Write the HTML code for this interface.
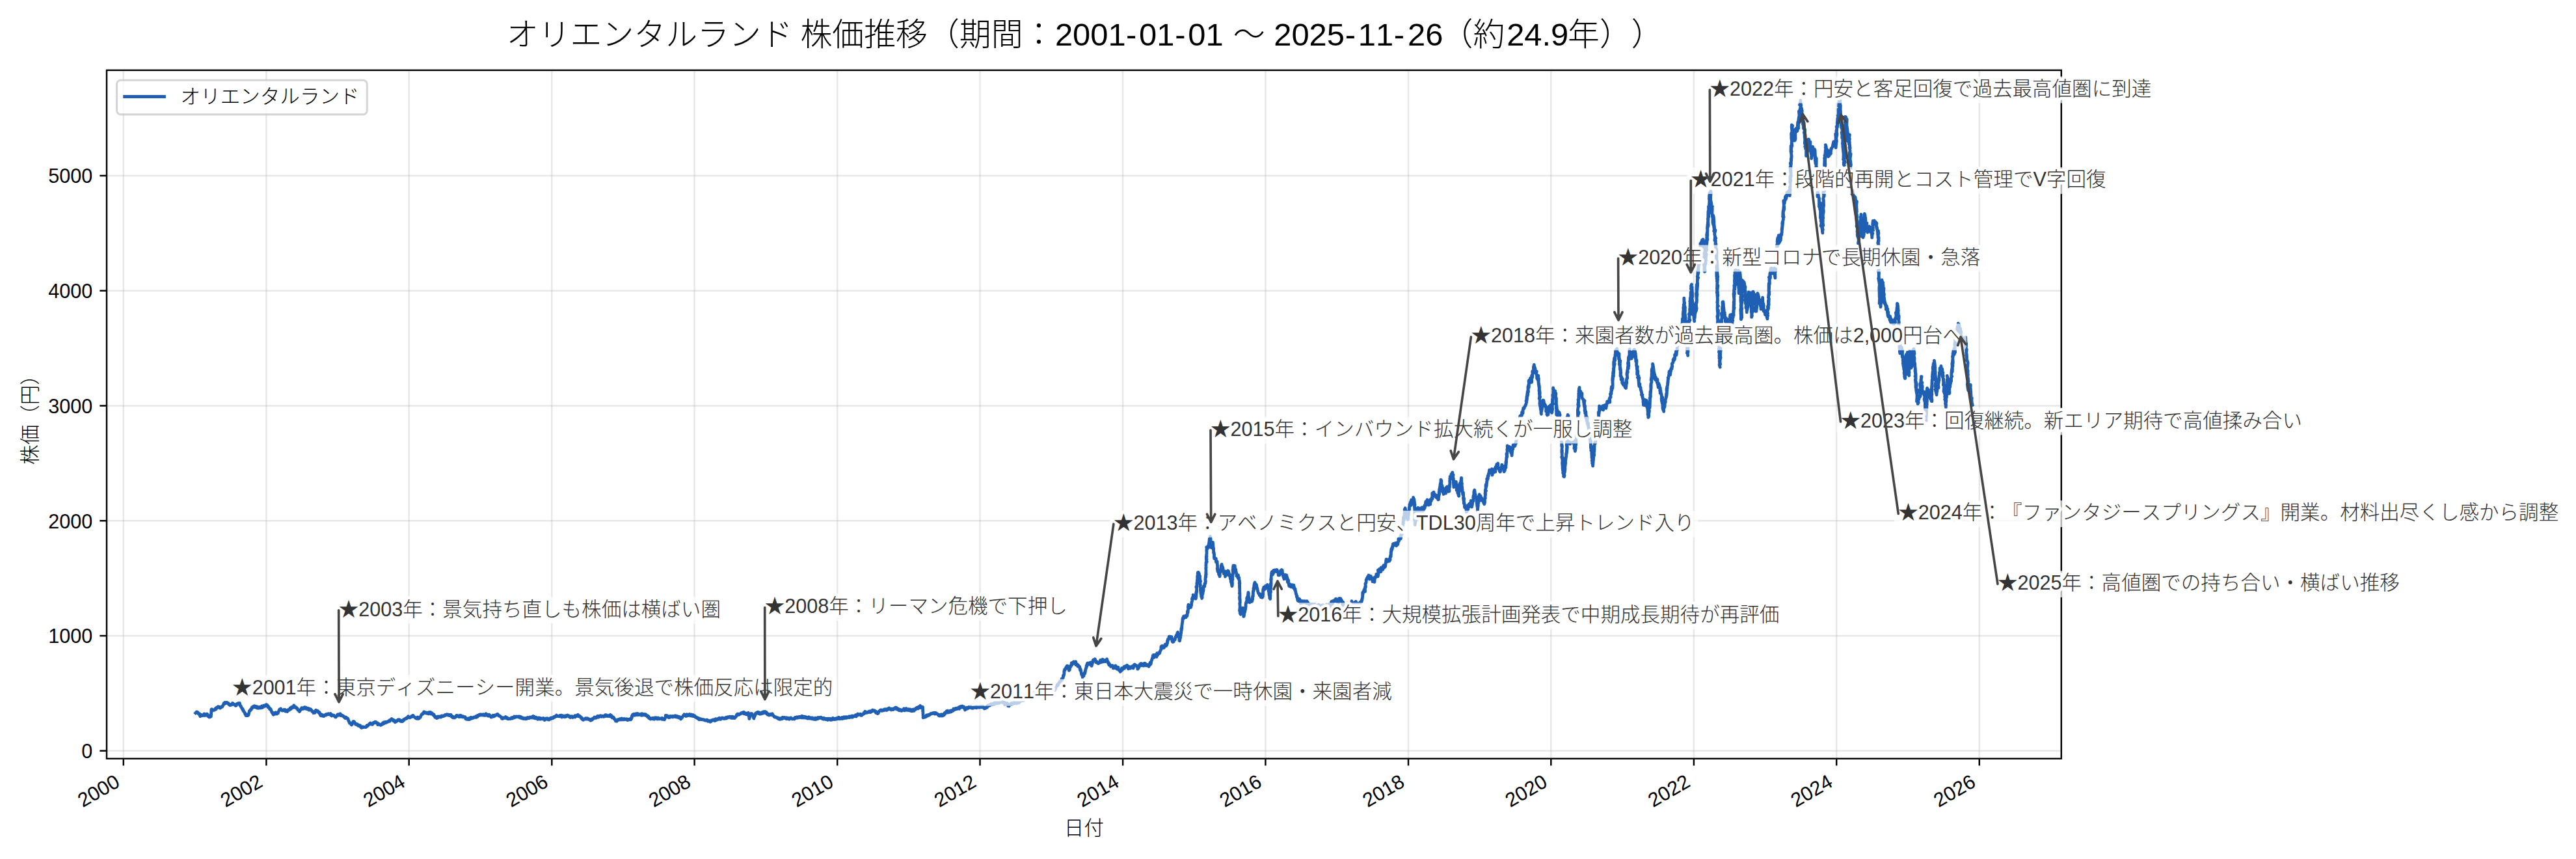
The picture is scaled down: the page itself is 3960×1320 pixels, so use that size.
<!DOCTYPE html>
<html><head><meta charset="utf-8"><title>オリエンタルランド 株価推移</title>
<style>html,body{margin:0;padding:0;background:#fff;}svg{display:block;}text{font-family:"Liberation Sans", "Noto Sans CJK JP", sans-serif;text-spacing-trim:space-all;font-kerning:none;}text{font-weight:300;}</style></head><body>
<svg width="3960" height="1320" viewBox="0 0 3960 1320">
<rect x="0" y="0" width="3960" height="1320" fill="#ffffff"/>
<defs><clipPath id="axclip"><rect x="164.0" y="107.9" width="3004.80" height="1057.90"/></clipPath></defs>
<g stroke="#b0b0b0" stroke-opacity="0.3" stroke-width="2.44" fill="none" clip-path="url(#axclip)"><path d="M189.80 107.9V1165.8"/><path d="M409.40 107.9V1165.8"/><path d="M628.70 107.9V1165.8"/><path d="M848.30 107.9V1165.8"/><path d="M1067.60 107.9V1165.8"/><path d="M1287.20 107.9V1165.8"/><path d="M1506.50 107.9V1165.8"/><path d="M1726.10 107.9V1165.8"/><path d="M1945.40 107.9V1165.8"/><path d="M2165.00 107.9V1165.8"/><path d="M2384.30 107.9V1165.8"/><path d="M2603.90 107.9V1165.8"/><path d="M2823.20 107.9V1165.8"/><path d="M3042.80 107.9V1165.8"/><path d="M164.0 1153.80H3168.8"/><path d="M164.0 977.05H3168.8"/><path d="M164.0 800.30H3168.8"/><path d="M164.0 623.55H3168.8"/><path d="M164.0 446.80H3168.8"/><path d="M164.0 270.05H3168.8"/></g>
<path d="M189.80 1165.8v10.69M409.40 1165.8v10.69M628.70 1165.8v10.69M848.30 1165.8v10.69M1067.60 1165.8v10.69M1287.20 1165.8v10.69M1506.50 1165.8v10.69M1726.10 1165.8v10.69M1945.40 1165.8v10.69M2165.00 1165.8v10.69M2384.30 1165.8v10.69M2603.90 1165.8v10.69M2823.20 1165.8v10.69M3042.80 1165.8v10.69M164.0 1153.80h-10.69M164.0 977.05h-10.69M164.0 800.30h-10.69M164.0 623.55h-10.69M164.0 446.80h-10.69M164.0 270.05h-10.69" stroke="#000" stroke-width="2.44" fill="none"/>
<polyline points="300.6,1095.7 301.0,1095.2 301.4,1095.2 302.0,1094.2 302.3,1093.8 302.8,1093.8 303.3,1094.8 303.7,1094.3 304.1,1094.6 304.6,1096.0 305.0,1096.9 305.5,1096.2 305.9,1097.0 306.4,1097.5 307.1,1097.1 307.3,1099.7 307.7,1100.7 308.1,1100.3 308.6,1100.0 309.1,1100.0 309.7,1098.5 309.9,1098.6 310.6,1099.6 310.8,1099.1 311.4,1099.5 311.8,1099.5 312.2,1099.3 313.0,1099.3 313.3,1098.8 313.7,1096.9 314.2,1098.9 314.7,1099.6 315.2,1098.4 315.6,1097.5 316.1,1097.7 316.5,1097.5 317.0,1099.0 317.3,1097.5 317.9,1097.1 318.6,1097.1 318.8,1098.7 319.5,1100.3 320.0,1099.7 320.5,1099.4 320.9,1101.7 321.5,1102.0 321.6,1101.3 322.2,1101.9 322.6,1101.9 323.1,1101.7 323.5,1100.5 323.9,1101.3 324.4,1101.1 324.4,1099.5 324.4,1097.7 324.6,1098.1 324.7,1095.2 324.6,1095.7 325.0,1093.8 324.8,1093.2 324.9,1090.9 324.9,1090.1 325.3,1089.8 326.0,1090.3 326.2,1090.2 326.9,1091.3 327.4,1091.0 327.8,1090.9 328.1,1091.4 328.8,1090.8 329.0,1090.7 329.6,1091.2 330.0,1091.0 330.6,1089.7 331.0,1088.8 331.4,1089.2 332.1,1088.1 332.4,1089.7 332.7,1087.7 333.4,1086.9 333.7,1087.0 334.3,1086.6 334.7,1086.7 335.4,1085.8 335.5,1086.4 336.1,1087.2 336.5,1086.8 337.1,1086.9 337.7,1086.4 337.8,1087.3 338.5,1088.2 338.9,1087.7 339.3,1087.4 339.9,1087.2 340.2,1086.9 340.8,1086.2 341.2,1086.0 341.8,1086.1 342.0,1084.9 342.6,1083.9 343.0,1083.8 343.6,1083.0 344.1,1080.6 344.5,1081.1 344.7,1080.8 345.3,1081.5 345.6,1079.5 346.2,1079.7 346.5,1080.6 347.0,1079.4 347.5,1080.5 348.0,1080.2 348.2,1079.4 349.1,1079.3 349.4,1080.2 349.8,1080.4 350.3,1080.6 351.0,1080.5 351.4,1082.2 351.7,1082.1 352.2,1082.4 352.9,1083.3 353.2,1082.5 353.7,1083.8 354.1,1083.3 354.5,1083.5 355.1,1082.8 355.5,1082.7 356.2,1081.9 356.2,1083.2 356.6,1081.8 357.0,1081.6 357.5,1080.2 358.2,1081.3 358.4,1081.1 359.1,1081.9 359.2,1082.0 359.9,1082.8 360.6,1082.9 360.8,1083.3 361.0,1083.1 361.6,1084.0 362.0,1082.6 362.3,1084.5 363.0,1083.1 363.3,1084.1 364.0,1081.7 364.2,1081.5 364.8,1082.0 365.4,1080.8 365.7,1080.8 366.4,1081.5 366.6,1081.8 367.1,1080.0 367.5,1081.5 368.1,1079.9 368.6,1081.3 369.1,1084.3 369.5,1084.5 370.2,1084.9 370.6,1086.4 371.2,1086.9 371.5,1087.7 372.0,1088.5 372.3,1089.4 372.8,1089.8 373.2,1089.4 373.6,1091.5 374.3,1092.8 374.7,1092.6 375.0,1093.6 375.6,1094.5 375.8,1094.7 376.2,1095.0 376.6,1096.8 377.2,1098.1 377.6,1096.9 378.0,1099.7 378.5,1099.4 378.9,1099.7 379.5,1098.3 379.6,1099.0 380.3,1099.0 380.7,1098.4 381.2,1099.5 381.4,1098.2 382.0,1098.8 382.4,1097.6 382.5,1096.2 382.9,1095.3 383.2,1093.6 383.4,1092.3 384.1,1091.9 384.4,1091.4 384.9,1091.8 385.3,1090.0 385.9,1089.6 386.4,1090.3 386.7,1088.9 387.3,1087.7 387.5,1086.6 388.0,1087.8 388.5,1087.2 388.9,1086.9 389.4,1087.0 389.9,1085.1 390.2,1086.1 390.8,1085.8 391.3,1084.8 391.8,1085.5 392.3,1086.6 392.5,1085.2 393.1,1086.1 393.7,1087.4 394.1,1087.3 394.5,1085.9 394.9,1085.7 395.5,1088.1 396.0,1087.7 396.4,1087.5 397.0,1088.1 397.3,1087.0 397.9,1088.2 398.1,1086.6 398.7,1087.3 399.3,1086.6 399.5,1086.9 399.9,1088.1 400.4,1086.6 400.9,1087.7 401.4,1086.3 401.8,1086.0 402.4,1085.1 402.8,1087.7 403.1,1085.2 403.7,1085.2 403.9,1085.4 404.6,1086.7 405.3,1084.1 405.6,1084.8 406.1,1085.2 406.5,1084.8 407.0,1085.2 407.4,1083.7 407.8,1084.2 408.3,1085.0 408.7,1084.8 409.1,1083.9 409.5,1082.7 410.4,1084.1 410.6,1083.3 411.1,1084.0 411.6,1084.2 412.2,1086.7 412.5,1085.5 412.9,1086.6 413.3,1086.5 413.8,1087.9 414.3,1089.4 414.9,1088.5 415.4,1089.4 415.8,1090.1 416.2,1089.6 416.5,1091.7 417.2,1092.1 417.4,1093.8 417.9,1093.8 418.3,1095.4 419.0,1095.9 419.5,1096.6 419.8,1097.6 420.2,1098.2 420.7,1096.4 421.2,1096.3 421.7,1095.4 422.2,1095.5 422.6,1097.3 423.1,1096.9 423.3,1095.4 423.9,1094.7 424.3,1095.0 424.9,1095.7 425.2,1095.3 425.7,1097.1 426.1,1095.9 426.5,1095.9 427.0,1095.8 427.4,1095.9 427.8,1094.3 428.3,1093.5 428.8,1092.2 429.3,1091.0 429.7,1090.1 430.3,1089.9 430.8,1089.9 431.0,1089.8 431.6,1089.1 432.1,1090.3 432.4,1090.5 433.0,1091.6 433.5,1091.7 433.9,1092.0 434.4,1091.2 434.7,1091.6 435.2,1091.2 435.8,1091.6 436.2,1091.0 436.5,1090.6 437.1,1091.7 437.5,1092.1 438.1,1090.6 438.4,1092.2 438.8,1093.0 439.3,1091.4 439.7,1091.7 440.1,1091.8 440.3,1091.9 440.9,1092.9 441.4,1092.4 441.8,1093.4 442.3,1090.9 442.5,1090.8 443.1,1090.4 443.6,1091.1 444.1,1090.9 444.4,1091.3 444.9,1090.1 445.4,1090.4 445.9,1088.2 446.3,1088.2 446.8,1088.7 447.2,1089.6 447.6,1086.8 448.0,1087.4 448.6,1087.3 448.8,1087.2 449.3,1088.0 449.7,1086.0 450.2,1085.7 450.7,1085.7 451.3,1087.1 451.7,1084.0 452.0,1086.0 452.7,1085.2 453.1,1086.4 453.7,1085.9 454.0,1087.0 454.5,1087.6 454.8,1086.7 455.4,1087.2 455.5,1087.8 456.1,1087.6 456.9,1089.4 457.2,1088.9 457.7,1090.9 458.2,1091.4 458.8,1091.3 459.2,1091.1 459.4,1092.4 460.0,1092.4 460.4,1093.5 461.0,1092.2 461.4,1090.9 461.7,1091.7 462.1,1090.7 462.5,1089.8 463.3,1089.6 463.7,1087.7 464.1,1088.7 464.7,1088.9 465.2,1089.0 465.7,1089.4 466.1,1087.9 466.4,1088.7 466.8,1087.4 467.4,1087.0 467.8,1087.0 468.2,1087.2 468.5,1086.7 469.3,1089.1 469.5,1088.3 470.1,1087.1 470.4,1087.1 470.7,1088.4 471.4,1088.3 471.5,1089.2 472.1,1089.7 472.6,1088.9 473.2,1088.3 473.6,1089.3 474.0,1089.5 474.4,1088.6 474.9,1091.1 475.4,1089.8 475.6,1089.5 476.3,1089.4 476.8,1091.1 477.1,1089.6 477.9,1090.2 478.1,1090.2 478.7,1091.2 479.3,1091.9 479.7,1092.5 479.9,1093.4 480.5,1093.1 480.9,1093.7 481.7,1094.1 481.8,1095.6 482.4,1093.7 482.8,1095.4 483.3,1094.7 483.7,1095.4 484.2,1095.2 484.4,1094.4 485.2,1091.8 485.6,1091.3 485.9,1091.5 486.4,1092.9 486.8,1091.8 487.3,1092.1 487.8,1092.2 488.2,1093.1 488.5,1093.3 488.7,1092.6 489.4,1094.7 489.9,1094.2 490.3,1094.2 491.0,1094.6 491.2,1096.5 491.7,1097.4 492.5,1096.5 492.6,1099.4 493.0,1099.7 493.5,1098.8 493.8,1098.9 494.3,1098.1 494.8,1099.9 495.3,1100.1 495.8,1098.6 496.1,1100.4 496.5,1099.3 497.0,1099.4 497.4,1099.2 497.9,1100.6 498.5,1100.0 498.9,1099.6 499.5,1099.0 499.9,1098.9 500.5,1097.9 501.0,1098.3 501.3,1099.0 501.5,1097.7 502.2,1098.0 502.7,1098.2 503.1,1097.1 503.6,1097.7 504.1,1097.1 504.6,1096.7 504.9,1096.7 505.5,1097.9 505.9,1097.4 506.4,1097.3 506.8,1097.8 507.3,1097.3 507.8,1097.6 508.2,1096.6 508.5,1099.0 509.1,1098.2 509.5,1098.3 509.7,1100.0 510.2,1098.3 510.8,1098.6 511.3,1098.8 511.7,1099.2 512.3,1099.3 512.6,1099.2 513.2,1099.1 513.4,1100.0 514.0,1100.5 514.5,1100.7 515.1,1101.5 515.5,1101.9 515.9,1101.1 516.4,1101.9 517.0,1100.6 517.2,1100.3 517.8,1100.1 518.4,1098.6 518.7,1098.9 519.2,1097.8 519.7,1098.9 520.1,1099.2 520.6,1098.2 521.1,1097.7 521.7,1098.4 521.9,1098.6 522.2,1098.2 523.1,1096.8 523.5,1099.7 523.8,1099.0 524.4,1098.6 524.9,1099.6 525.2,1098.8 525.5,1098.8 526.1,1099.2 526.7,1100.3 527.1,1100.2 527.5,1100.0 528.1,1100.8 528.5,1100.9 529.1,1102.3 529.3,1102.0 529.9,1102.3 530.5,1102.5 530.8,1103.7 531.3,1101.9 531.9,1102.3 532.2,1103.0 532.5,1102.7 533.2,1103.1 533.7,1103.6 534.0,1104.5 534.6,1104.1 535.1,1104.8 535.5,1106.3 535.8,1107.7 536.3,1107.8 536.6,1109.7 537.1,1109.4 537.4,1111.3 538.0,1111.0 538.4,1111.6 539.1,1111.5 539.4,1112.4 539.9,1113.5 540.4,1113.9 540.7,1113.1 541.3,1113.0 541.7,1110.8 542.1,1111.0 542.4,1111.1 542.9,1108.7 543.5,1108.8 543.9,1108.7 544.4,1110.3 544.6,1109.0 545.3,1111.4 545.8,1110.9 546.2,1112.2 546.7,1113.4 547.1,1113.4 547.6,1112.5 547.9,1113.1 548.4,1112.6 548.8,1112.7 549.3,1113.3 549.7,1113.0 550.3,1115.2 550.6,1114.6 551.0,1114.3 551.6,1114.6 552.0,1114.5 552.2,1114.8 552.9,1116.0 553.3,1115.9 553.7,1114.8 554.3,1116.3 554.5,1116.5 555.0,1117.8 555.5,1117.4 556.0,1118.4 556.5,1117.3 556.6,1117.2 557.3,1117.1 557.7,1116.7 558.2,1117.4 558.6,1117.3 559.1,1117.6 559.5,1117.1 560.1,1117.4 560.5,1117.4 561.0,1117.2 561.3,1117.4 561.8,1117.5 562.3,1116.9 562.7,1117.4 563.2,1116.4 563.7,1115.2 564.1,1114.8 564.8,1115.8 565.0,1114.4 565.5,1114.3 566.0,1114.5 566.4,1114.4 566.9,1113.4 567.3,1112.9 567.7,1112.5 568.1,1112.1 568.7,1112.5 569.0,1111.7 569.5,1111.0 570.0,1112.5 570.2,1111.5 570.7,1111.9 571.2,1113.0 571.5,1112.2 572.0,1113.0 572.6,1113.3 573.0,1112.8 573.4,1112.2 574.0,1111.5 574.1,1110.5 574.7,1111.1 575.1,1110.6 575.5,1110.5 576.0,1109.9 576.5,1109.3 576.9,1109.6 577.3,1110.6 577.9,1109.4 578.4,1110.6 578.9,1111.1 579.4,1111.6 579.7,1110.8 580.4,1110.8 580.6,1113.5 581.1,1112.2 581.6,1112.3 582.2,1113.3 582.5,1112.7 582.9,1113.5 583.3,1112.7 583.8,1113.9 584.1,1113.9 584.6,1113.9 585.2,1114.5 585.7,1114.2 586.2,1114.2 586.5,1113.0 587.2,1112.8 587.4,1113.1 588.1,1112.9 588.3,1111.0 588.7,1111.4 589.3,1111.0 589.9,1110.0 590.1,1112.1 590.7,1110.5 591.2,1110.8 591.5,1110.8 592.0,1109.4 592.4,1109.3 592.9,1109.3 593.2,1110.8 593.7,1110.2 594.2,1109.7 594.7,1109.4 595.1,1109.3 595.4,1109.6 596.1,1109.0 596.3,1108.7 596.7,1108.6 597.0,1108.8 597.7,1107.6 598.2,1107.6 598.4,1107.2 599.1,1106.6 599.3,1108.3 600.0,1106.0 600.5,1105.7 600.7,1105.9 601.3,1105.7 601.5,1105.6 602.1,1104.6 602.5,1105.6 603.0,1105.5 603.4,1105.9 604.0,1106.3 604.5,1107.6 604.9,1106.1 605.4,1107.4 605.9,1107.5 606.0,1108.5 606.5,1107.3 607.1,1109.1 607.4,1109.8 607.9,1109.3 608.5,1108.8 608.9,1108.7 609.3,1108.8 609.8,1108.3 610.3,1107.1 610.8,1107.8 611.2,1107.3 611.8,1106.1 612.2,1106.8 612.6,1106.4 613.1,1105.9 613.5,1106.8 614.2,1106.0 614.3,1106.5 615.0,1107.0 615.4,1108.0 615.7,1107.4 616.2,1107.2 616.6,1108.7 617.1,1108.3 617.4,1108.0 618.1,1107.8 618.4,1108.7 618.8,1108.7 619.3,1106.6 619.9,1107.4 620.2,1106.5 620.6,1105.6 621.0,1106.8 621.7,1105.7 621.9,1105.3 622.5,1104.6 622.9,1104.2 623.4,1104.7 623.8,1104.4 624.3,1103.5 624.8,1103.1 625.1,1104.3 625.9,1103.0 626.1,1102.9 626.6,1102.6 627.3,1102.5 627.5,1100.7 628.0,1102.0 628.5,1102.5 628.9,1102.3 629.2,1102.2 629.7,1102.4 630.1,1102.8 630.8,1102.5 631.2,1102.0 631.7,1101.9 632.1,1101.3 632.3,1100.8 632.8,1101.5 633.2,1100.2 633.9,1100.1 634.3,1099.5 634.7,1100.0 635.2,1099.5 635.6,1100.3 636.2,1101.5 636.5,1101.4 637.0,1101.7 637.3,1102.1 637.9,1102.6 638.4,1103.0 638.9,1103.2 639.2,1103.8 639.6,1103.2 640.1,1103.6 640.6,1103.5 640.9,1104.2 641.5,1102.9 642.0,1102.1 642.6,1104.4 643.0,1104.1 643.4,1104.4 643.9,1102.7 644.3,1104.0 644.7,1103.5 645.2,1102.9 645.6,1102.4 646.1,1102.4 646.7,1100.6 647.0,1100.3 647.5,1098.9 647.9,1098.5 648.3,1098.3 648.7,1097.1 649.2,1097.6 649.6,1097.3 650.0,1096.1 650.5,1096.8 650.8,1095.5 651.3,1095.0 651.8,1093.7 652.2,1094.7 652.8,1095.2 653.1,1095.4 653.6,1095.1 654.3,1095.0 654.5,1095.7 655.0,1094.9 655.6,1095.8 655.8,1096.2 656.3,1096.3 656.9,1095.9 657.2,1095.3 657.9,1095.8 658.2,1095.2 658.8,1094.7 659.0,1097.0 659.5,1094.5 660.0,1094.5 660.4,1094.7 660.8,1096.4 661.2,1095.5 661.8,1094.4 662.1,1096.8 662.6,1097.1 663.0,1097.0 663.6,1095.5 664.1,1095.8 664.8,1097.3 665.0,1097.6 665.4,1098.0 665.8,1098.2 666.4,1099.2 666.9,1097.7 667.4,1099.7 667.7,1099.7 668.1,1100.3 668.7,1102.2 669.0,1101.3 669.5,1101.1 669.9,1101.8 670.4,1102.4 670.8,1102.9 671.2,1103.6 671.8,1101.6 672.1,1102.4 672.7,1103.2 673.2,1101.0 673.7,1102.8 673.9,1102.2 674.6,1101.8 675.0,1101.5 675.3,1100.9 675.8,1101.8 676.0,1101.7 676.7,1101.1 677.2,1101.9 677.5,1101.7 678.0,1101.9 678.5,1100.2 678.9,1100.0 679.4,1101.2 680.1,1100.1 680.3,1100.4 680.8,1100.4 681.3,1100.6 681.8,1100.4 682.2,1100.3 682.8,1099.4 683.1,1099.5 683.6,1099.8 684.1,1098.6 684.6,1099.4 685.2,1098.6 685.5,1098.4 686.0,1098.2 686.4,1098.4 686.9,1097.7 687.3,1098.7 687.6,1098.4 687.9,1098.9 688.6,1099.0 689.0,1098.0 689.7,1098.8 689.9,1099.4 690.4,1098.8 690.8,1099.1 691.5,1098.5 691.8,1098.8 692.2,1098.5 692.5,1100.0 693.1,1098.3 693.6,1099.5 694.0,1101.0 694.6,1101.6 694.8,1100.8 695.2,1101.7 695.9,1100.8 696.2,1102.8 696.8,1102.8 697.4,1102.0 697.6,1102.9 698.1,1102.0 698.4,1102.4 699.1,1102.9 699.4,1102.5 700.2,1101.2 700.5,1101.9 701.0,1101.1 701.5,1099.4 701.9,1101.0 702.3,1100.0 702.8,1099.9 703.0,1100.6 703.7,1099.6 704.1,1099.9 704.5,1100.1 705.1,1101.3 705.3,1100.4 705.9,1101.8 706.3,1100.9 706.6,1100.9 707.3,1099.3 707.6,1101.3 708.1,1100.6 708.5,1100.8 709.0,1099.6 709.4,1101.2 709.9,1100.4 710.3,1100.7 710.9,1101.8 711.5,1101.4 711.8,1100.7 712.3,1101.9 712.8,1101.1 713.3,1101.7 713.9,1101.8 714.1,1102.2 714.5,1102.3 715.1,1101.8 715.5,1103.0 715.8,1104.5 716.2,1104.3 716.7,1105.2 717.2,1104.4 717.5,1104.3 718.1,1104.2 718.6,1105.4 719.1,1105.6 719.4,1104.1 719.9,1104.5 720.4,1105.6 721.0,1105.6 721.5,1103.4 721.7,1105.5 722.0,1103.8 722.6,1104.8 723.1,1103.4 723.6,1104.6 724.2,1102.3 724.4,1103.5 725.0,1103.4 725.3,1103.1 725.8,1103.4 726.1,1103.8 726.7,1103.4 727.1,1102.8 727.6,1103.2 727.9,1102.8 728.4,1102.7 728.8,1101.9 729.3,1102.2 729.8,1101.9 730.2,1102.3 730.7,1101.8 731.1,1102.2 731.6,1100.7 732.1,1102.5 732.3,1102.0 732.8,1101.7 732.9,1101.2 733.7,1099.8 734.1,1101.4 734.6,1099.4 734.8,1099.5 735.5,1098.9 735.9,1099.3 736.2,1099.8 736.7,1098.3 737.2,1098.8 737.6,1099.1 738.1,1098.3 738.5,1097.9 739.0,1098.4 739.5,1098.8 740.0,1098.0 740.5,1098.2 740.9,1098.2 741.4,1099.1 741.8,1098.9 742.2,1097.9 742.6,1098.3 743.0,1098.8 743.4,1097.8 744.0,1098.9 744.3,1099.2 744.8,1098.1 745.3,1098.2 745.9,1099.4 745.9,1098.1 746.6,1097.4 747.1,1096.7 747.6,1099.1 747.9,1098.9 748.3,1097.5 748.9,1098.8 749.3,1099.0 749.8,1100.0 750.2,1099.7 750.6,1098.6 751.1,1098.2 751.5,1100.3 752.0,1098.2 752.5,1099.3 752.9,1099.0 753.5,1100.3 753.8,1100.1 754.0,1100.0 754.7,1100.6 755.0,1102.2 755.7,1102.2 756.0,1101.6 756.6,1101.4 757.2,1100.7 757.5,1100.2 757.9,1099.2 758.4,1099.4 758.9,1101.0 759.3,1100.0 759.8,1100.7 760.3,1100.3 760.7,1099.0 761.1,1099.3 761.6,1099.6 762.0,1098.6 762.6,1098.6 763.0,1098.4 763.6,1097.7 764.0,1098.2 764.5,1098.3 764.9,1097.2 765.3,1099.1 765.8,1098.3 766.2,1099.2 766.8,1100.0 767.2,1100.0 767.7,1099.9 768.1,1099.8 768.7,1100.6 769.1,1101.1 769.7,1101.5 769.9,1101.9 770.4,1101.7 770.7,1101.9 771.3,1103.6 771.6,1104.3 772.2,1104.1 772.7,1104.4 773.1,1103.6 773.6,1103.1 773.8,1102.9 774.7,1103.3 774.9,1102.9 775.4,1102.8 775.6,1102.9 776.2,1103.4 776.7,1102.8 777.2,1101.5 777.6,1102.8 778.0,1102.9 778.5,1102.5 779.0,1102.5 779.5,1104.3 779.7,1102.8 780.3,1103.4 780.6,1103.9 781.1,1104.9 781.8,1104.7 782.1,1104.4 782.6,1104.6 783.2,1104.4 783.5,1104.4 784.2,1104.1 784.5,1104.7 784.8,1104.0 785.4,1103.9 785.8,1103.7 786.2,1102.9 786.9,1104.1 787.3,1103.5 787.9,1102.6 788.3,1103.7 788.7,1103.2 789.1,1103.0 789.6,1101.9 790.0,1102.2 790.6,1100.9 791.2,1102.8 791.5,1102.2 791.9,1101.7 792.5,1101.8 793.0,1101.3 793.3,1102.1 793.7,1101.9 794.1,1101.0 794.6,1101.3 795.0,1101.4 795.4,1101.1 795.9,1101.5 796.5,1101.2 796.8,1102.1 797.4,1101.0 797.8,1101.1 798.1,1101.9 798.7,1102.1 799.2,1101.0 799.6,1103.1 799.9,1102.4 800.2,1102.0 800.6,1102.7 801.3,1101.9 801.6,1102.5 802.2,1103.9 802.6,1102.9 802.8,1103.6 803.4,1103.3 803.9,1103.1 804.5,1104.0 804.8,1104.6 805.1,1104.0 805.7,1104.3 806.0,1103.6 806.5,1103.7 807.2,1104.7 807.3,1103.8 808.1,1104.5 808.6,1104.0 808.9,1103.5 809.4,1103.8 809.8,1104.6 810.1,1103.1 810.8,1103.6 811.3,1102.6 811.5,1103.1 812.3,1103.5 812.6,1103.5 813.2,1103.8 813.6,1103.1 814.1,1102.9 814.6,1102.0 814.8,1101.9 815.5,1102.5 815.8,1102.7 816.3,1102.1 816.7,1102.4 817.1,1102.6 817.6,1103.0 818.0,1102.1 818.4,1101.5 819.1,1101.2 819.4,1100.5 819.9,1101.7 820.4,1103.2 820.8,1101.8 821.1,1101.0 821.8,1102.5 822.3,1102.7 822.7,1102.3 823.0,1104.0 823.5,1103.7 824.1,1102.3 824.6,1103.5 825.1,1102.8 825.5,1104.3 825.9,1103.2 826.4,1104.0 826.6,1105.4 827.2,1103.6 827.9,1103.1 828.3,1103.7 828.5,1103.8 829.0,1104.4 829.5,1105.0 829.9,1103.1 830.4,1104.1 830.7,1105.1 831.3,1104.7 831.7,1104.9 832.1,1104.0 832.6,1103.9 833.2,1104.5 833.7,1104.3 833.9,1104.5 834.3,1104.8 834.7,1105.0 835.3,1103.4 835.7,1104.7 836.2,1104.6 836.6,1105.2 837.2,1106.6 837.6,1105.7 838.0,1104.9 838.3,1105.0 838.7,1105.7 839.2,1104.0 839.9,1104.4 840.2,1104.5 840.6,1104.2 841.3,1103.7 841.6,1105.1 842.1,1105.6 842.5,1104.4 843.1,1105.6 843.5,1104.9 844.0,1106.0 844.4,1105.2 844.9,1105.0 845.2,1105.3 845.7,1104.8 846.1,1103.5 846.5,1104.1 847.2,1104.5 847.4,1104.4 848.0,1103.0 848.5,1103.0 848.9,1103.1 849.3,1103.0 849.8,1103.7 850.2,1102.9 850.8,1102.0 851.1,1103.0 851.5,1101.5 851.9,1101.3 852.5,1102.2 853.0,1101.2 853.3,1101.3 853.9,1101.4 854.3,1100.3 854.8,1100.6 855.4,1099.1 855.8,1100.5 856.2,1100.0 856.4,1100.5 857.2,1100.3 857.5,1100.4 858.0,1100.7 858.2,1100.4 858.9,1100.6 859.1,1100.6 859.6,1100.2 860.0,1100.3 860.5,1100.9 860.8,1099.4 861.4,1099.6 861.8,1100.0 862.2,1099.3 862.7,1100.6 863.3,1099.3 863.6,1102.0 864.0,1099.6 864.4,1101.0 864.9,1100.8 865.4,1101.3 865.8,1100.1 866.3,1100.8 866.5,1099.9 867.1,1100.7 867.6,1100.6 868.1,1101.8 868.5,1101.7 869.0,1100.9 869.5,1100.5 869.9,1099.9 870.2,1101.4 870.8,1100.0 871.3,1100.5 871.8,1100.1 872.1,1100.0 872.5,1098.9 873.2,1100.1 873.5,1100.0 874.2,1100.1 874.4,1099.8 874.8,1101.4 875.4,1100.6 875.8,1101.1 876.3,1101.6 876.7,1102.6 877.0,1102.3 877.6,1100.7 878.1,1101.3 878.6,1101.3 879.0,1101.0 879.4,1100.7 880.0,1102.1 880.2,1102.5 880.7,1101.1 881.1,1101.6 881.6,1101.7 882.0,1101.9 882.7,1101.8 883.1,1101.4 883.3,1100.9 884.0,1099.7 884.1,1102.2 884.7,1100.0 885.2,1099.8 885.7,1100.8 886.0,1100.7 886.8,1099.7 886.8,1099.3 887.5,1099.6 887.9,1099.4 888.4,1098.2 888.8,1100.6 889.3,1100.1 889.7,1100.2 890.3,1100.1 890.8,1101.1 891.2,1100.2 891.8,1101.6 892.1,1101.1 892.6,1102.1 893.1,1102.1 893.2,1103.3 893.9,1102.6 894.2,1104.3 894.6,1103.3 895.2,1105.5 895.6,1105.2 896.3,1104.9 896.6,1106.3 896.9,1105.1 897.3,1105.4 897.8,1105.4 898.3,1105.2 898.9,1104.9 899.2,1105.0 899.6,1104.2 900.2,1103.7 900.4,1104.3 900.9,1105.0 901.4,1104.1 901.9,1105.1 902.3,1104.8 902.7,1103.8 903.1,1104.4 903.5,1105.1 904.0,1104.2 904.5,1104.3 904.9,1105.6 905.4,1105.2 906.0,1105.9 906.3,1105.3 906.6,1105.6 907.2,1105.8 907.5,1105.7 908.0,1107.2 908.4,1106.4 908.9,1106.3 909.4,1106.5 909.7,1105.1 910.2,1106.0 910.8,1105.8 911.1,1104.0 911.5,1103.9 912.0,1104.0 912.3,1104.2 912.9,1103.6 913.4,1102.8 913.8,1102.1 914.3,1102.9 914.9,1102.7 915.1,1102.6 915.5,1103.2 916.2,1102.3 916.5,1103.2 916.7,1102.9 917.2,1102.8 917.7,1102.2 918.1,1102.1 918.4,1100.5 919.1,1100.4 919.3,1101.0 919.9,1102.3 920.2,1100.7 920.8,1101.7 921.2,1101.1 921.7,1100.2 922.3,1099.9 922.6,1100.9 922.9,1100.4 923.4,1100.9 924.0,1099.8 924.2,1100.8 924.8,1101.3 925.1,1100.7 925.5,1101.0 926.3,1100.2 926.4,1101.2 927.1,1101.1 927.5,1100.2 927.9,1101.3 928.5,1100.6 928.7,1101.3 929.4,1100.0 929.6,1100.6 930.3,1098.6 930.6,1099.8 931.2,1099.5 931.7,1100.4 931.9,1098.6 932.4,1099.9 932.9,1099.4 933.5,1099.3 933.6,1099.4 934.3,1100.7 934.7,1099.6 935.1,1100.0 935.5,1100.1 936.2,1100.1 936.2,1099.5 937.0,1100.8 937.4,1099.3 937.9,1098.8 938.3,1098.4 938.7,1100.0 939.1,1101.1 939.7,1100.8 940.1,1099.6 940.6,1102.2 941.0,1102.9 941.5,1101.4 941.7,1101.5 942.6,1102.2 942.8,1102.0 943.4,1102.9 943.9,1103.0 944.2,1104.8 944.8,1105.1 945.1,1105.2 945.5,1106.3 946.1,1106.5 946.5,1108.1 946.9,1107.5 947.2,1107.7 947.7,1107.7 948.2,1108.3 948.5,1107.0 949.1,1106.7 949.4,1105.9 949.8,1105.7 950.3,1106.7 950.8,1105.9 951.2,1105.5 951.6,1105.8 952.2,1105.2 952.6,1105.9 952.9,1104.6 953.5,1105.8 953.8,1105.2 954.3,1104.6 954.8,1106.1 955.1,1105.1 955.6,1104.0 956.0,1105.2 956.5,1105.0 956.8,1105.9 957.3,1105.2 957.7,1105.2 958.3,1105.5 958.6,1104.8 959.0,1105.9 959.5,1105.6 960.0,1104.6 960.4,1105.0 960.8,1105.2 961.2,1105.5 961.7,1105.3 962.0,1105.6 962.7,1105.0 963.2,1105.1 963.4,1104.8 963.8,1105.1 964.3,1106.6 964.6,1105.2 965.2,1105.3 965.7,1105.7 966.1,1106.1 966.6,1105.3 967.0,1105.3 967.6,1105.0 967.8,1105.7 968.4,1105.3 968.9,1104.4 969.3,1104.6 969.6,1105.8 970.2,1105.2 970.6,1104.4 971.0,1102.4 971.4,1102.8 971.4,1100.0 972.0,1099.1 972.5,1098.2 972.9,1099.0 973.3,1099.2 973.9,1097.6 974.5,1097.2 974.9,1097.3 975.5,1098.1 975.7,1099.3 976.3,1098.0 976.8,1097.6 977.1,1097.6 977.5,1096.6 978.0,1096.6 978.5,1098.6 978.9,1097.5 979.3,1098.7 979.8,1097.2 980.2,1096.4 980.6,1097.7 981.3,1097.2 981.6,1098.6 981.8,1098.5 982.4,1097.7 982.9,1097.7 983.4,1097.8 983.7,1097.8 984.1,1097.9 984.6,1098.6 985.1,1097.1 985.6,1097.4 985.8,1099.3 986.3,1098.6 986.8,1096.6 987.4,1098.8 987.5,1098.3 988.1,1098.9 988.6,1098.2 989.0,1097.6 989.2,1098.1 989.6,1098.6 990.3,1097.7 990.8,1097.6 991.1,1098.2 991.6,1097.5 992.0,1099.2 992.5,1098.3 992.9,1098.1 993.3,1098.8 994.0,1099.7 994.4,1099.4 994.8,1100.6 995.2,1101.4 995.8,1100.0 996.3,1100.5 996.6,1100.4 997.1,1101.5 997.4,1103.5 997.9,1102.3 998.3,1102.8 998.9,1103.3 999.3,1104.6 999.8,1104.5 1000.0,1105.0 1000.7,1104.6 1001.1,1104.0 1001.4,1104.2 1002.0,1103.9 1002.5,1104.3 1002.8,1103.4 1003.2,1104.7 1003.7,1103.9 1004.4,1104.0 1004.6,1104.8 1004.9,1103.8 1005.5,1104.0 1005.9,1105.2 1006.4,1102.9 1006.8,1104.1 1007.4,1103.5 1007.8,1104.1 1008.2,1104.0 1008.8,1102.8 1009.2,1103.5 1009.9,1103.8 1010.2,1105.0 1010.5,1104.4 1010.9,1104.8 1011.6,1102.9 1012.0,1104.0 1012.5,1104.1 1012.8,1104.8 1013.3,1103.8 1013.6,1104.9 1014.2,1104.2 1014.6,1104.1 1015.2,1104.3 1015.6,1104.1 1016.2,1103.7 1016.5,1104.7 1017.0,1105.0 1017.4,1103.8 1017.7,1105.4 1018.2,1103.5 1018.6,1103.8 1019.0,1104.5 1019.6,1104.9 1019.9,1104.2 1020.2,1105.6 1021.1,1105.6 1021.4,1105.8 1021.9,1104.6 1022.3,1103.7 1023.0,1102.1 1023.2,1099.3 1023.7,1099.4 1024.2,1099.4 1024.7,1099.9 1024.8,1100.5 1025.4,1099.7 1025.8,1099.9 1026.2,1101.8 1026.8,1100.7 1027.2,1101.7 1027.7,1101.3 1028.2,1102.8 1028.6,1101.2 1029.0,1101.7 1029.5,1100.7 1029.8,1102.5 1030.4,1100.7 1030.8,1101.8 1031.3,1100.5 1031.5,1100.6 1032.2,1100.8 1032.7,1101.5 1033.0,1101.1 1033.7,1101.6 1033.8,1100.3 1034.4,1101.9 1034.8,1100.9 1035.3,1100.9 1035.6,1100.6 1036.1,1101.0 1036.6,1100.5 1037.4,1101.4 1037.5,1100.1 1038.0,1099.7 1038.5,1101.5 1038.9,1101.1 1039.2,1101.1 1039.8,1101.9 1040.2,1100.2 1040.6,1101.4 1041.3,1101.2 1041.6,1102.3 1042.1,1101.7 1042.4,1102.1 1043.0,1101.1 1043.2,1101.7 1043.7,1103.1 1044.3,1102.7 1044.7,1102.9 1045.1,1101.8 1045.8,1103.4 1046.2,1103.9 1046.6,1104.9 1047.0,1104.6 1047.4,1104.2 1047.9,1103.1 1048.4,1102.3 1048.8,1102.6 1049.2,1101.5 1049.5,1100.9 1050.1,1100.1 1050.5,1099.4 1050.8,1098.9 1051.6,1098.6 1051.8,1097.7 1052.4,1098.8 1052.7,1099.5 1053.0,1099.2 1053.5,1098.5 1054.0,1099.3 1054.5,1100.4 1055.0,1098.9 1055.4,1100.4 1055.7,1097.6 1056.3,1098.8 1056.8,1099.1 1057.2,1098.5 1057.8,1099.4 1058.1,1098.1 1058.6,1097.9 1058.8,1098.6 1059.4,1099.3 1059.9,1098.7 1060.1,1097.3 1060.7,1098.6 1061.3,1099.9 1061.6,1099.5 1062.0,1098.3 1062.2,1098.2 1062.8,1097.9 1063.3,1098.8 1063.8,1100.3 1064.2,1098.8 1064.9,1098.6 1065.4,1099.6 1065.5,1098.6 1066.0,1100.7 1066.6,1099.5 1066.9,1099.4 1067.6,1099.7 1068.0,1100.0 1068.4,1100.6 1069.0,1102.1 1069.4,1101.7 1069.9,1102.4 1070.2,1101.8 1070.9,1103.0 1071.4,1103.0 1071.7,1102.8 1072.1,1103.9 1072.6,1104.1 1073.1,1104.0 1073.5,1104.6 1073.7,1103.3 1074.5,1104.7 1074.9,1105.9 1075.1,1104.2 1075.7,1105.4 1076.1,1104.5 1076.4,1105.1 1077.2,1105.5 1077.4,1104.9 1078.0,1104.8 1078.2,1105.0 1078.7,1105.5 1079.2,1105.7 1079.6,1105.8 1079.9,1105.5 1080.4,1105.7 1081.1,1105.7 1081.4,1105.8 1081.8,1106.4 1082.5,1106.1 1082.7,1106.6 1083.1,1106.6 1083.6,1106.9 1084.1,1107.2 1084.7,1106.7 1085.0,1106.7 1085.4,1107.0 1086.1,1106.6 1086.3,1106.4 1086.8,1106.9 1087.2,1106.4 1087.7,1107.8 1088.1,1108.2 1088.7,1107.5 1089.0,1107.5 1089.4,1108.3 1089.9,1107.3 1090.3,1108.2 1090.9,1107.7 1091.3,1108.1 1091.7,1109.3 1092.2,1109.2 1092.6,1107.4 1093.2,1107.1 1093.4,1108.5 1094.0,1106.9 1094.3,1107.3 1094.8,1106.8 1095.3,1107.1 1095.9,1106.9 1096.2,1105.9 1096.6,1106.1 1097.1,1106.4 1097.7,1106.7 1098.0,1106.6 1098.4,1105.7 1099.0,1107.7 1099.2,1106.1 1099.7,1105.7 1100.4,1104.6 1100.7,1104.6 1101.1,1106.6 1101.8,1106.1 1101.9,1105.4 1102.5,1105.9 1102.9,1105.2 1103.4,1104.7 1103.9,1104.5 1104.5,1105.3 1104.5,1103.8 1105.1,1104.5 1105.6,1105.2 1106.0,1103.3 1106.3,1105.1 1106.8,1104.5 1107.4,1104.1 1107.8,1105.4 1108.2,1103.7 1108.7,1104.1 1109.2,1104.1 1109.6,1103.5 1110.0,1104.1 1110.5,1103.1 1110.9,1103.6 1111.4,1103.4 1111.9,1103.4 1112.2,1104.1 1112.8,1104.4 1113.2,1103.8 1113.5,1104.1 1113.9,1103.5 1114.6,1103.5 1115.0,1104.1 1115.3,1103.9 1115.7,1103.3 1116.4,1102.2 1116.9,1104.0 1117.1,1103.4 1117.5,1102.1 1118.1,1103.3 1118.4,1103.0 1119.0,1101.8 1119.3,1102.6 1119.8,1102.2 1120.3,1101.9 1120.8,1101.7 1121.1,1101.4 1121.5,1102.3 1122.1,1102.5 1122.5,1101.5 1123.0,1101.3 1123.4,1102.1 1123.9,1102.2 1124.1,1103.2 1125.0,1102.9 1125.1,1103.3 1125.6,1101.2 1125.9,1102.2 1126.6,1103.5 1126.9,1103.1 1127.4,1103.3 1128.0,1101.7 1128.4,1102.4 1128.8,1102.6 1129.3,1103.6 1129.7,1102.9 1130.1,1102.0 1130.6,1101.6 1130.8,1102.0 1131.5,1101.1 1132.0,1100.0 1132.3,1098.5 1132.6,1099.4 1133.2,1098.2 1133.6,1097.1 1134.3,1098.1 1134.5,1098.8 1135.0,1098.3 1135.6,1097.3 1136.0,1098.3 1136.5,1098.2 1136.9,1097.4 1137.4,1097.1 1137.8,1097.1 1138.4,1096.5 1138.8,1097.0 1139.2,1095.8 1139.6,1095.9 1140.0,1095.7 1140.6,1095.8 1141.1,1095.1 1141.7,1094.8 1141.8,1095.7 1142.5,1094.7 1142.9,1095.0 1143.5,1094.3 1143.7,1096.9 1144.4,1095.4 1144.7,1096.2 1145.2,1096.9 1145.9,1097.2 1146.2,1096.0 1146.9,1096.0 1147.2,1097.6 1147.7,1097.9 1148.1,1097.3 1148.3,1098.0 1148.9,1097.7 1149.4,1096.7 1150.1,1096.4 1150.4,1095.3 1150.7,1095.9 1150.8,1097.0 1150.8,1098.6 1151.1,1098.9 1151.3,1100.8 1151.6,1101.8 1151.8,1104.1 1151.8,1104.6 1152.2,1103.0 1152.6,1102.3 1153.0,1100.5 1153.3,1099.6 1153.8,1099.5 1154.2,1097.1 1154.7,1096.5 1154.9,1097.2 1155.7,1097.0 1156.0,1096.7 1156.5,1098.2 1157.0,1099.3 1157.2,1099.6 1158.0,1101.4 1158.3,1102.6 1158.8,1104.1 1159.1,1102.0 1159.6,1101.7 1160.1,1100.2 1160.3,1099.0 1160.8,1099.6 1161.1,1097.1 1161.6,1096.1 1162.0,1096.7 1162.3,1095.8 1163.1,1095.5 1163.4,1096.3 1163.8,1095.1 1164.4,1094.4 1164.8,1094.2 1165.5,1095.0 1165.8,1094.7 1166.3,1094.5 1166.8,1096.0 1167.0,1096.9 1167.3,1096.4 1168.0,1097.1 1168.4,1096.4 1168.9,1097.1 1169.3,1097.1 1169.6,1095.6 1170.2,1095.1 1170.8,1096.9 1171.0,1096.1 1171.7,1095.7 1171.9,1094.9 1172.4,1094.4 1172.7,1094.8 1173.1,1096.1 1173.4,1093.9 1174.0,1094.1 1174.5,1093.6 1175.1,1094.2 1175.2,1093.8 1175.7,1095.2 1176.3,1094.2 1176.6,1093.6 1177.2,1095.4 1177.8,1095.2 1178.2,1094.4 1178.5,1097.0 1179.1,1097.3 1179.4,1096.5 1180.2,1098.3 1180.3,1098.2 1181.0,1098.2 1181.1,1096.9 1181.7,1098.2 1182.3,1099.1 1182.7,1099.1 1183.0,1098.4 1183.7,1098.6 1184.1,1098.4 1184.6,1097.4 1184.9,1098.5 1185.6,1097.5 1186.0,1097.2 1186.5,1098.9 1186.8,1098.2 1187.3,1096.8 1187.8,1098.3 1188.2,1099.1 1188.6,1099.3 1189.2,1099.6 1189.5,1100.6 1190.2,1101.5 1190.4,1100.9 1191.0,1101.9 1191.4,1101.7 1191.9,1102.0 1192.4,1101.8 1192.5,1102.1 1193.3,1102.5 1193.8,1102.8 1194.0,1102.7 1194.7,1103.4 1195.1,1102.7 1195.3,1103.5 1195.9,1104.0 1196.1,1103.8 1196.8,1104.8 1197.3,1104.5 1197.8,1103.7 1198.3,1103.8 1198.7,1105.4 1199.2,1104.0 1199.6,1105.2 1200.0,1104.2 1200.5,1104.8 1201.1,1103.4 1201.4,1103.7 1202.0,1104.8 1202.4,1103.5 1202.9,1104.4 1203.3,1102.3 1203.8,1103.0 1204.3,1102.9 1204.6,1102.8 1205.0,1102.8 1205.5,1103.3 1206.0,1102.5 1206.5,1102.7 1206.9,1103.7 1207.3,1103.0 1207.7,1102.9 1208.1,1103.3 1208.6,1102.8 1209.0,1104.7 1209.4,1104.4 1209.9,1103.7 1210.4,1103.2 1210.8,1104.6 1211.2,1104.1 1211.7,1103.3 1212.1,1104.4 1212.6,1103.6 1213.1,1103.8 1213.4,1105.3 1214.0,1104.5 1214.3,1103.5 1214.8,1103.9 1215.2,1104.0 1215.8,1102.9 1216.4,1104.2 1216.5,1104.1 1217.2,1104.1 1217.5,1104.2 1218.1,1104.9 1218.5,1104.5 1218.9,1104.3 1219.4,1104.6 1219.8,1104.3 1220.2,1103.9 1220.7,1104.3 1221.1,1105.1 1221.6,1104.2 1222.1,1102.4 1222.5,1103.6 1222.9,1103.7 1223.6,1103.5 1223.7,1102.1 1224.3,1103.2 1224.6,1102.1 1225.1,1101.8 1225.5,1102.4 1225.9,1103.2 1226.6,1102.4 1226.8,1103.0 1227.3,1102.4 1227.9,1102.1 1228.2,1101.5 1228.7,1101.7 1229.2,1102.7 1229.6,1101.4 1230.1,1102.0 1230.3,1101.3 1230.9,1101.8 1231.6,1102.0 1232.1,1102.8 1232.3,1101.3 1232.9,1100.3 1233.3,1102.9 1233.8,1102.4 1234.3,1102.1 1234.5,1101.8 1235.0,1100.9 1235.5,1102.9 1236.1,1101.5 1236.3,1103.1 1236.9,1102.3 1237.4,1101.3 1237.6,1102.4 1238.2,1102.7 1238.8,1101.9 1238.9,1101.7 1239.4,1103.3 1240.0,1102.1 1240.4,1103.2 1240.9,1102.8 1241.4,1104.0 1241.8,1102.7 1242.2,1103.4 1242.6,1103.5 1242.9,1104.0 1243.5,1101.7 1244.0,1103.0 1244.2,1103.4 1244.8,1104.0 1245.3,1103.5 1245.7,1103.9 1246.2,1103.5 1246.4,1102.9 1247.0,1104.2 1247.4,1103.8 1247.9,1103.6 1248.6,1104.7 1248.8,1102.8 1249.3,1104.5 1249.6,1104.1 1250.3,1104.9 1250.6,1103.9 1251.2,1104.5 1251.5,1105.2 1252.0,1104.6 1252.6,1104.7 1252.7,1104.0 1253.4,1103.2 1253.9,1103.9 1254.1,1105.6 1254.6,1103.5 1255.0,1103.8 1255.4,1103.7 1255.9,1103.8 1256.3,1104.2 1256.9,1103.1 1257.2,1104.7 1257.7,1102.5 1258.2,1103.8 1258.6,1103.1 1259.0,1102.9 1259.4,1102.7 1260.0,1102.5 1260.3,1103.4 1260.7,1103.0 1261.3,1103.1 1261.7,1103.2 1262.1,1102.2 1262.7,1102.9 1263.0,1103.0 1263.5,1104.0 1264.2,1103.6 1264.4,1104.9 1264.9,1104.2 1265.4,1104.8 1265.8,1105.1 1266.1,1104.4 1266.8,1103.4 1267.1,1104.6 1267.6,1104.2 1268.2,1105.2 1268.6,1104.9 1268.8,1104.8 1269.4,1104.6 1269.8,1105.6 1270.1,1104.3 1270.7,1105.6 1271.3,1105.9 1271.6,1104.5 1271.9,1105.2 1272.5,1106.4 1272.9,1106.2 1273.3,1104.1 1273.7,1106.0 1274.3,1105.2 1274.9,1105.3 1275.2,1104.8 1275.6,1105.3 1276.0,1104.3 1276.5,1105.8 1276.8,1106.4 1277.7,1106.3 1277.8,1105.1 1278.3,1105.4 1278.7,1106.1 1279.2,1104.3 1279.4,1105.1 1279.9,1105.6 1280.3,1103.4 1280.8,1105.5 1281.3,1105.2 1281.7,1104.0 1282.1,1105.5 1282.5,1105.2 1283.1,1105.5 1283.4,1104.6 1283.8,1105.1 1284.4,1104.2 1284.7,1105.0 1285.1,1105.3 1285.7,1104.5 1286.0,1103.7 1286.5,1103.9 1287.0,1103.4 1287.4,1104.1 1287.8,1104.0 1288.2,1104.7 1288.7,1103.1 1289.1,1103.8 1289.5,1102.3 1290.0,1103.8 1290.4,1104.1 1290.8,1104.7 1291.5,1103.2 1291.9,1104.1 1292.3,1103.6 1292.8,1103.9 1293.1,1103.7 1293.5,1104.3 1294.1,1102.6 1294.5,1102.4 1294.9,1104.6 1295.4,1104.5 1296.0,1103.7 1296.3,1103.6 1296.8,1102.9 1297.1,1102.6 1297.5,1101.8 1298.2,1103.7 1298.6,1102.9 1299.1,1103.2 1299.6,1101.8 1299.8,1102.5 1300.3,1102.7 1300.9,1102.1 1301.2,1103.3 1301.8,1101.7 1302.2,1101.8 1302.7,1102.1 1303.1,1102.6 1303.8,1102.0 1304.1,1102.6 1304.5,1101.9 1305.0,1101.9 1305.5,1100.7 1305.8,1102.6 1306.4,1101.4 1306.7,1101.5 1307.3,1101.4 1307.6,1101.6 1308.0,1101.4 1308.6,1102.0 1309.1,1100.2 1309.5,1101.2 1310.1,1101.6 1310.4,1102.3 1310.8,1100.0 1311.4,1100.1 1311.6,1100.5 1311.9,1101.4 1312.6,1100.7 1313.1,1100.8 1313.5,1100.3 1313.8,1099.9 1314.4,1100.4 1314.9,1100.6 1315.3,1098.6 1315.7,1099.6 1316.3,1101.0 1316.7,1099.0 1317.0,1099.9 1317.8,1099.3 1318.1,1098.6 1318.6,1097.0 1319.2,1098.0 1319.5,1097.9 1319.8,1097.4 1320.3,1098.4 1320.8,1098.0 1321.6,1098.1 1321.7,1097.5 1322.3,1097.5 1322.7,1097.9 1323.1,1097.4 1323.6,1099.4 1324.1,1098.3 1324.4,1099.5 1325.1,1098.4 1325.4,1098.2 1325.7,1098.2 1326.2,1097.7 1326.6,1097.6 1327.4,1097.1 1327.6,1095.9 1328.1,1095.3 1328.2,1096.9 1328.9,1095.9 1329.2,1094.5 1329.8,1093.2 1330.2,1095.3 1330.6,1094.4 1331.3,1095.4 1331.4,1094.9 1331.9,1094.6 1332.4,1094.5 1332.9,1094.3 1333.4,1095.0 1333.8,1094.4 1334.2,1094.6 1334.7,1094.7 1335.2,1094.7 1335.6,1094.4 1336.1,1093.0 1336.3,1092.8 1337.1,1092.8 1337.5,1093.7 1338.0,1094.6 1338.2,1092.9 1338.8,1093.7 1339.3,1092.4 1339.8,1093.7 1340.4,1092.7 1340.8,1091.5 1341.0,1092.3 1341.7,1091.1 1342.1,1092.3 1342.7,1092.4 1343.2,1092.6 1343.5,1092.1 1344.0,1091.8 1344.5,1093.0 1345.1,1093.0 1345.4,1093.8 1345.8,1092.5 1346.5,1095.4 1346.9,1094.7 1347.2,1093.9 1347.7,1095.7 1348.1,1095.2 1348.7,1095.9 1349.2,1096.6 1349.6,1095.4 1350.4,1095.6 1350.5,1093.3 1350.8,1093.4 1351.4,1093.6 1352.1,1092.4 1352.5,1092.1 1352.9,1091.6 1353.3,1091.2 1353.8,1090.9 1354.1,1091.3 1354.6,1091.3 1355.2,1091.0 1355.6,1091.5 1355.8,1092.3 1356.4,1092.1 1357.0,1091.1 1357.5,1090.9 1358.0,1091.8 1358.5,1091.0 1358.9,1091.7 1359.6,1090.7 1359.7,1089.9 1360.1,1090.7 1360.8,1089.7 1361.2,1090.9 1361.7,1091.2 1362.2,1090.7 1362.6,1090.1 1363.3,1091.4 1363.6,1089.7 1363.9,1090.1 1364.6,1089.3 1364.9,1089.9 1365.5,1090.1 1365.7,1088.9 1366.4,1089.8 1366.8,1087.9 1367.3,1088.9 1367.6,1088.7 1368.1,1089.1 1368.7,1089.5 1369.2,1090.1 1369.5,1089.9 1370.0,1090.9 1370.4,1089.2 1370.9,1089.3 1371.5,1089.7 1371.7,1090.1 1372.2,1089.6 1372.8,1090.5 1373.1,1090.1 1373.5,1090.2 1373.9,1088.6 1374.5,1089.1 1375.2,1089.2 1375.3,1089.0 1375.8,1088.8 1376.4,1087.2 1376.9,1089.3 1377.3,1087.3 1377.8,1088.9 1378.3,1087.5 1378.7,1088.4 1378.8,1089.2 1379.5,1088.7 1379.9,1090.4 1380.3,1089.1 1380.8,1089.7 1381.1,1089.4 1381.6,1091.4 1382.0,1089.8 1382.5,1090.5 1383.0,1091.8 1383.5,1090.2 1383.9,1091.2 1384.3,1090.4 1384.8,1091.2 1385.2,1092.1 1385.7,1090.9 1386.1,1092.4 1386.5,1092.2 1387.0,1091.3 1387.5,1090.8 1387.9,1091.3 1388.3,1090.9 1388.7,1091.1 1389.2,1091.5 1389.5,1089.0 1390.0,1091.4 1390.7,1091.7 1390.9,1090.5 1391.2,1091.6 1391.7,1090.1 1392.2,1090.2 1392.6,1090.4 1393.0,1088.6 1393.6,1090.9 1393.9,1089.7 1394.3,1091.3 1394.9,1090.1 1395.3,1090.5 1395.7,1090.6 1396.4,1089.9 1396.6,1091.7 1396.9,1090.9 1397.4,1090.3 1397.9,1091.9 1398.5,1091.9 1398.7,1091.8 1398.9,1089.9 1399.7,1091.3 1400.3,1092.5 1400.3,1091.3 1401.1,1092.2 1401.3,1091.8 1402.0,1092.6 1402.2,1090.3 1402.6,1092.7 1403.2,1091.7 1403.4,1091.1 1403.8,1092.2 1404.6,1091.0 1404.7,1089.9 1405.3,1092.2 1405.7,1091.2 1406.2,1089.8 1406.6,1089.7 1407.2,1090.4 1407.6,1089.1 1408.0,1088.2 1408.6,1089.4 1408.9,1088.9 1409.6,1087.4 1409.9,1088.8 1410.4,1087.7 1411.1,1088.6 1411.2,1089.0 1411.7,1086.3 1412.1,1086.2 1412.4,1087.5 1413.0,1086.7 1413.4,1086.6 1413.9,1085.4 1414.3,1087.6 1414.6,1084.5 1415.3,1087.5 1415.8,1087.0 1416.2,1086.0 1416.8,1086.1 1417.0,1086.6 1417.5,1087.3 1418.0,1087.4 1418.5,1086.6 1418.5,1087.0 1418.6,1089.0 1418.7,1090.5 1418.5,1092.8 1418.8,1092.7 1418.8,1093.0 1418.9,1094.8 1418.8,1096.0 1418.8,1095.9 1419.1,1098.4 1419.0,1099.7 1419.1,1099.7 1419.3,1102.2 1419.1,1102.9 1419.4,1100.6 1420.0,1101.7 1420.3,1102.1 1420.9,1101.5 1421.5,1102.2 1421.7,1102.1 1422.4,1101.6 1422.8,1101.8 1423.2,1101.7 1423.6,1100.0 1424.0,1099.2 1424.6,1100.5 1425.0,1100.2 1425.8,1098.7 1425.9,1100.1 1426.5,1099.4 1427.0,1099.2 1427.3,1099.0 1427.8,1098.2 1428.1,1099.2 1428.7,1098.5 1429.0,1097.8 1429.8,1098.2 1430.1,1097.1 1430.6,1096.6 1431.0,1096.5 1431.4,1096.8 1431.8,1096.3 1432.5,1096.1 1432.7,1096.1 1433.2,1096.5 1433.7,1095.9 1434.3,1096.0 1434.6,1095.5 1435.0,1096.0 1435.4,1096.4 1435.8,1095.9 1436.3,1095.3 1436.7,1096.3 1437.4,1097.2 1437.6,1096.1 1438.2,1095.2 1438.8,1096.5 1438.9,1095.9 1439.5,1095.9 1440.1,1096.5 1440.4,1096.5 1440.8,1097.0 1441.4,1098.0 1441.8,1098.2 1442.3,1097.8 1442.8,1098.1 1443.2,1099.7 1443.6,1099.2 1444.2,1099.4 1444.6,1100.1 1445.1,1098.5 1445.4,1099.9 1446.0,1098.7 1446.4,1098.2 1446.9,1097.7 1447.3,1099.8 1447.8,1099.6 1448.0,1100.1 1448.8,1098.4 1449.1,1098.9 1449.5,1099.8 1450.0,1098.8 1450.4,1097.2 1450.8,1098.0 1451.4,1098.7 1452.0,1097.3 1452.2,1095.5 1452.9,1096.7 1453.2,1096.2 1453.7,1094.8 1454.1,1095.6 1454.6,1094.7 1454.7,1093.2 1455.0,1092.9 1455.6,1092.6 1456.1,1093.8 1456.5,1092.2 1456.8,1093.6 1457.2,1095.1 1457.7,1093.2 1458.2,1093.4 1458.7,1093.8 1459.0,1093.2 1459.4,1094.3 1459.9,1093.6 1460.2,1092.5 1460.7,1094.3 1461.2,1093.6 1461.6,1093.7 1462.3,1091.7 1462.7,1093.7 1462.9,1092.1 1463.5,1091.7 1463.7,1092.4 1464.3,1091.8 1464.8,1091.0 1465.3,1092.0 1465.9,1089.1 1466.3,1090.2 1466.7,1090.9 1467.0,1089.9 1467.5,1089.7 1468.0,1090.4 1468.3,1089.5 1469.0,1089.8 1469.1,1088.4 1469.7,1088.4 1470.2,1088.6 1470.6,1088.8 1471.1,1089.5 1471.6,1089.1 1471.8,1088.4 1472.3,1087.9 1472.8,1088.4 1473.3,1087.9 1473.7,1087.3 1474.2,1086.9 1474.6,1089.3 1474.9,1086.5 1475.5,1088.0 1475.9,1086.3 1476.5,1087.4 1476.9,1085.5 1477.2,1087.3 1478.0,1086.1 1478.2,1086.1 1478.7,1086.4 1479.1,1085.0 1479.7,1085.7 1480.1,1085.5 1480.4,1086.1 1480.8,1085.7 1481.3,1087.2 1481.9,1088.1 1482.4,1086.6 1482.7,1087.8 1483.0,1089.4 1483.5,1091.0 1484.1,1089.1 1484.6,1089.4 1484.9,1089.7 1485.2,1089.6 1486.0,1089.2 1486.5,1087.3 1486.8,1088.5 1487.2,1087.5 1487.5,1089.0 1488.0,1087.1 1488.8,1087.2 1489.1,1087.3 1489.6,1086.2 1489.9,1086.6 1490.2,1087.6 1490.7,1087.4 1491.4,1086.2 1491.5,1086.7 1492.3,1085.9 1492.4,1085.5 1493.2,1087.8 1493.3,1087.2 1493.8,1087.2 1494.3,1087.5 1494.6,1088.4 1495.3,1088.2 1495.7,1087.9 1496.2,1088.0 1496.6,1087.3 1497.0,1086.8 1497.4,1087.3 1498.1,1086.8 1498.4,1087.2 1498.8,1087.0 1499.0,1087.0 1499.9,1087.3 1500.0,1087.5 1500.7,1085.7 1501.1,1086.8 1501.3,1087.9 1502.0,1086.9 1502.2,1086.1 1502.7,1086.9 1503.1,1086.8 1503.6,1086.8 1503.9,1086.5 1504.5,1086.6 1504.8,1086.2 1505.4,1087.2 1505.8,1086.1 1506.3,1086.5 1506.3,1086.4 1507.1,1085.8 1507.7,1086.9 1508.0,1086.5 1508.3,1085.6 1508.8,1086.3 1509.2,1086.9 1509.5,1086.9 1510.4,1085.7 1510.6,1086.2 1511.1,1085.5 1511.4,1086.8 1512.1,1087.7 1512.5,1087.3 1512.8,1087.0 1513.1,1089.0 1513.7,1088.8 1514.1,1088.5 1514.8,1088.3 1514.9,1087.4 1515.4,1087.1 1515.8,1088.0 1516.4,1086.1 1516.6,1087.0 1517.0,1086.7 1517.5,1087.0 1518.2,1084.2 1518.6,1085.0 1519.0,1085.4 1519.5,1084.1 1519.9,1083.8 1520.3,1083.6 1520.6,1083.2 1521.2,1084.3 1521.5,1083.3 1521.8,1082.7 1522.8,1083.3 1523.0,1082.8 1523.3,1082.5 1523.9,1081.5 1524.3,1082.3 1524.5,1082.4 1525.2,1082.2 1525.7,1082.2 1525.8,1082.6 1526.3,1081.8 1526.9,1081.5 1527.4,1080.9 1527.8,1082.3 1528.2,1081.0 1528.8,1079.8 1528.9,1080.2 1529.6,1081.9 1529.9,1080.0 1530.2,1079.5 1531.1,1080.8 1531.1,1077.6 1531.8,1079.9 1532.1,1079.3 1532.6,1079.9 1532.8,1081.1 1533.4,1080.2 1533.8,1079.2 1534.2,1078.2 1534.7,1078.0 1535.2,1079.0 1535.3,1078.3 1535.9,1080.6 1536.8,1078.5 1537.0,1078.6 1537.5,1078.1 1537.8,1078.5 1538.3,1077.5 1538.7,1076.9 1539.4,1079.4 1539.7,1077.9 1540.1,1079.0 1540.6,1077.7 1541.3,1079.3 1541.7,1079.2 1542.0,1078.0 1542.4,1078.9 1542.9,1079.3 1543.6,1081.0 1543.8,1079.5 1544.4,1082.4 1544.7,1079.4 1545.1,1080.8 1545.8,1080.0 1545.9,1080.6 1546.5,1081.4 1547.0,1081.3 1547.6,1081.5 1547.8,1081.5 1548.4,1080.5 1548.6,1083.1 1549.2,1082.3 1549.7,1084.7 1550.2,1084.4 1550.6,1083.8 1551.0,1085.1 1551.4,1083.1 1552.2,1082.4 1552.5,1083.3 1552.8,1082.4 1553.3,1081.9 1553.9,1082.3 1554.3,1080.8 1554.8,1082.1 1555.3,1082.5 1555.7,1080.9 1556.1,1081.4 1556.5,1080.6 1556.8,1081.4 1557.3,1080.7 1557.8,1081.5 1558.2,1080.1 1558.6,1081.3 1559.0,1078.6 1559.6,1080.8 1560.2,1079.9 1560.6,1079.8 1561.1,1080.7 1561.5,1078.2 1561.8,1079.2 1562.2,1079.8 1562.6,1080.5 1563.1,1081.0 1563.4,1079.5 1564.0,1078.9 1564.5,1077.3 1564.7,1078.4 1565.5,1078.6 1565.7,1076.7 1566.2,1080.2 1566.7,1080.0 1566.9,1076.8 1567.4,1076.7 1567.8,1078.6 1568.4,1077.9 1568.8,1076.9 1569.4,1076.0 1569.8,1076.1 1570.1,1077.2 1570.7,1075.6 1571.1,1076.3 1571.8,1075.9 1572.0,1076.0 1572.5,1075.2 1573.0,1076.5 1573.4,1074.5 1573.8,1075.1 1574.4,1072.8 1575.0,1072.5 1575.4,1073.0 1575.7,1073.2 1576.2,1070.7 1576.7,1069.4 1577.0,1069.9 1577.5,1071.7 1578.1,1069.9 1578.3,1069.2 1579.1,1068.5 1579.7,1069.2 1579.7,1069.6 1580.0,1067.7 1580.9,1068.4 1581.1,1069.5 1581.7,1069.1 1582.2,1069.1 1582.6,1069.6 1583.0,1068.1 1583.4,1068.1 1583.8,1067.8 1584.5,1066.3 1584.7,1067.7 1585.2,1069.0 1585.4,1065.9 1585.9,1066.3 1586.4,1065.7 1586.9,1066.2 1587.4,1066.4 1588.1,1066.3 1588.3,1066.6 1588.9,1066.3 1589.2,1064.2 1590.0,1067.0 1590.2,1065.4 1590.7,1064.7 1591.3,1063.9 1591.6,1066.1 1592.1,1065.2 1592.5,1064.3 1593.0,1063.7 1593.4,1064.6 1593.8,1064.6 1594.5,1063.9 1594.8,1064.7 1595.2,1064.7 1595.6,1064.0 1596.0,1064.4 1596.6,1065.3 1596.9,1063.7 1597.6,1065.3 1597.7,1063.4 1598.4,1064.6 1598.7,1063.6 1599.1,1062.2 1599.7,1062.8 1600.1,1063.3 1600.5,1063.3 1600.8,1065.2 1601.4,1063.5 1601.7,1065.1 1602.5,1063.5 1602.6,1063.4 1603.0,1063.0 1603.6,1063.7 1603.9,1065.1 1604.4,1063.3 1604.7,1064.1 1605.2,1063.5 1605.9,1064.1 1606.5,1063.0 1607.0,1063.0 1607.2,1064.4 1607.5,1063.7 1608.0,1063.6 1608.6,1063.1 1609.0,1062.7 1609.4,1063.8 1609.8,1064.0 1610.6,1063.8 1610.7,1063.2 1611.2,1062.7 1611.6,1062.7 1612.1,1063.0 1612.7,1065.0 1613.0,1063.5 1613.7,1064.5 1614.1,1062.8 1614.4,1062.2 1614.9,1063.0 1615.4,1063.8 1615.7,1064.7 1616.0,1062.9 1616.8,1063.1 1617.0,1061.9 1617.3,1060.3 1617.7,1063.1 1618.2,1060.7 1618.7,1061.9 1619.1,1061.5 1619.7,1061.7 1620.0,1061.7 1620.5,1060.6 1621.0,1060.1 1621.1,1061.0 1621.9,1058.4 1622.5,1058.8 1622.9,1055.3 1623.5,1054.7 1623.9,1054.8 1624.2,1053.7 1624.7,1053.6 1625.5,1052.4 1625.5,1054.1 1625.9,1051.6 1626.6,1051.0 1626.9,1052.2 1627.8,1050.0 1627.9,1049.1 1628.5,1048.6 1628.6,1048.5 1629.3,1047.7 1629.7,1046.6 1630.1,1047.6 1630.8,1047.6 1630.9,1048.1 1631.4,1046.4 1632.0,1044.1 1632.3,1043.0 1632.8,1044.8 1633.0,1042.7 1633.7,1042.0 1634.3,1041.7 1634.5,1037.9 1635.2,1038.4 1635.2,1038.4 1635.7,1036.0 1635.9,1035.0 1635.8,1031.2 1636.0,1032.9 1636.0,1032.1 1636.3,1030.3 1636.7,1028.4 1637.1,1029.9 1637.8,1028.1 1638.3,1026.5 1638.7,1025.6 1639.4,1025.6 1639.7,1024.1 1640.3,1023.2 1640.8,1025.1 1641.0,1023.3 1641.3,1023.4 1642.3,1027.6 1641.9,1027.5 1642.5,1026.5 1643.0,1028.9 1643.3,1030.3 1643.8,1029.5 1644.3,1029.4 1644.4,1024.8 1644.7,1026.7 1645.2,1024.0 1645.6,1023.3 1646.3,1024.1 1646.5,1022.6 1646.9,1022.1 1647.3,1018.7 1647.8,1021.8 1648.2,1020.3 1648.6,1019.9 1649.6,1018.0 1649.9,1018.3 1650.3,1016.9 1650.7,1017.9 1651.3,1016.9 1651.9,1018.1 1652.3,1019.9 1652.7,1018.8 1653.1,1017.7 1653.8,1016.8 1653.9,1021.8 1654.5,1019.5 1655.0,1020.4 1655.3,1020.5 1655.9,1020.6 1656.3,1021.3 1656.7,1023.8 1657.3,1021.9 1657.9,1023.1 1658.0,1022.9 1658.6,1024.8 1659.3,1024.0 1659.6,1024.5 1660.1,1027.5 1660.1,1028.4 1660.4,1029.6 1661.0,1028.0 1661.1,1028.2 1662.0,1032.3 1661.9,1032.5 1662.3,1034.4 1662.5,1035.6 1662.7,1036.7 1663.4,1037.6 1663.7,1038.4 1664.2,1038.8 1664.3,1040.8 1664.7,1038.7 1665.2,1037.8 1665.6,1038.0 1666.1,1038.6 1666.2,1036.6 1666.9,1034.3 1667.1,1034.6 1667.8,1034.9 1667.8,1032.2 1668.4,1032.3 1668.4,1030.4 1668.8,1029.5 1668.9,1029.1 1669.4,1026.6 1669.8,1026.5 1669.9,1026.2 1670.2,1022.9 1670.5,1022.0 1670.9,1023.8 1671.1,1022.0 1671.3,1019.8 1671.8,1019.1 1672.0,1021.1 1672.7,1019.6 1673.2,1019.9 1673.8,1019.5 1674.1,1019.0 1674.5,1021.0 1675.1,1019.3 1675.5,1018.4 1675.9,1018.1 1676.3,1017.9 1677.0,1019.6 1677.3,1020.9 1677.9,1023.3 1678.3,1023.3 1678.2,1021.6 1678.9,1020.8 1679.1,1020.0 1679.6,1018.4 1679.7,1016.6 1679.9,1015.8 1680.2,1015.2 1680.6,1014.0 1681.1,1014.8 1681.2,1014.2 1681.9,1014.3 1682.4,1014.0 1682.9,1012.8 1683.4,1013.0 1683.7,1014.0 1684.2,1016.3 1684.7,1017.8 1685.2,1017.5 1685.8,1016.4 1686.3,1017.9 1686.6,1017.1 1687.0,1018.7 1687.4,1018.3 1688.0,1017.9 1688.4,1019.6 1688.7,1018.6 1689.1,1019.2 1689.6,1018.8 1690.1,1017.7 1690.9,1018.1 1691.1,1018.2 1691.6,1014.4 1691.8,1014.9 1692.5,1016.5 1692.8,1014.2 1693.4,1015.1 1693.6,1017.5 1694.0,1015.9 1695.0,1014.8 1695.2,1013.2 1695.9,1014.6 1696.5,1014.9 1696.7,1016.9 1697.0,1015.0 1697.5,1015.0 1698.0,1014.6 1698.5,1014.5 1699.2,1014.6 1699.4,1016.7 1700.0,1015.4 1700.3,1015.8 1700.9,1013.8 1701.2,1015.5 1701.7,1012.8 1702.4,1015.4 1702.7,1016.3 1703.2,1016.9 1703.5,1018.9 1704.0,1020.0 1704.4,1018.6 1705.0,1022.2 1705.6,1021.0 1705.5,1020.2 1706.2,1022.7 1706.8,1022.3 1706.9,1022.3 1707.5,1024.2 1707.9,1023.6 1708.7,1023.0 1708.8,1022.7 1709.4,1024.0 1709.9,1023.1 1710.3,1022.8 1710.8,1023.7 1711.3,1024.3 1711.4,1026.9 1712.0,1024.5 1712.4,1025.4 1713.0,1024.5 1713.2,1026.2 1713.8,1025.8 1714.3,1026.5 1714.8,1026.7 1714.9,1022.9 1715.7,1024.1 1715.8,1026.0 1716.4,1024.7 1716.9,1026.9 1717.5,1028.3 1717.8,1026.8 1718.5,1028.3 1719.0,1025.4 1719.1,1027.6 1719.7,1028.8 1720.3,1030.1 1720.1,1028.9 1720.9,1029.9 1721.5,1029.2 1722.1,1032.3 1722.5,1031.4 1723.0,1031.5 1723.3,1031.1 1723.7,1029.4 1724.4,1029.7 1724.5,1026.7 1725.1,1027.8 1725.6,1029.2 1726.0,1027.4 1726.5,1027.9 1726.9,1027.1 1727.1,1026.7 1727.9,1024.7 1728.2,1025.9 1728.6,1027.1 1729.0,1024.0 1729.4,1025.7 1729.9,1025.2 1730.7,1024.9 1730.5,1023.7 1731.2,1024.5 1731.8,1023.3 1732.0,1024.2 1732.6,1022.2 1733.3,1024.5 1733.6,1023.3 1734.1,1024.1 1734.5,1027.8 1735.0,1025.1 1735.2,1024.0 1736.0,1025.9 1736.2,1024.8 1736.6,1025.3 1737.4,1027.1 1737.6,1025.6 1738.1,1024.9 1738.4,1025.0 1739.0,1024.6 1739.2,1024.3 1739.9,1024.5 1740.2,1024.1 1740.5,1026.1 1741.3,1024.6 1741.7,1024.2 1742.2,1026.8 1742.8,1023.1 1742.8,1022.3 1743.5,1023.3 1743.5,1021.5 1744.1,1021.2 1744.4,1021.9 1744.8,1021.3 1745.2,1021.6 1745.8,1022.5 1746.2,1023.3 1746.5,1022.7 1747.0,1022.7 1747.4,1023.6 1748.1,1024.8 1748.6,1024.7 1748.9,1028.1 1749.3,1027.9 1749.8,1026.3 1750.3,1026.5 1750.5,1023.1 1751.0,1025.0 1751.5,1024.1 1751.8,1022.0 1752.4,1020.7 1752.8,1020.4 1753.1,1021.7 1753.8,1019.6 1754.3,1022.2 1754.5,1022.4 1755.0,1021.0 1755.7,1020.1 1756.1,1021.1 1756.7,1022.8 1757.2,1021.4 1757.5,1022.7 1758.2,1023.1 1758.6,1021.7 1758.6,1019.6 1759.1,1020.5 1759.8,1019.2 1760.4,1020.4 1760.9,1022.5 1761.3,1020.0 1761.4,1022.0 1761.9,1022.5 1762.2,1022.7 1763.0,1021.7 1763.3,1022.7 1763.6,1022.4 1764.0,1021.6 1764.6,1021.8 1765.0,1021.9 1765.9,1023.5 1766.0,1024.3 1766.4,1020.6 1766.8,1021.5 1767.5,1022.1 1767.9,1020.4 1768.1,1018.2 1768.6,1018.5 1769.2,1020.4 1769.8,1016.4 1770.1,1015.3 1770.3,1014.5 1770.9,1014.0 1771.1,1011.9 1771.6,1011.5 1771.9,1010.0 1772.4,1007.1 1772.6,1007.0 1773.3,1007.2 1773.3,1006.3 1774.0,1010.4 1774.7,1006.7 1774.8,1009.5 1775.0,1007.8 1775.9,1006.6 1776.4,1006.1 1776.8,1007.5 1777.3,1008.1 1777.6,1008.2 1778.0,1009.4 1778.7,1003.7 1779.1,1007.2 1779.5,1006.9 1779.9,1005.5 1780.1,1005.2 1780.8,1005.2 1781.3,1003.4 1782.0,1003.0 1782.3,1004.0 1782.7,1003.7 1783.0,1001.1 1783.3,1001.0 1783.6,1000.4 1784.3,999.4 1784.6,998.4 1784.7,997.4 1784.8,996.4 1785.0,993.5 1785.4,993.6 1785.7,993.1 1786.3,992.6 1786.5,992.5 1787.5,993.1 1787.6,995.9 1787.7,993.2 1788.1,994.4 1788.9,994.7 1789.4,995.2 1789.7,994.2 1790.2,991.9 1790.8,991.6 1791.2,990.1 1792.0,990.4 1792.1,990.3 1792.5,992.7 1792.9,992.2 1793.6,991.2 1793.7,989.4 1794.1,987.4 1794.1,989.9 1794.7,987.6 1794.5,986.1 1794.7,984.3 1795.0,985.6 1795.6,982.0 1795.8,982.8 1796.9,981.9 1797.1,978.4 1797.4,979.1 1798.1,979.3 1798.1,978.0 1798.8,978.2 1799.3,979.7 1799.7,979.5 1800.2,981.4 1800.6,980.8 1801.0,978.5 1801.5,980.9 1802.1,986.0 1802.5,984.5 1802.9,986.6 1803.1,986.2 1804.1,986.2 1804.2,985.3 1804.4,984.2 1804.9,984.2 1805.1,982.8 1806.3,983.0 1806.4,981.9 1807.0,978.9 1807.6,979.1 1808.0,978.8 1808.1,976.5 1808.6,977.6 1808.9,976.7 1809.3,975.7 1809.9,972.6 1810.6,971.5 1810.6,973.7 1811.2,974.8 1811.7,974.9 1812.2,977.3 1812.3,979.5 1812.7,979.0 1812.7,982.2 1812.9,982.7 1812.9,984.6 1813.4,984.8 1813.5,984.8 1814.0,981.6 1814.2,980.7 1813.9,980.6 1814.6,979.8 1814.3,979.7 1814.5,975.7 1815.1,976.8 1815.2,973.7 1815.4,974.1 1815.7,972.6 1815.7,970.3 1815.9,965.7 1816.3,968.6 1816.2,966.3 1816.4,966.6 1816.7,965.9 1816.8,961.9 1816.9,962.9 1816.9,960.8 1817.2,958.9 1817.2,959.6 1817.4,957.5 1817.1,959.9 1817.8,955.1 1818.0,954.5 1817.9,953.4 1818.0,951.2 1818.0,950.5 1818.5,950.6 1819.1,948.2 1819.6,948.5 1819.7,946.9 1820.3,950.0 1820.5,948.7 1820.7,949.1 1821.5,948.2 1821.7,947.4 1822.4,946.2 1823.1,948.6 1823.7,947.0 1823.8,947.0 1824.4,945.1 1824.9,946.4 1825.3,943.5 1825.5,939.2 1826.2,941.2 1826.2,939.7 1826.2,938.9 1826.7,935.2 1826.7,936.2 1826.4,932.7 1826.7,930.9 1826.6,934.6 1826.9,929.2 1826.8,930.0 1827.5,931.5 1827.6,930.3 1827.7,931.1 1828.5,930.9 1829.3,931.2 1829.1,932.3 1830.1,933.5 1830.5,933.4 1831.0,932.0 1830.7,931.1 1831.0,929.4 1831.6,930.0 1831.8,927.3 1831.7,925.8 1832.1,925.3 1832.8,922.9 1832.5,919.8 1833.0,919.2 1833.1,921.6 1833.3,917.8 1833.3,920.0 1833.7,920.0 1834.4,916.0 1834.1,914.2 1834.5,914.7 1835.1,916.0 1835.4,915.6 1836.1,916.1 1836.5,918.2 1837.3,919.7 1837.3,919.1 1838.3,920.0 1838.3,919.5 1838.6,917.6 1838.3,917.7 1838.2,916.5 1838.8,916.5 1839.1,912.1 1838.9,910.5 1838.6,912.9 1838.6,911.4 1839.4,909.0 1839.1,909.1 1839.6,910.2 1839.6,903.5 1838.8,901.9 1839.5,900.8 1839.8,901.5 1839.9,900.6 1840.0,900.6 1839.8,896.2 1840.0,895.9 1840.0,898.1 1840.1,895.8 1840.6,890.7 1840.4,892.1 1840.6,891.3 1840.9,891.5 1840.8,891.1 1840.7,885.2 1841.1,884.6 1841.2,887.3 1841.2,885.2 1841.3,882.8 1841.1,881.7 1841.4,879.6 1842.3,879.4 1842.5,882.6 1842.7,880.8 1843.3,880.9 1844.0,885.6 1844.4,884.8 1844.6,885.9 1844.4,887.6 1844.6,890.1 1844.3,887.6 1844.8,891.1 1845.5,893.5 1845.1,892.6 1844.7,893.5 1844.6,894.9 1845.0,895.6 1844.8,898.0 1845.4,898.8 1845.4,899.2 1844.9,901.4 1845.9,905.8 1845.5,906.6 1845.4,907.1 1845.5,904.9 1845.9,905.0 1845.6,909.0 1845.9,911.8 1846.1,912.3 1846.2,912.6 1846.5,914.7 1846.9,916.9 1846.7,917.0 1847.6,913.2 1847.5,917.0 1847.7,919.5 1848.2,918.2 1847.9,917.4 1848.2,914.3 1848.0,913.2 1848.9,910.0 1849.0,912.7 1849.1,910.8 1849.3,908.0 1849.6,909.4 1850.1,906.1 1849.8,906.8 1850.3,900.8 1850.0,903.1 1850.5,902.1 1850.9,901.1 1850.9,900.6 1851.4,901.5 1851.8,901.1 1851.9,898.7 1852.0,896.8 1853.0,896.4 1853.1,894.6 1853.4,893.6 1853.0,893.4 1853.1,891.9 1853.0,891.9 1853.2,892.0 1852.9,890.8 1853.2,887.1 1853.5,883.6 1853.9,886.7 1853.6,882.8 1853.7,881.8 1854.2,882.9 1853.7,879.2 1854.0,880.0 1854.0,879.7 1853.9,874.7 1854.0,876.7 1853.7,872.5 1854.0,872.5 1854.2,871.8 1854.0,870.5 1853.8,868.4 1854.0,868.7 1854.0,865.4 1854.1,863.8 1855.3,863.0 1854.3,865.3 1854.7,860.2 1854.3,859.3 1855.0,859.0 1854.4,858.6 1854.3,855.2 1855.0,854.7 1854.9,855.8 1854.7,853.8 1854.7,852.5 1854.7,853.4 1854.6,852.5 1855.0,851.3 1855.0,846.2 1854.8,845.7 1855.3,842.6 1854.7,841.1 1855.1,841.9 1855.2,842.9 1856.0,843.5 1856.7,839.5 1856.7,839.4 1857.2,841.1 1858.1,841.2 1858.2,839.8 1858.3,839.7 1858.2,835.7 1859.2,834.1 1858.7,833.3 1859.3,835.0 1859.4,827.6 1859.3,828.5 1859.0,831.2 1860.0,829.2 1859.7,828.0 1860.2,826.6 1860.3,825.2 1860.4,824.1 1861.2,829.0 1860.9,829.8 1861.1,830.8 1860.7,834.5 1861.4,833.5 1861.4,836.1 1861.2,832.4 1861.7,834.9 1862.5,836.2 1862.4,836.8 1861.6,838.5 1862.2,839.0 1862.4,841.9 1862.5,841.4 1862.8,841.5 1863.4,838.1 1863.6,835.6 1864.0,836.1 1864.5,838.2 1864.5,833.5 1864.5,837.6 1864.8,835.8 1864.6,838.1 1864.7,839.8 1865.0,838.5 1864.9,840.2 1865.3,844.0 1865.4,844.5 1865.5,842.0 1865.5,845.4 1865.7,848.2 1865.5,849.2 1865.8,848.9 1866.2,849.3 1866.2,852.0 1866.6,851.4 1866.4,856.6 1866.4,855.1 1866.6,856.6 1866.7,858.4 1867.0,856.4 1867.9,857.9 1868.3,857.8 1869.3,858.5 1869.4,863.7 1869.9,863.1 1870.4,863.9 1870.8,862.9 1871.3,864.4 1871.2,862.9 1871.2,867.0 1871.5,868.4 1871.2,865.1 1871.8,872.9 1871.1,873.6 1871.7,875.4 1871.9,878.0 1871.8,875.5 1872.4,877.7 1872.6,877.4 1872.9,876.7 1873.3,880.6 1873.6,882.7 1873.8,883.2 1874.3,881.6 1874.9,881.7 1875.0,885.9 1875.4,883.8 1875.4,884.3 1875.2,882.3 1875.6,879.7 1876.1,879.0 1876.0,877.5 1876.0,875.9 1876.3,874.9 1876.9,877.0 1877.0,872.8 1877.3,871.8 1877.1,869.6 1877.2,870.1 1877.9,872.8 1877.7,868.3 1878.1,867.1 1878.1,871.2 1878.7,869.8 1879.1,873.8 1879.3,874.9 1879.6,871.5 1880.1,873.7 1879.9,877.9 1880.3,875.0 1880.4,876.0 1881.1,878.2 1881.0,879.0 1881.3,881.7 1881.7,879.1 1881.9,881.1 1882.7,882.8 1883.2,880.7 1883.5,886.1 1884.2,877.8 1884.3,883.5 1884.7,880.5 1885.5,882.8 1886.3,882.2 1886.7,883.2 1886.6,880.2 1887.0,877.9 1887.6,877.1 1888.8,879.9 1888.6,877.6 1888.6,879.9 1889.3,880.3 1889.0,883.9 1889.8,882.3 1890.4,882.7 1890.6,885.2 1890.3,884.5 1891.3,888.5 1891.4,889.6 1891.7,890.1 1892.1,891.3 1892.2,893.9 1892.6,895.0 1893.0,891.8 1893.1,896.6 1893.5,897.9 1893.6,899.5 1893.7,896.0 1893.8,900.6 1893.7,899.9 1894.1,900.6 1894.5,896.3 1894.3,895.2 1894.2,889.1 1893.9,895.6 1894.3,891.8 1894.8,888.9 1894.9,891.0 1894.5,890.3 1894.8,886.7 1894.6,886.4 1895.0,886.0 1895.1,883.3 1894.7,886.3 1895.5,879.0 1895.4,878.9 1895.7,881.3 1895.4,878.9 1895.2,874.9 1895.1,876.1 1896.0,870.7 1895.5,871.4 1895.6,871.1 1896.2,871.8 1895.9,869.2 1896.9,869.0 1896.9,871.3 1897.1,870.5 1898.1,871.0 1898.0,871.3 1898.3,869.4 1898.5,875.0 1899.4,876.8 1899.8,875.2 1900.0,879.1 1900.2,878.6 1900.7,881.0 1901.1,885.4 1901.1,883.1 1901.6,883.9 1901.8,885.4 1902.2,885.9 1902.6,885.6 1903.5,883.8 1903.1,888.3 1903.8,887.8 1904.8,887.7 1904.6,890.6 1905.4,892.2 1905.6,895.9 1905.1,895.8 1905.7,895.1 1905.9,897.1 1905.3,896.5 1905.5,898.6 1905.5,901.3 1905.7,900.8 1905.4,900.5 1905.8,904.2 1905.4,903.0 1905.6,903.0 1905.7,906.1 1905.7,907.9 1905.8,912.2 1905.5,911.8 1906.0,911.4 1905.9,914.2 1905.8,915.2 1906.1,916.2 1905.5,917.9 1905.6,920.1 1905.7,920.7 1905.8,921.9 1906.0,918.4 1906.2,922.2 1906.3,926.4 1905.9,926.9 1905.7,927.2 1905.9,928.4 1906.2,931.7 1905.9,928.6 1906.3,934.5 1906.2,934.5 1906.3,932.7 1906.2,933.0 1905.5,938.4 1906.5,937.4 1906.4,936.9 1906.1,942.3 1906.3,940.7 1906.4,942.5 1907.2,944.1 1907.1,941.2 1907.7,939.0 1908.0,939.0 1908.4,940.7 1909.0,936.5 1909.1,937.6 1910.3,934.1 1910.6,934.1 1911.1,936.3 1911.2,937.1 1910.8,939.9 1911.3,940.3 1911.3,941.5 1911.4,942.6 1911.2,942.6 1911.5,943.6 1912.2,946.9 1911.7,946.7 1911.7,947.4 1912.5,945.3 1912.5,941.1 1912.9,942.4 1913.5,939.9 1913.8,940.2 1913.9,937.9 1914.4,937.0 1914.3,937.0 1914.8,934.1 1915.2,930.3 1915.0,932.3 1915.0,930.0 1915.3,926.8 1915.8,925.8 1916.1,924.4 1916.5,926.2 1916.8,923.9 1916.8,918.7 1916.7,919.9 1917.0,920.1 1917.1,918.0 1917.8,918.7 1917.7,917.4 1918.3,917.1 1918.3,915.2 1918.4,915.2 1918.9,910.4 1919.0,911.1 1919.2,913.9 1919.3,911.4 1919.2,917.9 1919.6,917.1 1919.7,918.1 1920.3,921.8 1920.2,918.9 1920.3,921.2 1920.3,922.2 1920.6,923.2 1920.3,923.7 1921.1,925.8 1921.7,925.2 1922.0,923.1 1922.3,923.7 1922.5,921.7 1923.4,924.2 1923.8,924.3 1924.5,921.4 1924.5,924.3 1925.3,921.6 1925.8,919.9 1925.8,920.4 1925.4,917.9 1925.8,915.1 1926.0,915.3 1926.3,916.4 1926.4,911.4 1926.2,912.9 1926.5,907.9 1927.1,908.5 1927.6,906.6 1926.8,907.9 1927.1,905.5 1927.5,906.1 1926.9,904.2 1927.9,901.7 1927.8,905.4 1927.8,899.5 1927.8,899.0 1928.4,898.2 1928.4,896.4 1928.7,897.9 1929.1,894.8 1929.4,897.2 1930.3,897.8 1930.5,898.5 1931.2,898.1 1931.1,902.3 1931.8,899.3 1931.9,903.6 1932.4,903.4 1932.3,902.6 1932.8,904.7 1933.2,906.6 1933.7,909.0 1933.8,909.5 1934.8,912.3 1935.4,912.4 1935.0,911.3 1935.9,912.1 1936.2,915.0 1936.7,914.8 1937.2,913.2 1937.9,915.3 1938.2,917.8 1938.8,915.3 1939.4,916.8 1939.8,913.3 1940.0,916.6 1940.5,918.2 1941.0,917.4 1941.3,916.7 1941.6,913.1 1941.1,913.6 1941.7,913.1 1941.6,911.1 1941.5,911.0 1941.5,910.5 1942.0,905.2 1941.5,907.3 1942.0,904.8 1942.3,905.2 1942.7,902.4 1943.2,902.7 1944.2,905.7 1944.6,904.1 1945.2,904.5 1945.3,900.4 1945.6,902.3 1946.2,902.7 1946.9,901.4 1947.1,901.5 1947.7,901.3 1947.8,899.9 1948.3,898.5 1948.7,901.2 1948.8,900.4 1949.0,900.2 1949.4,903.6 1949.6,901.6 1949.4,904.2 1949.9,906.4 1950.1,908.0 1950.4,909.0 1950.9,911.1 1951.0,913.9 1950.7,909.2 1951.0,914.7 1951.8,914.2 1951.8,917.9 1952.1,918.3 1951.8,919.0 1952.5,919.5 1952.7,920.3 1952.5,915.1 1952.6,915.4 1952.5,917.1 1953.0,915.2 1952.5,913.9 1953.1,911.0 1952.7,908.9 1953.3,905.3 1953.5,909.8 1953.3,906.7 1953.2,908.5 1953.0,903.7 1953.3,904.8 1953.6,904.1 1953.7,898.5 1954.0,899.8 1953.1,897.3 1953.7,896.8 1954.1,898.1 1954.0,893.0 1954.0,892.1 1954.4,889.8 1954.3,889.2 1953.6,890.8 1954.1,888.5 1954.5,883.1 1954.4,885.1 1954.8,883.5 1954.8,880.2 1954.6,881.7 1954.7,880.5 1955.4,878.5 1956.1,881.8 1956.6,882.9 1957.0,880.5 1957.6,879.9 1957.7,881.0 1957.9,876.5 1958.8,877.6 1959.4,878.0 1959.3,877.1 1960.0,875.9 1960.9,878.2 1961.1,876.1 1961.5,878.4 1962.3,877.3 1962.4,876.5 1963.0,875.5 1963.4,876.4 1964.0,879.3 1964.8,880.3 1964.8,879.2 1965.1,883.8 1965.9,883.3 1966.2,883.8 1966.6,883.9 1967.2,883.6 1967.2,883.1 1968.0,881.2 1968.5,877.0 1968.8,877.6 1969.3,876.6 1970.0,876.8 1970.3,875.5 1970.6,879.3 1971.3,876.4 1971.2,877.5 1971.7,882.8 1972.2,881.2 1972.4,882.2 1972.2,882.9 1972.5,885.4 1973.0,886.8 1973.5,888.0 1974.0,887.8 1973.9,889.8 1975.0,885.9 1975.6,884.7 1975.9,883.4 1976.3,887.7 1976.8,889.1 1977.0,884.6 1977.7,883.8 1978.4,887.6 1978.5,887.0 1979.1,888.5 1978.7,890.9 1978.9,889.0 1979.4,889.9 1979.4,894.7 1980.1,891.2 1980.5,891.3 1980.8,895.8 1981.5,898.9 1981.2,897.9 1981.7,900.3 1981.9,900.6 1982.0,899.1 1982.3,899.6 1983.1,899.0 1983.4,897.9 1984.3,899.2 1984.8,899.3 1984.6,902.0 1985.5,901.8 1986.1,900.6 1986.8,898.8 1987.3,900.7 1987.5,901.7 1988.4,903.6 1988.4,903.1 1988.8,899.1 1989.4,902.8 1989.9,903.2 1990.3,904.8 1990.6,906.8 1991.1,905.0 1991.0,906.9 1991.7,908.7 1992.1,911.5 1992.4,913.1 1992.5,913.0 1993.0,913.5 1993.4,917.4 1994.1,916.3 1993.8,917.2 1994.4,919.5 1995.0,922.7 1995.2,919.8 1995.9,923.5 1996.9,920.1 1996.8,921.1 1997.2,921.7 1997.5,923.9 1997.9,920.7 1998.6,923.7 1999.2,927.2 1999.8,923.2 2000.2,923.9 2000.3,926.3 2001.1,925.8 2001.8,926.3 2002.3,926.7 2002.3,924.3 2002.8,925.8 2002.6,926.1 2003.0,923.5 2003.7,923.9 2003.9,923.9 2004.4,925.7 2004.5,924.3 2005.0,924.0 2005.8,925.2 2006.3,923.7 2006.7,926.5 2007.3,925.0 2007.4,924.7 2008.0,924.5 2008.1,927.7 2009.0,927.0 2009.1,923.6 2009.8,926.9 2010.1,926.7 2010.7,925.9 2011.0,929.0 2011.3,930.1 2012.3,928.5 2012.0,929.6 2013.0,928.7 2013.1,929.8 2013.9,928.7 2014.0,931.7 2014.6,932.7 2015.0,931.0 2015.6,930.4 2015.9,928.6 2016.3,929.6 2017.3,932.7 2017.4,931.7 2017.6,928.7 2018.5,930.0 2018.8,930.0 2019.0,933.0 2019.1,933.6 2019.0,932.8 2018.6,933.2 2018.8,934.2 2019.0,938.2 2019.0,939.3 2019.1,937.4 2018.8,939.9 2019.5,943.2 2019.1,942.4 2019.0,942.4 2019.3,946.8 2019.2,948.6 2019.5,948.0 2019.6,946.4 2019.5,944.5 2019.4,948.3 2019.8,941.4 2019.9,941.4 2019.7,937.0 2019.6,941.2 2019.8,937.6 2020.3,937.7 2019.9,933.8 2019.9,935.0 2020.4,932.9 2020.4,931.4 2020.2,931.0 2020.8,928.7 2020.9,931.7 2021.4,928.7 2021.5,930.1 2022.3,933.7 2022.7,931.8 2023.4,930.2 2023.9,933.0 2024.2,931.4 2024.4,933.3 2025.0,932.0 2025.3,931.2 2026.0,930.8 2026.3,932.1 2026.7,929.1 2027.1,931.7 2027.8,931.0 2028.1,930.5 2028.6,933.6 2028.9,930.0 2029.6,932.3 2030.0,931.9 2030.6,930.3 2030.8,932.0 2031.1,932.4 2030.9,933.3 2030.6,934.3 2031.0,938.7 2031.3,937.5 2030.8,940.3 2031.2,940.0 2031.0,942.5 2031.5,942.7 2031.3,943.5 2031.4,948.1 2031.6,946.5 2031.5,948.0 2031.5,948.3 2032.0,944.3 2031.8,944.7 2031.7,942.6 2031.4,942.9 2031.3,937.5 2031.8,938.3 2032.1,939.4 2032.2,935.7 2032.3,934.9 2032.1,933.4 2032.2,931.8 2032.2,932.0 2032.9,931.7 2033.1,932.9 2033.7,929.8 2034.2,933.6 2033.9,929.6 2034.9,930.4 2035.2,932.0 2036.0,931.3 2036.2,931.3 2037.0,930.6 2037.0,931.9 2037.3,930.2 2038.0,931.0 2038.5,929.6 2038.7,931.4 2039.1,928.8 2039.6,932.0 2040.6,929.9 2040.7,930.9 2041.2,931.4 2041.5,930.9 2041.9,932.3 2042.5,930.0 2042.0,929.8 2042.6,928.8 2042.8,934.6 2042.4,935.5 2042.6,935.8 2042.8,935.8 2043.0,940.7 2043.1,939.3 2042.9,939.1 2043.3,943.3 2042.6,943.6 2043.0,942.6 2043.2,944.4 2042.9,946.4 2043.6,948.1 2043.4,949.0 2044.4,948.3 2044.5,946.1 2044.6,949.0 2044.4,949.5 2044.7,946.8 2044.8,943.8 2044.5,944.8 2044.9,942.6 2044.8,942.5 2045.0,941.8 2045.6,940.5 2045.3,940.3 2044.9,935.2 2045.7,937.7 2045.7,935.4 2045.2,934.0 2045.0,931.2 2045.2,930.1 2045.4,929.7 2045.7,930.8 2045.4,928.0 2046.0,929.6 2046.5,925.0 2047.3,924.0 2046.9,925.3 2047.6,927.1 2048.2,927.9 2048.4,925.0 2048.4,927.5 2049.3,924.8 2049.8,923.3 2050.2,923.5 2050.9,924.2 2051.1,923.1 2051.2,923.4 2052.0,922.0 2052.5,923.6 2052.5,921.2 2052.8,921.9 2053.5,920.2 2054.2,921.3 2054.8,921.3 2055.0,921.0 2055.5,925.1 2055.9,921.0 2056.5,923.0 2056.8,922.6 2057.0,922.3 2057.5,923.3 2058.0,924.0 2058.3,925.7 2059.0,921.4 2058.9,919.5 2059.4,922.2 2060.5,920.6 2060.8,919.8 2061.0,920.0 2061.7,922.1 2062.1,921.9 2062.3,923.4 2062.8,923.6 2063.0,924.1 2063.9,929.5 2064.0,926.0 2064.2,924.8 2064.4,924.8 2065.0,927.4 2065.7,932.0 2065.8,932.8 2066.0,933.0 2066.3,934.0 2067.1,932.5 2067.6,932.6 2067.8,932.6 2068.2,930.8 2068.7,933.2 2069.1,932.5 2069.5,932.6 2070.0,931.0 2070.1,930.4 2071.0,927.8 2071.3,931.1 2071.5,926.9 2072.2,928.7 2072.9,928.9 2073.3,928.9 2073.8,930.0 2074.3,929.0 2074.4,929.6 2074.6,927.6 2075.3,931.1 2076.0,929.0 2076.3,930.7 2076.9,929.6 2077.1,930.3 2077.8,927.0 2077.9,923.6 2078.5,928.0 2079.1,930.6 2080.1,928.5 2080.5,930.3 2081.1,929.3 2081.2,926.3 2081.9,928.3 2082.0,927.0 2082.5,927.7 2082.7,929.0 2083.1,925.1 2083.7,926.0 2084.4,924.2 2084.8,928.9 2085.1,927.5 2085.7,926.8 2086.5,927.5 2086.4,927.3 2087.2,927.1 2087.7,931.2 2088.0,928.0 2088.1,931.3 2089.0,927.4 2089.0,927.7 2089.5,927.0 2090.2,928.4 2090.5,926.2 2091.5,926.2 2091.1,925.0 2092.1,924.4 2092.6,924.4 2092.9,924.5 2093.3,923.6 2093.1,924.7 2093.6,920.7 2093.7,922.8 2094.4,918.7 2094.7,916.4 2094.7,913.5 2094.9,914.6 2094.7,910.3 2095.4,911.8 2095.8,909.8 2096.1,908.7 2096.4,908.4 2097.0,906.1 2098.1,904.8 2097.8,904.7 2098.5,909.1 2098.4,902.3 2098.8,903.3 2099.2,899.7 2099.4,902.1 2099.1,898.8 2098.9,897.0 2100.0,895.5 2100.1,894.4 2100.5,891.2 2100.1,891.5 2100.8,890.0 2101.1,888.8 2101.8,889.1 2102.4,888.0 2102.4,886.3 2102.8,888.5 2103.6,886.3 2103.8,886.0 2104.0,883.8 2104.4,887.3 2105.3,890.0 2105.5,886.8 2106.3,888.4 2106.9,885.1 2106.9,886.9 2107.2,887.8 2107.4,885.3 2108.4,889.7 2108.4,889.2 2109.6,888.4 2110.0,893.7 2110.1,893.7 2110.5,893.6 2111.1,893.2 2111.5,890.7 2111.9,890.3 2112.4,894.3 2113.0,894.4 2113.4,886.8 2113.9,888.2 2113.9,888.1 2114.8,887.1 2115.0,886.8 2116.2,885.7 2115.7,882.4 2116.5,884.3 2117.3,884.8 2117.4,882.7 2117.8,881.7 2118.2,885.9 2118.9,881.8 2118.4,876.0 2119.6,879.9 2120.4,878.1 2120.5,876.4 2120.8,874.1 2121.2,874.9 2121.9,876.2 2122.9,878.5 2122.5,874.4 2123.1,875.5 2123.4,871.9 2124.4,872.0 2124.1,872.4 2125.1,875.3 2125.9,870.7 2125.8,873.3 2125.9,875.3 2127.0,870.8 2127.1,868.7 2127.2,871.7 2128.1,871.6 2128.3,872.0 2129.1,868.8 2129.4,871.0 2130.0,868.0 2130.0,866.2 2130.4,864.3 2131.0,859.5 2131.2,863.5 2130.9,863.7 2131.8,863.5 2132.0,859.6 2132.5,861.0 2133.2,863.0 2133.5,860.6 2133.5,862.3 2134.5,862.0 2135.0,859.4 2135.5,862.4 2135.2,861.2 2136.2,861.7 2136.3,859.5 2136.5,860.9 2137.1,860.3 2137.0,856.6 2137.4,855.1 2137.2,855.1 2137.9,853.2 2138.2,855.1 2138.1,850.9 2138.5,851.4 2138.1,848.5 2138.9,847.7 2138.5,846.4 2139.3,843.1 2138.8,843.8 2139.4,842.9 2140.1,841.0 2140.0,844.6 2140.6,841.3 2140.8,838.8 2141.2,839.3 2141.5,835.6 2142.5,835.5 2143.0,836.1 2143.6,837.7 2144.1,836.4 2144.6,834.6 2144.7,836.1 2145.5,835.8 2145.8,838.2 2146.1,837.7 2146.7,838.7 2147.3,836.4 2147.4,834.0 2148.4,834.5 2148.7,836.7 2149.2,834.0 2150.0,831.0 2149.7,828.2 2150.6,831.2 2150.9,828.2 2151.3,827.0 2152.0,826.8 2152.1,827.5 2153.0,823.5 2153.3,827.9 2153.8,823.3 2154.2,819.3 2154.8,821.6 2155.1,819.8 2155.4,820.1 2155.4,816.6 2155.4,812.8 2155.3,815.5 2155.8,813.2 2156.1,810.5 2155.6,810.5 2156.2,808.6 2155.6,810.5 2156.5,806.6 2156.7,807.0 2156.6,805.8 2157.1,805.3 2157.3,803.6 2156.8,804.3 2157.2,801.0 2157.6,794.7 2157.6,800.7 2157.5,795.0 2157.9,796.8 2158.4,799.4 2158.5,793.1 2158.5,793.0 2158.7,793.6 2159.2,789.3 2158.9,789.4 2159.3,786.2 2159.3,786.3 2159.4,786.8 2159.3,784.2 2159.3,782.8 2159.1,783.0 2160.2,780.8 2160.8,784.6 2160.9,784.0 2160.8,784.7 2161.6,789.6 2161.7,787.9 2161.6,788.0 2162.4,786.6 2162.6,791.0 2163.4,796.6 2163.3,794.5 2163.7,795.0 2163.4,797.2 2163.9,794.5 2164.2,798.3 2163.9,794.3 2164.7,794.5 2164.9,797.4 2164.7,793.7 2164.8,793.1 2165.3,791.9 2165.4,787.3 2165.2,790.9 2165.7,784.9 2165.8,785.9 2165.9,784.5 2166.0,784.8 2166.6,782.9 2166.3,779.8 2166.4,780.6 2166.8,778.4 2166.8,778.7 2166.9,775.2 2167.5,774.7 2168.1,771.9 2168.6,773.9 2168.1,775.2 2169.0,770.0 2169.4,776.4 2169.6,768.1 2170.7,770.6 2171.6,769.7 2171.2,768.7 2171.6,768.4 2172.2,774.4 2172.6,764.4 2173.2,768.1 2173.9,767.1 2174.0,771.7 2174.1,769.4 2174.6,773.7 2174.0,773.5 2175.1,775.7 2174.8,776.3 2174.4,778.7 2174.8,779.5 2175.0,781.6 2174.6,781.7 2174.6,780.2 2175.2,782.7 2174.9,782.0 2174.7,787.9 2175.3,787.3 2175.3,789.0 2175.1,789.7 2174.9,790.3 2174.9,789.8 2175.1,792.4 2174.8,794.9 2175.2,794.0 2175.2,795.0 2174.9,798.3 2175.3,798.2 2174.5,798.9 2175.3,799.8 2175.5,802.8 2175.6,805.3 2175.3,801.4 2175.2,806.5 2175.3,804.9 2175.2,804.4 2175.5,802.6 2175.7,803.6 2175.7,798.4 2175.8,798.4 2176.4,800.6 2176.5,796.7 2176.2,799.1 2176.5,793.1 2176.5,793.3 2177.1,794.2 2177.2,788.4 2177.6,788.7 2177.4,788.4 2177.8,787.3 2177.9,785.6 2178.1,784.5 2178.2,783.7 2178.5,782.7 2179.4,780.5 2180.2,780.5 2180.5,781.2 2181.2,781.2 2181.4,784.6 2180.8,784.4 2180.5,785.2 2181.0,787.9 2180.6,784.9 2180.5,789.9 2181.5,791.6 2181.3,791.4 2181.6,797.7 2181.2,794.2 2182.0,793.5 2182.2,796.2 2182.7,800.9 2181.8,798.7 2182.2,800.0 2182.2,798.1 2182.5,800.4 2182.8,796.2 2183.2,790.1 2182.7,797.5 2182.7,789.3 2183.6,790.3 2182.9,790.8 2182.9,789.7 2183.6,788.4 2183.6,786.3 2183.4,788.3 2183.6,784.5 2183.8,783.6 2184.5,785.6 2184.3,780.6 2185.3,782.9 2186.2,779.8 2186.0,783.8 2186.1,782.3 2186.9,785.8 2187.3,779.9 2187.9,780.7 2188.1,784.2 2188.7,782.8 2189.3,780.7 2189.9,777.0 2190.2,780.8 2190.4,776.8 2191.2,774.6 2191.8,770.7 2191.5,777.3 2192.4,773.0 2193.2,773.4 2193.2,773.3 2193.3,771.4 2194.0,767.9 2194.7,771.3 2194.3,771.5 2194.7,768.6 2195.3,773.9 2195.7,771.9 2195.8,769.4 2196.1,776.2 2196.9,773.7 2197.0,772.9 2197.7,773.2 2197.5,771.4 2198.8,775.0 2198.8,767.6 2199.8,767.7 2199.7,768.8 2200.3,767.9 2200.2,770.0 2200.6,766.7 2201.4,764.0 2202.0,766.7 2201.7,758.0 2202.4,761.3 2202.8,759.9 2203.2,760.6 2203.4,757.4 2203.4,759.5 2204.0,756.1 2204.4,762.2 2205.5,762.2 2205.9,759.7 2206.3,760.3 2206.6,761.6 2206.9,762.3 2207.6,764.4 2207.9,761.2 2208.6,761.5 2209.5,763.5 2209.1,762.1 2209.6,763.0 2209.6,764.6 2210.8,767.9 2211.0,766.5 2211.3,767.7 2211.5,767.6 2211.2,767.4 2211.7,763.1 2211.8,759.3 2212.3,761.0 2212.2,759.1 2212.2,755.3 2212.5,759.9 2212.7,751.6 2213.2,754.4 2213.5,751.0 2214.2,751.8 2214.0,745.3 2213.5,748.6 2213.4,750.1 2213.8,748.5 2214.3,746.2 2214.4,742.5 2213.9,745.1 2214.9,744.3 2214.9,741.5 2215.0,738.5 2214.9,737.2 2215.9,738.6 2215.8,744.4 2215.9,740.1 2215.9,744.5 2216.4,745.7 2216.7,745.7 2217.2,747.7 2217.1,749.0 2217.8,749.5 2217.2,754.4 2218.0,752.7 2217.6,756.1 2217.8,753.0 2218.7,757.7 2218.9,754.0 2218.9,757.9 2219.2,759.5 2219.1,755.0 2220.1,754.6 2220.0,755.6 2220.5,756.9 2221.6,751.3 2222.2,752.4 2222.6,758.1 2222.2,755.5 2223.4,749.0 2223.4,751.4 2224.4,747.9 2224.6,748.0 2225.1,749.6 2225.3,749.7 2225.7,755.4 2226.7,752.6 2227.6,750.8 2227.6,753.2 2228.0,755.0 2227.6,749.2 2227.6,747.9 2228.3,745.5 2228.0,749.6 2228.5,748.3 2228.3,746.1 2228.2,747.4 2228.9,742.0 2228.9,742.1 2229.0,741.8 2228.6,739.8 2229.2,735.4 2228.8,735.2 2229.6,735.3 2229.6,734.3 2229.1,732.4 2230.7,734.9 2230.9,728.6 2231.6,729.7 2232.5,728.7 2232.7,726.7 2232.8,725.9 2232.7,729.7 2232.5,726.5 2233.1,734.4 2234.1,729.6 2233.3,733.9 2233.6,732.6 2233.3,731.4 2233.8,737.2 2234.3,735.2 2233.7,736.9 2234.4,737.0 2234.2,739.6 2234.3,739.7 2234.8,748.6 2234.5,743.5 2234.9,744.8 2235.1,745.2 2236.0,747.1 2236.5,744.3 2237.4,743.8 2237.0,740.1 2237.9,742.9 2238.0,742.7 2238.4,740.3 2238.6,747.1 2238.8,748.6 2240.0,745.1 2239.1,753.2 2240.3,750.4 2240.1,751.1 2240.2,753.3 2241.0,757.9 2240.8,757.3 2240.9,757.1 2241.4,756.0 2241.8,759.5 2241.6,759.0 2242.0,760.0 2242.2,761.6 2242.7,762.3 2242.6,760.0 2242.5,757.0 2243.0,754.6 2242.7,754.1 2243.1,755.3 2243.6,753.5 2244.1,753.5 2243.8,746.8 2244.0,745.9 2244.6,748.3 2244.8,749.5 2244.5,742.1 2244.9,746.0 2244.4,743.2 2245.6,747.1 2245.5,740.7 2246.4,739.9 2246.0,739.4 2246.1,737.3 2245.8,738.2 2246.4,738.8 2246.4,734.3 2246.7,735.9 2246.6,737.6 2246.6,735.2 2246.7,734.3 2246.8,743.0 2247.1,742.1 2246.8,743.8 2247.5,743.1 2247.2,744.6 2247.2,746.7 2247.8,749.5 2247.1,749.4 2247.6,749.4 2248.1,753.4 2248.2,754.2 2247.8,755.5 2248.0,754.1 2247.9,754.2 2248.5,757.4 2248.5,759.2 2248.9,758.6 2248.9,760.1 2248.8,759.9 2249.5,756.9 2249.9,767.5 2249.4,765.3 2250.6,766.1 2250.3,770.1 2249.8,767.9 2250.4,769.9 2250.2,773.3 2250.6,773.6 2250.6,774.1 2250.3,770.4 2251.4,775.5 2251.5,779.8 2252.5,778.9 2252.9,779.1 2253.6,781.2 2254.5,787.1 2254.3,784.3 2254.8,784.6 2255.2,785.7 2255.9,781.0 2256.3,776.3 2256.5,783.5 2257.1,778.7 2257.3,780.4 2258.3,778.4 2258.5,774.2 2259.0,774.1 2259.2,776.7 2260.1,773.6 2260.7,772.6 2260.8,773.9 2261.2,769.3 2261.7,778.4 2262.5,779.0 2263.0,774.2 2263.2,776.2 2263.2,776.3 2263.5,774.5 2263.8,770.4 2263.7,771.7 2264.5,770.5 2263.6,769.4 2264.8,770.3 2264.8,763.8 2265.2,761.9 2265.0,762.0 2265.3,763.0 2265.7,762.5 2265.9,763.0 2265.8,755.6 2266.3,756.7 2265.7,760.3 2266.3,755.3 2266.2,754.1 2266.8,753.0 2267.6,759.9 2267.5,761.6 2268.2,760.2 2268.4,761.6 2269.2,764.2 2269.2,764.3 2269.5,765.8 2269.9,766.4 2269.9,766.8 2270.1,768.5 2269.8,767.5 2269.8,768.1 2270.3,773.6 2270.6,775.8 2271.0,779.1 2271.0,777.8 2270.7,776.5 2271.2,780.0 2271.4,778.7 2271.4,785.5 2271.6,782.5 2271.3,781.6 2271.6,782.7 2272.2,776.9 2272.4,777.2 2272.3,775.1 2272.1,774.5 2271.7,776.7 2272.4,773.6 2272.5,768.4 2273.0,772.7 2273.1,768.7 2272.9,763.7 2273.4,765.0 2273.8,767.3 2273.8,762.0 2273.4,764.2 2273.7,761.6 2274.2,759.8 2274.7,762.9 2274.7,763.1 2275.4,762.4 2276.0,762.0 2276.4,765.9 2277.1,769.1 2277.3,764.7 2277.9,765.8 2278.0,767.3 2278.8,768.4 2279.0,768.2 2279.7,770.3 2279.8,769.3 2280.2,771.1 2281.1,773.5 2281.7,774.7 2282.0,774.1 2282.3,768.3 2282.5,772.0 2282.4,772.8 2281.7,769.3 2282.4,769.0 2282.5,767.5 2282.8,765.5 2282.8,764.4 2283.4,765.4 2282.8,763.5 2283.4,761.8 2283.1,759.4 2283.0,757.3 2283.6,759.9 2283.2,753.4 2284.5,754.4 2284.0,754.0 2283.6,752.0 2284.2,750.3 2284.4,747.1 2284.1,749.0 2284.0,745.3 2284.7,748.1 2284.9,743.3 2285.2,746.5 2285.5,742.6 2285.6,739.7 2285.6,742.0 2286.4,736.8 2285.6,736.2 2286.7,734.3 2287.3,733.3 2287.1,731.2 2287.3,735.9 2287.4,733.9 2288.4,728.9 2288.3,731.5 2288.3,728.0 2289.0,726.6 2288.9,726.6 2289.6,722.1 2290.5,726.6 2291.4,725.7 2291.3,723.3 2291.5,724.1 2291.9,726.1 2292.5,723.8 2293.0,722.5 2293.1,722.6 2293.4,720.6 2293.9,730.2 2295.0,725.9 2295.3,726.4 2295.8,721.8 2296.0,725.5 2296.7,725.9 2297.0,725.6 2297.7,720.3 2298.5,719.2 2298.7,720.9 2298.8,725.1 2299.0,717.7 2299.5,719.7 2300.2,717.4 2300.3,716.9 2300.9,713.4 2301.1,715.5 2301.9,713.3 2302.7,712.1 2302.8,718.9 2303.3,719.7 2303.9,721.0 2304.7,722.0 2304.5,721.0 2305.1,723.8 2305.7,725.0 2306.4,725.0 2306.9,720.2 2306.7,722.3 2307.3,720.4 2307.5,718.3 2308.5,717.1 2308.8,714.1 2309.3,717.6 2310.6,718.3 2310.6,716.3 2310.4,718.3 2311.0,718.5 2311.4,718.5 2311.4,721.5 2312.2,724.8 2313.2,723.1 2313.5,721.7 2313.9,717.9 2314.1,715.2 2314.4,718.0 2314.9,718.5 2314.7,718.5 2315.0,715.4 2314.9,709.8 2315.1,714.4 2315.6,710.2 2315.6,709.2 2315.5,707.6 2316.0,703.4 2315.7,707.0 2315.8,703.1 2316.7,701.1 2316.4,699.2 2316.5,702.9 2315.9,697.2 2316.3,696.7 2316.9,696.6 2316.6,698.6 2317.1,693.8 2316.8,690.6 2317.1,690.0 2317.4,692.9 2317.4,688.8 2317.1,684.8 2317.5,686.6 2317.7,686.1 2318.7,688.1 2318.8,687.0 2319.1,686.1 2319.4,690.7 2319.7,688.9 2320.6,686.6 2321.3,687.1 2321.2,689.7 2321.9,688.2 2321.8,693.1 2321.8,692.7 2322.9,696.1 2322.7,694.2 2323.0,688.3 2322.8,694.7 2323.7,697.3 2323.3,693.8 2324.0,698.7 2324.1,700.0 2324.5,694.7 2324.6,694.3 2324.5,695.0 2324.7,691.3 2325.3,691.0 2325.6,689.8 2325.7,690.3 2325.9,684.3 2326.1,686.1 2326.2,683.7 2327.3,686.6 2327.5,683.9 2327.9,685.9 2328.5,685.1 2328.9,685.3 2329.4,683.5 2329.3,681.6 2330.3,681.9 2330.4,681.0 2330.0,681.6 2331.5,673.8 2331.1,674.3 2332.0,674.2 2331.8,673.8 2331.6,671.5 2332.3,671.6 2332.4,671.4 2332.3,670.8 2333.4,670.9 2332.8,669.5 2333.6,670.6 2333.5,666.4 2334.3,666.7 2333.4,661.8 2333.6,664.5 2334.3,659.4 2334.4,660.4 2334.9,658.4 2334.6,658.2 2334.4,657.3 2333.7,659.9 2334.5,652.7 2334.7,652.0 2335.5,648.1 2335.4,651.9 2335.6,648.6 2336.1,651.0 2336.5,648.7 2336.4,643.1 2336.5,640.0 2337.6,644.6 2337.0,638.8 2337.3,641.1 2338.5,639.3 2339.4,635.9 2339.5,635.6 2339.5,638.6 2339.5,633.8 2339.8,634.4 2340.3,632.4 2341.1,634.9 2341.2,630.0 2341.8,628.5 2341.7,627.1 2343.1,627.5 2343.2,625.9 2343.9,624.8 2344.7,623.9 2344.9,622.4 2345.0,623.2 2345.6,622.0 2346.7,617.9 2346.0,616.2 2346.8,615.1 2347.0,615.5 2346.6,615.3 2347.1,608.9 2347.3,614.1 2347.9,604.6 2347.4,609.4 2348.4,602.9 2348.2,601.6 2348.0,604.5 2348.4,608.0 2349.0,599.3 2348.8,600.3 2348.8,600.3 2349.5,602.3 2348.9,594.2 2349.3,601.5 2348.9,597.6 2349.9,590.8 2350.3,595.4 2350.4,589.6 2350.0,585.1 2350.5,589.0 2351.3,587.4 2350.9,584.0 2351.5,584.0 2352.0,585.1 2352.6,580.8 2352.7,587.9 2353.2,585.6 2354.2,581.6 2354.2,581.1 2354.6,587.4 2354.6,577.0 2355.2,576.5 2355.8,580.0 2356.0,573.6 2355.8,573.5 2355.8,570.4 2355.9,570.7 2356.5,574.4 2356.8,572.8 2357.6,569.2 2357.4,564.8 2357.6,562.6 2357.6,567.4 2357.9,563.0 2358.3,560.4 2358.6,564.4 2359.3,567.8 2359.4,564.4 2360.1,567.7 2360.4,569.5 2361.3,573.9 2362.3,570.7 2361.7,574.1 2361.7,574.6 2362.5,576.8 2362.7,581.6 2363.9,583.2 2363.8,578.8 2364.7,577.2 2364.8,583.0 2365.4,581.6 2365.1,585.2 2365.3,582.9 2365.2,589.9 2364.7,584.4 2365.9,591.1 2365.3,590.7 2365.9,594.3 2365.8,593.3 2365.9,591.2 2366.1,596.5 2365.6,589.1 2366.5,595.1 2366.0,600.2 2366.3,595.1 2366.5,597.6 2365.9,600.5 2366.5,599.3 2367.2,603.2 2367.1,606.3 2366.5,606.1 2366.5,601.0 2366.4,605.5 2366.8,607.4 2366.7,609.4 2366.6,613.2 2367.6,609.5 2366.1,611.9 2367.3,615.1 2366.9,621.3 2367.5,616.0 2367.6,617.5 2367.1,618.2 2367.4,619.6 2367.3,622.5 2367.9,625.8 2368.5,625.0 2368.9,629.4 2368.4,626.9 2368.8,630.8 2368.2,625.8 2368.3,628.9 2369.3,632.5 2368.9,634.4 2369.1,633.7 2369.4,636.3 2368.7,629.3 2369.8,632.4 2370.6,627.4 2370.3,628.2 2370.1,626.2 2370.8,625.3 2370.9,624.9 2370.8,623.7 2372.0,622.2 2372.2,621.4 2372.3,622.1 2372.2,617.3 2372.1,614.8 2372.7,616.7 2372.8,615.1 2373.4,618.0 2373.7,619.2 2374.2,622.7 2375.4,622.1 2374.8,622.6 2375.2,623.7 2375.8,625.5 2376.1,623.5 2376.6,626.3 2376.9,625.3 2376.6,632.2 2377.2,630.6 2377.7,629.4 2377.9,630.7 2378.0,633.4 2378.2,637.0 2377.9,636.4 2378.4,637.5 2378.6,638.0 2379.1,635.5 2379.5,633.3 2379.8,637.2 2380.6,632.9 2380.7,633.0 2381.5,624.3 2382.2,628.0 2382.2,626.3 2382.6,626.0 2383.6,622.4 2383.9,627.6 2383.7,628.4 2384.7,632.8 2384.6,631.2 2385.5,633.5 2385.9,633.7 2385.7,633.7 2386.5,629.3 2385.6,634.4 2386.2,622.3 2386.1,628.2 2386.6,629.4 2386.1,621.0 2386.9,619.5 2386.9,621.9 2386.4,621.8 2386.3,619.4 2386.5,622.8 2386.6,620.3 2386.9,613.2 2386.3,618.4 2387.1,611.7 2386.5,614.2 2387.1,614.4 2387.2,608.5 2387.4,607.8 2386.9,608.6 2386.8,606.9 2387.5,605.9 2387.2,605.8 2388.0,606.7 2387.6,601.9 2388.0,601.4 2387.6,595.8 2387.6,599.7 2387.7,598.7 2387.7,596.5 2388.0,598.6 2388.6,598.9 2388.9,602.8 2389.0,599.8 2390.2,608.7 2390.6,600.7 2390.3,607.9 2391.4,607.4 2391.5,607.7 2391.9,604.4 2391.7,607.2 2391.3,606.9 2391.9,611.5 2392.2,616.0 2391.8,618.9 2392.5,612.0 2392.4,614.2 2392.4,620.2 2392.3,617.8 2391.5,620.8 2392.6,621.3 2392.6,623.5 2392.3,627.7 2393.3,626.5 2392.6,621.9 2392.8,624.6 2393.7,630.2 2392.6,630.3 2392.7,632.3 2393.4,634.3 2392.7,630.8 2392.7,637.4 2392.8,635.3 2393.3,637.5 2394.5,638.4 2394.4,640.3 2394.3,631.0 2394.4,636.7 2395.7,639.6 2396.1,633.0 2396.7,635.0 2397.1,633.7 2397.8,637.3 2397.0,636.1 2397.5,637.0 2397.9,637.2 2398.1,637.5 2397.3,637.3 2397.6,639.8 2397.3,648.0 2398.5,646.2 2398.5,646.5 2398.2,648.7 2398.9,648.6 2398.9,651.2 2399.9,648.6 2399.8,652.9 2399.1,653.8 2399.0,657.1 2398.6,657.9 2399.2,655.2 2399.2,657.8 2399.2,660.0 2399.7,657.9 2399.1,656.9 2399.6,660.6 2400.7,659.9 2399.8,664.0 2400.0,666.5 2399.6,668.8 2400.3,664.4 2400.3,671.7 2400.1,673.0 2400.1,677.4 2400.7,675.8 2400.5,671.6 2400.6,672.4 2400.1,675.9 2399.9,677.5 2400.6,679.0 2400.8,679.8 2400.8,682.2 2401.0,683.5 2400.7,682.5 2400.9,685.7 2400.6,685.7 2401.5,685.2 2400.8,693.1 2400.9,694.5 2401.4,692.3 2400.8,694.6 2401.4,692.5 2401.3,693.8 2401.3,691.5 2401.4,697.3 2401.3,695.5 2401.1,696.6 2401.6,705.3 2400.7,702.2 2401.9,702.9 2401.8,710.9 2402.0,706.4 2401.6,703.6 2402.1,707.5 2401.8,710.2 2402.3,712.3 2402.3,711.8 2401.9,714.6 2401.5,711.1 2402.5,721.3 2402.4,719.6 2402.0,719.4 2402.4,718.0 2402.9,720.6 2402.3,719.1 2402.4,722.6 2402.9,724.3 2402.7,726.4 2402.7,726.9 2403.2,727.8 2403.5,728.5 2403.8,731.1 2403.6,731.8 2404.5,732.5 2405.0,730.4 2404.6,729.6 2404.3,731.9 2404.9,731.3 2404.5,726.1 2404.9,725.9 2406.0,720.5 2405.3,726.0 2405.9,719.7 2405.7,722.8 2405.8,718.0 2405.8,717.9 2406.1,716.0 2405.9,709.4 2406.0,716.8 2406.2,714.2 2406.7,711.5 2405.8,708.2 2406.5,703.7 2406.4,705.5 2406.5,710.1 2406.6,706.8 2407.0,706.2 2406.8,706.2 2407.4,703.1 2407.9,698.8 2407.7,696.4 2407.7,698.1 2407.9,701.4 2407.5,698.0 2408.2,697.6 2408.7,693.1 2408.2,693.4 2408.7,689.8 2408.4,689.5 2408.5,689.1 2408.6,694.5 2409.3,687.7 2408.8,681.7 2408.5,685.1 2408.8,688.8 2408.3,683.6 2408.5,679.5 2409.2,681.7 2409.2,683.9 2408.9,676.0 2408.5,675.1 2408.1,673.3 2409.4,677.0 2409.1,676.0 2409.6,671.7 2408.8,671.1 2409.2,668.8 2408.7,670.4 2409.6,664.8 2409.2,667.6 2410.0,663.9 2409.6,662.2 2409.5,662.2 2410.1,656.5 2409.2,659.1 2409.6,654.8 2409.2,658.7 2409.6,655.9 2409.1,660.9 2409.9,655.7 2410.2,652.4 2409.7,653.1 2409.2,646.6 2409.7,650.9 2409.1,645.2 2410.1,644.7 2409.9,644.9 2410.0,643.4 2409.5,644.0 2410.0,646.1 2409.4,640.8 2410.1,641.1 2410.4,642.3 2410.1,637.5 2409.6,643.3 2410.2,641.4 2411.1,638.7 2410.4,643.0 2410.4,645.6 2410.2,643.4 2410.5,644.7 2410.7,647.4 2411.4,649.0 2411.8,649.5 2411.1,651.6 2411.8,653.0 2411.1,651.1 2411.3,657.4 2411.7,657.2 2411.6,658.6 2412.0,655.4 2412.4,660.2 2412.6,661.7 2412.1,657.2 2412.1,663.4 2412.4,666.0 2412.4,665.8 2412.9,665.5 2412.5,671.7 2412.9,669.3 2413.4,671.3 2412.7,674.2 2413.2,671.3 2413.3,673.9 2413.2,677.0 2413.5,680.5 2413.4,679.8 2413.3,678.9 2413.2,676.9 2413.5,680.7 2413.8,682.2 2414.5,680.1 2414.3,680.3 2415.2,677.4 2415.3,679.1 2416.8,675.3 2416.2,671.4 2416.7,671.1 2417.3,671.7 2417.6,671.0 2418.0,672.5 2418.1,673.0 2417.9,672.3 2418.3,677.8 2418.4,678.0 2418.8,675.5 2418.4,679.7 2419.2,681.5 2419.2,681.6 2419.8,683.1 2420.6,682.8 2420.3,684.2 2420.1,686.0 2420.3,685.4 2421.1,683.8 2419.9,688.8 2421.1,689.3 2421.1,689.3 2421.3,693.4 2421.1,691.8 2421.6,692.7 2422.0,689.9 2421.0,688.7 2422.2,686.9 2422.2,689.2 2421.4,684.7 2421.6,682.2 2422.0,685.5 2422.6,683.8 2422.2,682.0 2422.6,676.2 2422.9,681.6 2422.0,676.2 2422.7,676.2 2423.4,672.7 2422.7,673.8 2423.8,669.8 2422.7,671.3 2423.0,669.1 2423.5,670.9 2423.5,669.3 2423.3,671.5 2423.9,664.5 2423.8,663.5 2424.1,662.7 2424.0,660.5 2424.4,658.3 2423.9,658.6 2424.5,657.5 2424.8,657.5 2424.4,658.0 2425.1,656.2 2424.8,650.2 2425.0,649.6 2424.9,647.5 2425.0,648.6 2425.6,643.9 2425.9,641.6 2425.1,649.5 2425.4,643.5 2425.9,644.3 2425.7,641.3 2425.4,634.4 2425.7,642.7 2425.6,634.0 2426.4,634.2 2426.4,636.8 2427.0,633.7 2425.9,636.1 2425.3,634.3 2425.6,628.3 2425.8,630.4 2425.3,630.9 2426.0,625.9 2426.7,622.7 2426.2,626.3 2426.4,620.4 2427.2,623.7 2426.2,622.9 2425.7,621.8 2426.3,617.8 2426.6,619.6 2426.8,618.3 2426.0,614.1 2427.0,614.7 2427.3,612.1 2426.8,610.5 2426.9,610.6 2426.9,606.8 2427.1,606.2 2426.8,604.8 2427.5,603.3 2427.8,603.1 2427.5,600.6 2427.7,602.5 2427.8,602.7 2427.6,603.8 2427.0,601.8 2427.6,596.5 2428.1,595.5 2427.9,600.4 2429.3,600.6 2429.7,601.5 2430.0,601.6 2430.2,607.5 2430.6,603.9 2431.1,607.1 2431.7,608.2 2432.0,604.3 2431.8,609.4 2432.3,611.6 2433.3,613.5 2434.0,613.9 2433.8,613.5 2434.3,615.1 2434.8,619.6 2434.8,617.0 2435.6,621.1 2435.0,620.8 2435.4,618.9 2436.0,615.5 2435.1,622.1 2435.8,625.9 2436.1,622.8 2436.5,623.8 2436.4,629.8 2436.1,631.5 2436.3,625.2 2437.0,635.3 2436.7,634.9 2436.9,631.2 2437.9,635.6 2437.9,632.7 2438.0,637.5 2437.7,641.8 2438.3,638.7 2438.3,638.1 2439.0,643.5 2439.1,644.9 2439.1,646.4 2439.6,644.3 2440.1,641.8 2439.9,646.5 2440.6,650.9 2440.0,650.1 2440.6,652.5 2441.3,652.6 2441.6,650.5 2441.5,653.2 2441.8,656.1 2442.1,658.0 2442.5,657.4 2442.0,662.6 2442.4,659.2 2442.2,657.0 2442.3,665.0 2443.0,664.7 2443.8,662.8 2443.8,665.7 2443.7,669.7 2443.8,670.5 2444.3,669.5 2444.6,668.8 2444.1,673.3 2444.0,674.1 2444.0,675.1 2445.3,674.1 2444.6,677.1 2444.7,680.1 2445.3,681.5 2445.7,678.7 2445.5,682.2 2445.4,687.2 2445.6,689.2 2446.8,685.9 2446.1,688.2 2446.5,689.5 2445.8,692.1 2447.1,690.9 2447.0,694.4 2446.9,689.8 2446.3,691.3 2446.8,695.0 2446.8,697.3 2447.4,694.0 2447.0,703.4 2447.6,700.4 2446.9,698.6 2447.2,703.4 2447.2,699.2 2447.6,705.7 2447.2,707.9 2448.2,705.4 2448.2,713.5 2447.7,708.7 2448.2,711.1 2447.7,711.8 2448.1,711.3 2448.6,716.0 2448.5,715.7 2448.6,714.0 2448.9,713.4 2448.4,710.9 2448.9,712.2 2449.2,711.0 2448.8,707.2 2449.1,705.4 2449.1,709.8 2449.5,706.8 2449.6,704.2 2449.8,702.2 2449.2,703.3 2450.1,698.7 2449.6,696.8 2450.0,698.6 2450.6,700.0 2450.5,697.5 2450.0,693.6 2450.8,693.8 2450.5,689.6 2450.9,689.7 2450.9,689.9 2451.1,690.4 2450.8,692.2 2451.1,685.9 2450.8,686.0 2451.3,683.8 2451.5,680.4 2452.3,681.4 2452.1,679.7 2451.7,681.4 2452.6,679.3 2452.3,674.3 2452.5,673.6 2452.7,674.7 2453.2,669.5 2453.0,668.2 2453.9,669.5 2453.8,668.6 2454.1,668.2 2454.4,667.6 2454.3,666.8 2454.4,660.6 2454.8,663.5 2455.6,662.6 2455.6,662.5 2455.3,662.0 2455.1,660.4 2455.6,659.5 2455.6,654.2 2456.0,656.5 2455.5,658.4 2455.5,649.6 2456.3,652.0 2456.2,649.5 2456.3,648.5 2456.3,646.5 2456.6,644.5 2456.1,646.6 2456.6,646.0 2457.1,641.7 2457.1,642.0 2457.4,641.3 2457.9,640.3 2457.6,638.1 2457.7,640.3 2457.2,633.7 2458.2,635.9 2457.9,632.3 2457.3,634.1 2458.5,633.6 2458.5,630.0 2458.6,623.8 2459.5,630.6 2460.2,629.4 2460.6,627.2 2461.2,629.2 2461.5,628.8 2461.5,625.8 2462.2,626.9 2462.9,624.5 2463.0,626.3 2463.8,623.8 2464.1,626.3 2464.6,630.0 2465.3,625.8 2466.0,623.7 2466.1,623.0 2466.3,624.5 2467.3,626.1 2467.3,622.4 2468.2,624.2 2468.9,627.3 2468.6,622.6 2469.5,624.9 2469.7,622.6 2470.7,617.5 2470.6,618.4 2470.7,617.0 2471.6,619.3 2472.6,617.2 2471.9,616.9 2473.1,618.1 2474.2,612.3 2474.3,612.2 2474.8,618.1 2474.6,611.2 2475.3,611.4 2476.1,610.4 2475.5,605.3 2476.0,606.4 2476.7,601.8 2476.5,604.2 2476.6,605.7 2476.9,601.9 2477.0,605.2 2477.0,595.9 2477.6,600.8 2477.9,596.7 2477.7,598.6 2477.5,594.2 2478.4,597.9 2478.6,595.3 2478.2,593.5 2478.9,596.5 2479.2,589.6 2479.0,589.0 2479.0,583.6 2478.7,584.4 2479.1,579.1 2479.5,582.2 2479.0,585.7 2479.4,582.3 2479.3,577.0 2480.4,578.3 2480.3,575.9 2479.5,574.3 2480.0,570.4 2480.2,573.1 2480.4,577.1 2480.3,574.7 2480.6,572.3 2480.7,571.4 2480.8,568.1 2480.2,566.2 2480.5,568.5 2481.3,563.2 2480.8,561.1 2481.5,559.8 2480.8,555.4 2480.6,559.4 2480.8,563.7 2482.2,559.6 2481.4,554.1 2481.7,554.2 2481.4,555.5 2481.5,550.7 2482.0,551.8 2482.0,550.0 2482.7,553.9 2482.8,547.5 2483.2,545.8 2482.9,545.6 2483.6,542.0 2483.4,541.9 2483.4,540.1 2484.1,538.8 2483.7,539.1 2484.3,537.2 2484.6,536.9 2485.8,537.3 2485.7,535.6 2485.9,541.8 2486.7,543.0 2487.0,544.2 2487.3,541.9 2487.9,547.9 2488.3,544.3 2488.1,545.9 2488.7,548.7 2489.0,543.3 2489.1,552.9 2488.9,550.2 2488.3,551.2 2489.5,551.1 2489.4,556.4 2489.7,555.5 2489.7,557.1 2490.2,558.3 2490.9,554.6 2489.3,559.5 2490.3,562.5 2490.4,559.4 2490.4,557.4 2490.3,566.8 2490.5,567.8 2491.5,568.8 2490.7,565.2 2490.7,568.4 2491.0,565.5 2491.2,575.6 2491.8,572.3 2491.0,578.0 2491.4,569.2 2491.0,572.8 2492.0,579.0 2492.1,580.3 2492.1,583.2 2492.1,581.6 2492.8,579.4 2493.3,581.9 2493.8,588.5 2494.4,582.1 2493.7,588.3 2495.8,591.8 2495.6,590.8 2495.8,589.0 2495.2,590.2 2496.2,588.8 2497.3,592.5 2497.6,592.6 2498.0,595.1 2499.0,592.8 2499.2,596.0 2499.5,596.5 2499.5,590.5 2499.1,596.2 2500.0,592.8 2499.8,585.1 2499.7,593.7 2500.5,587.4 2500.8,588.4 2500.2,586.0 2500.6,586.5 2500.4,584.4 2500.2,584.7 2501.4,580.1 2500.8,581.7 2501.8,581.2 2501.4,577.7 2501.4,574.8 2501.2,571.9 2500.8,575.9 2501.8,568.7 2501.2,574.1 2502.1,572.1 2502.4,572.1 2501.9,571.0 2502.6,563.3 2502.4,565.3 2503.4,565.9 2502.5,558.3 2503.0,563.2 2502.6,559.5 2502.5,557.3 2503.9,562.3 2503.4,555.6 2502.9,556.6 2503.2,555.5 2503.3,553.8 2503.4,549.6 2504.2,552.3 2503.8,551.7 2503.7,548.3 2503.9,548.1 2505.0,547.9 2504.7,546.0 2504.9,545.3 2505.0,536.6 2504.9,542.4 2505.1,540.6 2506.1,540.6 2506.2,542.9 2506.9,548.7 2507.3,548.9 2507.5,545.9 2508.0,551.2 2508.0,548.8 2508.8,548.0 2509.3,548.9 2510.0,542.5 2510.8,539.1 2510.8,545.1 2510.8,542.0 2512.1,543.5 2511.4,542.4 2512.2,541.6 2512.6,536.9 2511.9,537.2 2512.6,541.4 2512.8,538.7 2512.9,543.6 2513.5,539.7 2514.3,544.4 2514.4,543.7 2513.9,548.8 2514.2,549.9 2514.2,551.3 2514.7,547.0 2514.9,553.1 2514.9,551.1 2515.1,551.3 2515.1,555.9 2515.5,556.9 2514.8,549.5 2514.7,555.4 2516.0,553.6 2515.6,561.1 2516.3,564.4 2516.3,563.0 2516.3,567.5 2517.3,563.3 2516.8,568.0 2516.9,568.2 2517.3,569.1 2516.9,565.7 2516.6,575.1 2517.9,570.2 2517.7,575.7 2518.3,578.8 2517.4,579.9 2518.6,578.9 2518.9,579.8 2518.1,581.1 2518.9,577.3 2518.9,585.8 2520.0,580.9 2519.4,582.8 2519.2,588.6 2519.8,593.7 2519.3,589.8 2520.0,589.0 2521.0,590.2 2520.6,591.6 2521.0,593.4 2520.7,593.2 2521.3,594.8 2522.1,595.5 2522.1,597.5 2522.4,599.2 2522.9,600.7 2523.2,601.5 2523.3,602.7 2523.7,603.9 2523.7,606.6 2523.4,606.5 2525.0,606.8 2524.3,607.5 2524.8,610.6 2525.3,610.4 2525.0,610.5 2526.0,614.4 2526.5,615.9 2525.9,617.8 2526.4,613.6 2526.4,616.9 2526.5,621.3 2526.3,617.4 2526.4,622.4 2527.5,622.6 2528.3,620.6 2528.0,622.3 2528.7,614.1 2528.7,622.8 2529.4,618.8 2530.5,617.0 2531.5,616.1 2531.2,615.1 2531.2,616.7 2531.3,616.1 2531.8,618.5 2531.4,620.6 2532.2,620.3 2532.2,622.0 2531.9,620.1 2531.7,625.5 2532.3,620.8 2533.1,630.0 2532.9,628.0 2533.0,631.0 2532.6,625.9 2533.2,633.2 2533.2,632.4 2533.4,634.6 2533.8,631.9 2533.7,630.9 2533.1,637.2 2533.7,633.9 2534.0,639.6 2534.2,641.2 2533.8,641.4 2533.8,637.2 2534.6,639.9 2534.8,638.3 2534.5,635.8 2534.5,636.6 2535.5,631.2 2535.0,631.2 2534.8,632.8 2535.1,623.9 2535.0,628.2 2535.3,627.6 2535.6,626.0 2535.5,622.9 2535.8,626.7 2536.0,622.5 2536.2,622.3 2536.2,621.4 2536.1,626.6 2536.5,615.1 2536.4,617.6 2536.5,615.0 2536.6,612.2 2536.2,611.8 2536.8,611.4 2537.0,605.4 2536.7,606.3 2537.4,610.0 2536.9,602.0 2537.0,604.9 2537.2,604.7 2537.1,608.0 2537.7,600.9 2537.7,598.8 2537.8,600.0 2537.7,600.6 2537.9,597.8 2538.0,597.3 2537.6,593.3 2538.0,597.0 2538.1,596.9 2538.1,589.0 2537.7,591.9 2539.0,586.7 2538.8,586.9 2538.7,583.7 2538.1,583.9 2538.6,580.5 2539.2,578.1 2539.0,578.4 2538.9,582.0 2539.1,578.9 2539.1,573.2 2539.5,576.9 2539.3,578.0 2540.1,574.8 2539.4,571.1 2539.3,567.4 2539.1,570.8 2539.7,575.4 2540.5,566.2 2540.5,565.7 2539.9,571.4 2540.6,564.6 2540.2,565.6 2540.8,561.9 2540.5,560.3 2540.5,559.2 2541.2,560.9 2540.6,562.8 2541.6,563.3 2541.1,566.6 2541.8,565.0 2541.8,568.8 2541.2,567.7 2542.2,569.1 2541.7,565.9 2542.2,568.3 2542.2,570.7 2542.8,572.3 2542.8,574.5 2543.7,577.5 2543.5,575.1 2543.6,582.6 2543.7,580.3 2543.8,575.3 2544.2,581.6 2545.5,583.4 2545.3,579.5 2545.3,584.2 2546.1,584.6 2546.9,584.6 2547.4,588.4 2547.7,587.3 2547.9,583.0 2548.3,588.8 2549.2,595.3 2549.1,591.5 2549.8,589.0 2549.8,594.1 2550.5,592.4 2550.4,590.6 2551.0,592.2 2551.3,594.8 2552.1,595.7 2551.7,600.6 2552.4,596.7 2552.1,604.2 2552.9,600.3 2553.2,604.3 2553.5,603.9 2553.4,605.3 2554.1,605.7 2554.1,607.7 2554.4,608.2 2554.5,616.8 2554.1,611.9 2554.9,613.5 2555.2,618.1 2555.7,610.3 2555.1,619.8 2555.0,614.1 2556.4,615.8 2555.6,620.2 2556.6,621.0 2555.8,623.6 2556.1,623.7 2556.2,623.9 2556.6,626.7 2557.0,629.3 2555.9,626.6 2556.7,629.8 2557.3,630.0 2557.7,632.4 2557.5,625.9 2557.1,623.0 2557.6,625.6 2558.3,626.4 2558.4,623.7 2558.7,626.1 2559.1,624.7 2559.3,619.3 2559.0,617.8 2559.5,616.0 2560.3,618.2 2560.1,616.6 2560.0,615.5 2561.1,610.7 2561.0,611.4 2561.1,612.0 2561.5,607.4 2561.5,606.5 2561.6,604.9 2561.7,609.9 2562.4,604.1 2562.1,596.9 2562.1,600.7 2563.0,594.3 2562.6,600.4 2562.1,597.8 2562.0,599.1 2562.8,596.1 2563.1,595.6 2562.5,595.2 2563.5,591.9 2563.9,588.5 2563.5,590.3 2564.0,585.5 2564.2,586.0 2564.0,588.5 2564.4,580.8 2564.2,585.0 2564.5,582.7 2564.7,581.6 2564.2,580.4 2564.7,581.5 2565.8,574.8 2566.0,570.9 2567.2,574.0 2567.3,569.5 2567.7,576.1 2568.0,572.2 2568.5,570.4 2568.7,566.9 2569.5,565.8 2568.8,566.8 2570.2,566.6 2569.8,564.1 2570.7,563.5 2570.7,563.2 2570.3,559.0 2570.7,558.3 2572.0,557.0 2572.1,552.6 2572.2,555.5 2573.1,554.2 2573.0,553.7 2573.4,550.5 2573.6,551.5 2574.3,552.6 2574.8,548.9 2574.5,545.1 2575.5,545.8 2575.9,544.3 2576.6,539.7 2576.6,542.4 2577.1,545.6 2577.6,539.7 2577.0,540.9 2578.5,537.6 2578.2,535.8 2578.4,532.0 2579.0,532.1 2578.8,529.0 2579.2,531.1 2579.6,529.4 2579.9,527.7 2580.8,530.0 2580.5,525.9 2581.4,524.3 2581.2,524.9 2581.9,522.4 2581.2,521.4 2581.5,520.7 2582.9,522.6 2582.6,520.2 2583.3,514.8 2583.4,514.5 2583.5,517.3 2583.7,514.9 2583.7,510.5 2583.4,505.6 2584.4,510.5 2584.7,504.3 2584.3,507.6 2584.4,505.3 2584.6,509.1 2586.3,502.0 2584.7,499.5 2585.1,503.3 2585.5,498.2 2586.2,497.0 2585.9,498.8 2586.2,494.4 2586.5,490.4 2586.7,491.3 2586.3,490.0 2586.8,490.6 2587.4,489.9 2587.1,488.4 2587.3,487.9 2587.5,486.4 2587.2,482.5 2587.7,480.2 2587.3,490.3 2587.5,480.6 2587.8,477.5 2588.1,476.3 2587.9,481.1 2588.1,471.3 2587.8,474.6 2588.1,472.8 2588.4,471.4 2587.8,472.9 2588.5,469.2 2588.9,473.3 2589.3,467.0 2588.2,468.1 2589.2,468.1 2589.0,464.6 2588.8,458.1 2588.9,462.4 2589.0,467.2 2588.5,468.1 2588.7,468.3 2589.4,464.1 2589.3,467.0 2589.6,465.0 2589.3,469.8 2589.6,472.5 2590.1,470.9 2590.5,473.3 2589.6,472.5 2589.8,478.4 2590.3,475.9 2589.8,477.6 2589.6,479.7 2590.4,476.7 2590.0,482.8 2590.4,483.0 2590.3,482.6 2590.7,486.0 2590.4,492.9 2590.8,488.4 2590.8,493.8 2590.8,489.7 2591.1,487.5 2590.9,495.8 2591.3,495.5 2591.5,498.8 2592.0,501.2 2590.9,499.0 2591.7,498.1 2592.1,503.2 2591.3,504.1 2592.1,497.3 2592.1,496.7 2592.0,505.3 2591.6,504.9 2592.1,502.5 2592.1,506.0 2592.5,506.3 2592.5,512.6 2592.8,504.5 2592.3,515.1 2592.7,512.6 2592.6,517.2 2592.8,515.9 2592.6,516.7 2593.1,522.6 2593.0,519.0 2593.0,522.3 2592.7,520.6 2593.1,524.5 2593.2,524.3 2593.0,524.7 2594.2,533.8 2593.7,531.4 2594.0,529.9 2593.5,531.2 2593.7,533.4 2594.5,533.5 2593.6,533.5 2594.0,536.9 2593.5,536.7 2594.6,540.9 2593.4,542.4 2593.9,541.1 2594.7,546.3 2593.8,539.7 2594.5,544.3 2594.5,541.4 2595.0,539.0 2594.7,536.8 2594.6,540.7 2595.0,540.9 2594.2,533.9 2593.9,533.8 2594.3,530.8 2594.7,533.9 2595.1,531.7 2595.1,535.6 2594.7,531.0 2595.3,525.9 2595.5,525.8 2596.1,523.1 2595.0,524.7 2594.9,523.5 2595.0,520.9 2595.9,523.6 2595.0,521.9 2595.7,514.0 2595.3,515.2 2595.4,518.0 2595.7,513.1 2596.2,513.4 2595.8,509.4 2596.5,513.5 2595.0,510.8 2595.4,504.7 2596.5,505.2 2595.9,508.4 2595.4,504.9 2596.4,503.0 2595.8,503.4 2595.9,506.2 2597.0,500.9 2596.8,498.7 2596.5,499.6 2596.3,500.1 2596.4,495.9 2595.5,493.5 2596.9,497.9 2596.3,495.7 2596.8,488.7 2597.1,489.4 2598.0,492.2 2596.5,492.4 2597.1,483.5 2597.1,483.0 2597.4,484.1 2596.9,482.1 2597.3,480.8 2596.4,482.9 2597.9,481.4 2597.6,474.5 2597.5,476.5 2598.1,480.5 2598.5,472.4 2597.9,469.9 2598.4,476.3 2598.0,466.0 2598.3,468.5 2598.0,472.8 2598.1,470.0 2598.8,465.9 2597.8,463.2 2598.5,459.8 2599.0,464.9 2598.6,460.2 2598.6,458.0 2598.3,458.1 2598.9,461.3 2600.2,454.8 2598.6,460.6 2599.1,455.2 2599.1,449.2 2599.7,450.4 2600.1,448.3 2599.3,452.7 2600.0,449.3 2599.9,451.7 2600.7,448.5 2600.1,444.6 2599.5,444.1 2599.4,444.1 2600.0,438.6 2600.2,441.8 2600.0,438.6 2600.1,437.4 2600.5,437.0 2599.5,439.5 2600.0,442.4 2600.3,448.2 2600.5,441.4 2601.2,441.4 2600.7,445.9 2601.2,445.0 2601.1,452.5 2601.1,447.2 2601.0,453.5 2601.4,448.6 2601.8,455.7 2600.9,458.3 2601.2,458.9 2601.9,465.3 2601.6,465.8 2600.9,466.3 2601.7,461.1 2601.5,463.0 2601.3,466.9 2601.4,461.8 2602.2,465.9 2601.9,468.4 2602.2,468.9 2600.6,470.9 2601.3,466.4 2602.4,472.7 2603.0,473.8 2603.2,470.6 2602.6,481.9 2602.0,483.2 2602.7,481.1 2603.3,481.9 2604.0,477.8 2603.9,485.0 2604.1,486.2 2604.2,484.7 2603.5,482.3 2604.7,493.7 2604.2,489.5 2604.0,488.5 2604.5,490.7 2604.1,489.8 2605.1,482.1 2605.2,488.9 2605.5,484.9 2605.0,483.8 2605.6,479.1 2605.9,481.2 2605.4,484.4 2606.1,480.4 2607.6,477.2 2606.0,476.5 2606.6,476.5 2606.7,473.9 2607.1,475.5 2607.8,471.2 2606.8,467.1 2606.8,470.0 2608.2,474.9 2607.4,468.4 2607.4,474.0 2607.6,464.4 2607.5,466.1 2608.1,464.1 2608.2,465.7 2608.5,460.6 2607.4,450.8 2608.2,459.8 2608.0,457.2 2608.1,459.1 2608.9,452.2 2609.1,452.6 2607.8,449.9 2608.5,450.2 2608.6,450.0 2608.1,447.7 2608.6,446.4 2609.2,444.4 2608.2,446.1 2608.7,448.4 2608.0,444.2 2608.4,437.2 2609.2,443.0 2609.5,440.5 2609.7,434.9 2609.6,438.5 2609.3,434.9 2609.4,428.1 2609.3,433.1 2609.6,425.4 2609.6,430.6 2609.6,429.0 2609.7,427.3 2609.9,426.1 2610.7,426.8 2609.1,425.2 2610.4,421.3 2610.3,420.8 2611.0,419.0 2609.7,422.5 2610.2,415.0 2609.7,416.9 2610.4,416.3 2610.7,411.7 2610.6,419.7 2610.7,415.3 2610.8,408.1 2610.8,412.4 2611.0,411.9 2610.9,401.9 2611.9,406.9 2612.2,406.4 2612.0,403.8 2611.7,399.9 2611.9,398.7 2611.8,401.9 2612.0,400.4 2611.9,398.2 2612.3,394.8 2611.4,390.0 2611.6,390.4 2611.9,393.9 2612.7,395.5 2612.0,389.0 2612.4,393.7 2613.1,386.4 2613.0,390.0 2613.0,392.0 2612.9,386.2 2613.0,383.6 2613.0,382.8 2613.2,381.7 2614.5,384.7 2613.5,382.1 2614.3,374.4 2613.8,374.4 2614.9,376.0 2615.1,376.0 2614.9,373.7 2615.6,371.6 2616.4,374.1 2615.6,374.9 2616.8,369.3 2616.5,369.1 2617.9,367.9 2618.3,372.5 2618.3,368.1 2618.6,373.4 2618.8,370.0 2617.9,373.1 2618.5,370.1 2618.5,376.3 2618.3,375.5 2618.9,375.2 2618.3,384.6 2618.3,378.8 2618.8,384.0 2618.3,386.7 2618.4,386.6 2619.1,386.7 2619.3,391.6 2618.8,388.5 2619.4,393.1 2618.7,388.3 2618.9,387.6 2619.2,394.9 2619.5,396.1 2619.5,408.2 2619.4,400.7 2619.2,397.1 2619.2,397.7 2620.4,398.6 2619.5,397.3 2619.6,398.6 2618.8,397.4 2619.8,404.5 2619.5,406.2 2619.8,403.9 2619.9,408.9 2620.4,408.6 2619.7,413.5 2620.0,413.6 2620.2,416.5 2620.6,417.4 2620.5,416.3 2620.6,407.8 2620.1,416.0 2620.2,413.5 2621.2,415.0 2621.1,417.0 2620.4,411.3 2621.3,404.3 2621.2,406.3 2621.1,408.6 2621.2,406.1 2620.3,401.8 2621.4,405.1 2622.0,405.1 2622.1,399.9 2621.6,400.5 2622.6,400.5 2622.2,399.9 2622.4,395.2 2623.1,391.2 2621.7,387.7 2621.7,395.7 2622.2,392.2 2621.7,386.3 2622.8,385.0 2622.4,379.7 2623.8,384.6 2622.7,382.3 2623.1,382.8 2623.7,383.6 2623.5,382.2 2623.4,382.5 2623.2,380.6 2623.4,373.0 2623.8,378.0 2623.7,377.1 2623.4,368.4 2623.9,374.5 2624.2,368.7 2623.8,369.1 2623.9,363.0 2623.6,365.2 2623.7,365.4 2624.7,365.5 2624.8,368.7 2624.3,363.8 2624.6,365.6 2623.6,360.8 2625.0,354.8 2624.2,357.4 2624.8,362.6 2624.7,349.6 2624.9,353.0 2624.7,356.4 2625.2,343.8 2624.6,349.6 2624.5,351.2 2625.6,348.4 2626.0,344.5 2625.3,348.6 2626.1,346.5 2625.3,341.6 2626.1,346.5 2625.5,336.3 2625.3,336.2 2626.0,337.9 2626.0,335.9 2626.0,336.1 2626.0,334.4 2626.5,330.1 2626.6,333.7 2626.1,328.4 2626.8,332.9 2625.8,333.8 2626.0,324.4 2627.2,328.6 2627.1,328.7 2626.5,317.1 2626.8,327.6 2627.4,316.4 2627.2,317.5 2626.5,318.9 2626.5,320.0 2628.1,318.0 2627.6,317.2 2628.1,315.9 2628.1,311.6 2627.8,310.0 2627.5,315.7 2628.0,304.8 2627.4,305.2 2628.3,310.6 2628.1,303.9 2627.7,304.6 2627.6,300.7 2628.0,303.2 2628.0,297.3 2628.1,296.1 2628.8,298.1 2628.7,297.2 2629.8,293.9 2628.5,297.0 2630.2,295.6 2629.7,302.4 2629.2,301.6 2629.8,304.4 2628.7,310.8 2629.5,305.7 2630.0,312.0 2628.8,312.5 2630.0,312.7 2629.4,313.6 2630.1,308.6 2631.0,314.4 2630.0,319.3 2630.1,309.8 2629.9,317.0 2632.5,317.3 2631.2,321.6 2630.9,323.6 2631.9,324.7 2631.6,323.3 2630.9,326.0 2632.3,321.0 2632.1,322.9 2632.0,328.5 2632.3,329.4 2632.3,331.5 2633.0,336.0 2632.9,332.3 2633.4,338.9 2633.9,331.5 2633.3,330.8 2632.9,341.4 2633.9,345.7 2634.3,333.1 2635.0,342.4 2634.7,340.8 2634.7,349.4 2634.6,344.5 2635.0,344.4 2635.5,350.4 2635.5,347.7 2635.3,349.3 2635.0,351.5 2635.9,351.3 2634.7,355.0 2635.4,353.8 2636.2,356.2 2635.8,358.9 2637.0,353.9 2635.8,357.6 2635.9,360.7 2636.0,361.0 2636.8,364.9 2636.6,363.3 2635.9,369.5 2637.7,366.1 2636.7,366.5 2636.7,365.2 2636.6,364.8 2637.0,370.9 2637.2,371.6 2637.4,369.8 2637.0,375.0 2637.1,377.1 2638.0,377.2 2637.9,374.7 2637.5,374.8 2637.5,380.8 2638.8,382.4 2638.0,387.0 2637.9,384.3 2638.5,386.9 2638.1,382.7 2637.8,385.5 2638.8,385.5 2639.0,388.0 2639.1,385.6 2638.9,394.0 2638.4,393.1 2639.1,394.0 2638.9,395.7 2639.2,404.4 2638.4,400.3 2638.5,396.3 2639.1,405.7 2638.6,402.4 2639.5,401.3 2639.3,410.3 2639.0,412.0 2639.7,404.4 2639.9,409.7 2639.4,412.9 2639.7,410.7 2639.3,415.2 2640.2,412.4 2638.9,410.5 2640.4,415.7 2640.0,415.2 2639.6,414.6 2640.2,416.2 2638.8,417.6 2638.9,425.3 2640.3,421.9 2640.3,423.2 2639.8,417.2 2639.1,428.6 2639.9,423.4 2640.8,425.1 2640.2,427.6 2640.5,429.3 2639.4,431.9 2640.5,429.2 2639.7,436.9 2640.1,432.5 2640.2,432.3 2639.6,440.1 2639.9,436.5 2640.3,439.3 2640.9,438.7 2639.9,447.1 2639.4,442.5 2639.9,444.5 2639.8,447.7 2639.7,447.4 2640.5,448.7 2639.7,449.5 2640.1,451.3 2639.8,451.2 2639.3,449.3 2640.9,453.6 2640.4,455.9 2640.5,448.6 2639.9,453.5 2640.3,457.8 2640.4,463.0 2640.2,462.7 2639.8,464.4 2640.5,461.2 2640.3,459.9 2640.3,466.4 2640.3,466.2 2640.2,469.8 2640.5,469.4 2640.6,470.1 2641.0,469.9 2641.0,470.8 2641.4,470.3 2640.2,469.4 2640.1,473.2 2640.2,476.6 2641.2,485.6 2641.5,476.7 2640.6,487.7 2640.7,480.3 2640.5,487.4 2640.6,491.5 2639.9,485.8 2640.7,485.7 2640.1,486.1 2641.3,492.1 2640.9,490.7 2640.4,494.9 2640.7,499.4 2641.7,492.7 2641.1,495.8 2641.1,494.0 2641.2,493.0 2641.8,496.4 2641.2,498.6 2641.3,506.5 2641.5,504.8 2642.2,503.0 2641.1,507.6 2641.5,506.6 2642.3,508.3 2642.1,511.7 2641.3,510.4 2641.3,508.6 2642.1,510.3 2642.0,508.4 2642.4,513.3 2642.1,518.0 2641.9,511.5 2642.8,521.5 2641.9,517.2 2642.9,524.5 2642.2,521.7 2641.9,522.8 2642.6,525.1 2642.5,523.2 2642.2,526.3 2641.7,527.0 2642.3,529.1 2642.3,528.7 2642.3,531.1 2642.5,529.8 2643.0,532.9 2642.3,536.4 2642.5,536.0 2643.6,536.8 2642.4,540.8 2643.0,538.6 2643.0,536.3 2643.1,541.5 2643.2,546.1 2642.9,546.9 2643.2,544.5 2643.0,550.9 2643.2,545.7 2643.7,550.9 2643.4,551.5 2643.4,550.6 2643.9,556.1 2643.8,556.1 2643.8,554.1 2643.5,558.9 2643.9,558.5 2644.0,560.4 2644.3,559.9 2643.4,561.9 2643.9,563.3 2644.2,564.3 2643.1,560.2 2643.9,561.4 2644.4,559.2 2643.2,555.1 2644.6,559.5 2644.2,558.0 2644.0,553.7 2645.1,549.3 2644.2,549.4 2644.1,546.0 2644.5,547.6 2643.7,549.0 2644.1,549.2 2644.8,539.7 2644.6,550.8 2644.7,539.1 2645.3,539.1 2644.9,539.3 2644.7,536.6 2644.3,540.1 2644.5,535.7 2644.1,532.0 2644.5,539.4 2645.2,532.1 2645.8,531.8 2644.6,533.4 2645.3,526.1 2645.5,529.1 2644.7,529.8 2645.5,525.0 2645.5,527.4 2645.2,525.1 2644.7,521.0 2645.4,519.6 2645.3,525.3 2645.7,514.6 2645.3,513.4 2646.1,517.4 2645.6,514.3 2645.4,511.5 2645.7,514.8 2645.7,511.7 2646.4,508.0 2645.6,508.9 2646.0,513.0 2646.6,509.2 2646.4,507.6 2645.3,510.9 2646.3,503.9 2646.1,496.6 2646.5,504.6 2646.7,498.1 2645.7,497.0 2646.8,499.5 2646.3,496.4 2646.0,492.6 2646.4,490.8 2646.6,495.4 2646.5,490.7 2646.8,488.9 2646.8,490.5 2647.1,488.0 2646.3,481.7 2647.0,483.9 2647.2,487.6 2646.9,481.9 2647.3,482.4 2647.3,484.2 2647.3,480.2 2647.9,480.5 2647.6,474.8 2648.3,477.3 2647.6,473.8 2647.6,472.3 2647.9,470.5 2648.7,471.8 2648.0,466.1 2648.5,469.4 2648.0,464.2 2648.8,464.8 2648.4,464.7 2648.8,468.5 2648.0,466.7 2648.8,463.6 2649.4,467.9 2649.3,469.2 2649.9,477.3 2648.8,475.0 2649.7,477.2 2649.7,472.3 2650.2,477.2 2650.1,476.7 2649.8,480.3 2650.2,477.6 2650.5,482.3 2651.3,480.4 2650.9,483.4 2651.6,483.3 2650.9,488.3 2652.2,487.1 2652.4,491.0 2652.5,488.3 2652.1,490.7 2652.2,494.2 2652.9,492.9 2653.8,489.1 2652.8,495.1 2654.1,498.0 2655.8,492.7 2656.2,496.9 2656.1,491.1 2655.7,492.3 2657.0,492.9 2658.1,497.9 2657.7,494.4 2657.9,492.6 2659.2,494.5 2659.3,490.6 2658.9,490.9 2659.8,483.9 2659.6,490.1 2661.1,485.4 2661.3,485.0 2661.4,483.3 2662.1,487.0 2661.9,484.0 2661.4,486.0 2661.0,488.5 2661.9,497.6 2663.1,493.6 2663.5,491.9 2662.6,490.1 2663.1,497.5 2662.8,495.0 2662.3,495.4 2663.7,492.7 2663.3,493.0 2663.2,489.2 2663.5,485.8 2663.9,487.8 2664.1,488.2 2664.5,481.7 2664.4,483.6 2665.1,484.7 2664.7,477.4 2664.7,481.9 2665.2,479.0 2665.1,477.7 2665.1,471.3 2666.1,472.8 2665.0,477.4 2665.3,472.2 2665.0,472.0 2665.7,468.9 2665.1,468.3 2665.2,470.4 2665.9,466.6 2665.7,467.2 2665.1,464.9 2665.6,462.1 2665.9,459.2 2665.6,465.5 2665.8,463.6 2665.8,460.4 2665.9,460.7 2665.0,451.9 2666.0,455.9 2665.7,453.8 2666.3,448.4 2665.1,451.1 2666.0,448.6 2666.4,450.9 2666.1,453.6 2665.5,446.7 2666.3,440.5 2666.8,444.7 2666.4,439.8 2667.1,441.2 2666.5,437.4 2666.8,442.8 2666.4,439.4 2665.8,438.8 2666.5,444.4 2666.6,436.6 2666.9,431.7 2667.2,433.3 2666.5,434.4 2666.8,428.1 2666.8,425.2 2667.4,420.4 2666.4,432.1 2666.7,428.0 2666.5,422.8 2666.6,422.6 2666.6,425.3 2667.2,421.4 2666.9,419.0 2667.6,415.1 2667.4,417.7 2668.4,416.1 2668.5,416.0 2668.8,415.0 2668.8,416.6 2668.5,421.2 2669.4,420.2 2668.0,423.5 2668.8,421.8 2669.1,423.9 2669.2,430.6 2669.3,426.2 2669.5,428.0 2669.0,428.5 2668.8,436.3 2669.9,435.2 2669.3,428.7 2669.8,433.2 2669.7,434.9 2668.6,437.1 2669.8,437.0 2669.7,434.2 2670.1,434.4 2669.9,430.2 2670.4,434.5 2669.9,428.5 2670.2,434.4 2670.4,429.5 2670.1,424.9 2670.3,426.4 2671.0,426.1 2670.2,422.0 2670.1,425.8 2670.9,422.8 2671.4,423.0 2671.1,414.5 2670.3,418.4 2670.8,414.3 2671.0,416.0 2671.6,414.6 2671.3,416.5 2671.3,413.0 2672.6,418.0 2672.3,417.8 2672.4,422.4 2672.2,415.1 2672.8,422.5 2673.4,422.3 2672.9,423.2 2672.2,427.4 2672.6,427.0 2673.0,427.1 2671.3,426.7 2672.6,430.3 2673.4,433.0 2672.7,432.1 2672.8,438.5 2672.6,443.0 2673.3,430.1 2673.4,433.6 2673.4,440.7 2673.4,443.7 2673.1,450.8 2673.0,444.3 2673.3,442.5 2673.0,443.0 2673.8,447.1 2673.3,449.1 2673.4,449.3 2673.5,450.0 2673.8,447.9 2673.9,448.0 2673.2,444.8 2673.5,443.0 2673.5,438.8 2673.7,444.7 2673.4,443.0 2673.9,438.1 2673.4,441.9 2673.9,441.6 2673.7,435.5 2674.0,443.1 2674.1,434.3 2673.7,436.7 2674.0,434.1 2673.4,430.2 2674.4,430.8 2674.0,423.5 2674.0,427.9 2674.9,418.8 2673.8,423.8 2674.6,417.6 2674.4,419.0 2674.5,421.0 2675.2,421.0 2675.3,424.2 2675.5,425.0 2675.2,428.3 2676.1,431.2 2675.0,433.0 2676.0,434.3 2675.7,426.7 2676.5,434.9 2675.6,431.8 2675.7,433.4 2676.0,437.1 2676.1,434.6 2676.2,435.2 2675.2,440.8 2676.1,440.3 2676.1,439.0 2675.8,443.2 2675.8,443.5 2676.9,442.2 2675.7,448.1 2675.2,449.6 2676.0,448.3 2676.6,452.1 2676.3,452.4 2676.3,449.7 2676.6,459.6 2675.8,456.1 2676.1,458.6 2676.3,455.3 2675.9,461.4 2677.0,463.6 2676.8,460.5 2677.2,460.9 2676.4,462.3 2676.4,465.8 2676.0,462.9 2677.0,468.8 2676.2,468.4 2676.5,472.9 2676.8,470.0 2676.2,470.2 2676.5,472.0 2676.1,474.0 2676.2,473.4 2676.7,480.4 2675.8,475.7 2676.5,486.9 2677.3,481.9 2676.4,484.4 2676.0,481.2 2676.8,481.8 2677.2,482.6 2677.2,484.5 2677.0,487.9 2677.7,487.7 2676.8,490.0 2676.4,490.7 2676.6,482.5 2676.3,489.8 2676.6,481.3 2676.7,481.7 2676.9,477.0 2677.0,482.6 2677.6,486.0 2677.2,476.4 2676.6,474.3 2676.2,474.3 2677.6,475.4 2677.3,475.6 2677.8,473.9 2677.2,477.0 2677.2,471.5 2677.1,471.9 2677.2,470.0 2677.2,465.9 2677.0,469.6 2677.6,465.9 2678.2,459.2 2677.4,461.6 2677.0,458.6 2677.9,457.7 2677.2,458.7 2677.7,457.4 2677.2,460.9 2677.9,454.0 2677.6,450.9 2678.1,454.9 2676.6,449.6 2677.4,444.1 2676.5,455.4 2677.9,448.1 2678.9,443.8 2677.9,444.2 2678.1,444.8 2677.4,442.4 2678.5,442.7 2677.9,437.9 2678.0,440.0 2678.1,438.6 2678.0,438.4 2678.2,437.1 2679.3,433.1 2678.4,430.7 2679.8,433.4 2679.5,432.0 2680.1,434.8 2681.1,433.6 2680.9,437.4 2681.5,436.0 2681.6,435.2 2681.7,436.3 2682.1,440.1 2681.5,440.6 2683.0,440.9 2682.1,446.0 2682.8,442.5 2682.4,444.0 2682.6,447.0 2682.5,450.2 2683.2,447.9 2682.1,455.9 2683.3,451.3 2683.2,456.1 2682.9,457.2 2683.4,454.4 2683.2,454.9 2683.1,454.4 2683.3,459.9 2682.6,461.0 2682.8,461.4 2683.3,466.4 2683.6,465.3 2684.3,465.0 2683.8,466.0 2684.2,466.9 2684.1,469.0 2684.0,473.3 2685.2,473.6 2685.3,479.9 2685.6,475.6 2686.2,475.4 2686.0,476.0 2685.9,473.7 2685.6,471.2 2686.3,469.3 2686.2,471.1 2686.6,473.1 2687.1,468.0 2686.9,468.3 2686.2,464.6 2686.8,465.5 2686.8,461.3 2687.3,465.7 2688.0,466.6 2687.2,459.5 2687.8,461.9 2687.4,456.5 2688.0,458.1 2687.7,458.4 2687.3,457.6 2688.1,451.5 2688.1,448.9 2688.5,449.3 2688.4,450.0 2689.1,450.1 2689.5,449.5 2689.6,450.0 2690.3,452.5 2690.8,452.0 2691.0,455.8 2691.5,452.8 2691.6,463.9 2691.0,449.9 2691.4,460.3 2692.1,462.4 2691.9,456.9 2690.8,456.7 2691.5,461.4 2691.0,467.0 2691.0,465.6 2692.0,467.6 2691.8,467.4 2691.5,469.7 2691.9,470.8 2692.2,474.4 2691.9,472.1 2692.0,471.3 2692.4,470.7 2692.8,475.0 2692.3,473.1 2693.7,480.4 2692.5,471.6 2692.2,479.6 2692.8,481.1 2693.4,485.4 2693.0,484.0 2692.7,487.4 2692.8,479.5 2693.0,477.8 2693.7,477.3 2693.7,475.9 2694.6,478.0 2693.6,473.8 2694.0,476.6 2693.8,470.5 2694.3,477.2 2693.9,469.1 2693.7,471.1 2694.1,468.5 2694.1,468.1 2693.8,471.1 2694.2,466.1 2693.7,464.3 2694.7,463.2 2694.3,455.3 2694.5,455.4 2695.3,459.0 2695.2,458.2 2695.0,456.5 2694.9,460.0 2696.1,451.1 2695.9,452.3 2694.7,448.2 2695.7,449.6 2695.4,449.0 2695.4,451.1 2695.3,448.5 2695.7,452.9 2696.3,454.5 2696.1,457.0 2697.5,452.6 2697.6,457.1 2697.8,458.0 2698.3,464.9 2698.3,458.4 2698.8,459.7 2698.1,459.5 2698.6,466.2 2698.7,463.9 2698.3,468.2 2698.8,466.6 2699.2,467.3 2699.1,468.8 2699.5,472.2 2698.8,471.3 2698.5,478.3 2699.9,471.4 2700.1,475.1 2700.0,478.3 2700.0,478.0 2699.4,478.3 2699.8,471.4 2700.3,475.1 2700.9,468.5 2700.6,472.8 2700.4,464.6 2700.3,472.8 2700.4,466.1 2700.9,464.0 2700.3,462.3 2700.9,468.6 2701.6,463.9 2701.0,464.3 2701.5,460.1 2701.6,457.2 2702.2,459.5 2701.9,457.3 2702.2,453.8 2702.2,456.6 2701.4,457.4 2701.9,450.7 2702.4,452.0 2702.8,453.6 2703.3,455.1 2703.6,457.5 2703.6,458.1 2703.6,460.1 2704.1,459.8 2704.7,460.0 2704.9,460.5 2705.4,462.4 2705.9,465.4 2705.2,467.1 2706.2,463.4 2706.4,465.5 2706.2,469.8 2707.7,474.6 2706.9,472.8 2706.9,468.7 2707.1,474.3 2707.0,475.0 2707.2,474.5 2707.2,475.2 2707.9,469.1 2708.2,472.7 2707.3,466.6 2707.7,465.5 2708.3,468.3 2708.2,467.7 2707.9,466.4 2708.2,466.6 2708.7,460.5 2709.4,460.0 2709.6,457.2 2709.9,464.4 2710.0,463.8 2710.0,464.8 2710.4,467.4 2710.9,467.0 2710.5,467.8 2710.9,467.8 2710.5,471.3 2710.7,468.3 2711.3,469.3 2711.0,478.0 2711.4,474.5 2711.7,477.0 2711.5,478.6 2712.1,478.7 2713.0,479.1 2713.5,483.7 2714.0,482.0 2714.9,482.8 2715.1,482.2 2715.3,479.3 2716.1,487.0 2716.4,488.0 2716.9,490.0 2717.0,484.6 2716.5,483.8 2717.6,485.1 2716.9,484.8 2717.6,481.4 2716.3,476.6 2716.7,479.0 2717.0,475.3 2717.8,476.2 2717.4,470.7 2717.9,474.4 2717.6,476.7 2718.6,474.0 2718.5,470.0 2718.7,467.1 2719.0,467.3 2718.3,467.4 2719.2,468.4 2718.7,460.8 2718.4,462.7 2718.8,469.2 2719.2,462.0 2718.5,463.7 2719.4,459.4 2718.4,456.8 2719.0,454.5 2719.9,452.1 2719.6,449.2 2719.3,453.1 2718.7,453.6 2719.9,448.5 2719.2,450.4 2719.6,450.6 2719.0,446.4 2719.5,445.0 2719.7,439.2 2719.2,443.3 2719.2,435.6 2719.1,445.4 2719.7,439.0 2719.4,437.2 2720.4,436.4 2720.2,428.5 2720.1,436.5 2719.8,426.6 2720.2,434.5 2719.9,430.5 2721.1,426.9 2719.4,425.9 2721.4,427.2 2720.0,428.1 2721.5,425.0 2721.3,423.4 2720.7,423.7 2720.9,420.2 2720.9,420.0 2721.6,421.3 2722.0,413.1 2722.4,419.1 2722.7,419.8 2723.3,418.6 2723.4,411.9 2723.8,417.5 2724.7,412.6 2725.2,415.8 2724.8,420.3 2725.4,417.9 2726.3,416.9 2725.9,420.0 2727.3,419.6 2727.2,418.2 2728.8,421.5 2728.4,423.7 2728.9,427.2 2728.5,417.4 2728.7,416.1 2729.6,417.1 2728.7,418.0 2729.0,414.5 2728.9,414.6 2728.9,418.3 2729.0,410.8 2729.4,408.1 2729.4,409.0 2729.8,414.1 2729.7,408.4 2729.5,409.4 2729.7,406.1 2730.0,402.2 2729.4,400.6 2729.8,403.0 2730.1,400.4 2730.3,400.1 2730.8,402.6 2730.1,393.4 2730.4,392.1 2729.9,392.4 2730.4,400.3 2730.6,387.6 2730.0,386.7 2730.8,393.3 2730.9,392.1 2731.2,385.6 2731.8,388.0 2731.4,385.8 2731.3,381.4 2730.9,381.2 2731.0,382.6 2731.9,383.2 2731.8,375.5 2731.7,377.4 2731.7,377.8 2731.9,378.6 2732.7,377.9 2732.5,371.1 2732.1,371.6 2732.8,365.5 2733.0,373.3 2733.2,375.9 2734.3,369.3 2734.8,368.5 2734.2,361.7 2734.9,373.4 2735.8,371.6 2736.3,369.6 2736.2,368.4 2736.8,369.2 2736.7,369.7 2737.2,369.5 2737.6,365.9 2737.7,363.8 2737.3,361.8 2737.6,360.5 2737.9,359.9 2737.7,362.7 2738.9,360.7 2738.7,360.3 2739.3,356.5 2739.2,351.9 2739.5,353.0 2740.1,346.9 2739.1,352.6 2739.7,350.6 2739.5,349.7 2740.2,346.7 2739.9,348.2 2739.9,341.8 2739.8,343.8 2740.2,346.7 2740.8,340.3 2740.4,342.4 2740.7,339.2 2741.5,337.4 2741.0,332.3 2740.7,332.4 2742.1,333.7 2740.6,332.6 2741.3,332.6 2741.1,329.4 2740.8,330.5 2740.8,329.2 2741.1,323.6 2741.7,332.0 2741.1,328.1 2741.2,328.7 2742.1,317.3 2742.0,324.5 2742.7,319.8 2742.9,321.6 2742.7,318.3 2742.4,316.0 2741.8,308.4 2742.7,311.8 2743.4,310.4 2743.7,309.2 2743.1,312.8 2743.3,308.4 2743.9,308.4 2744.3,305.0 2744.4,302.9 2745.3,301.2 2744.9,306.9 2745.9,304.4 2746.5,300.1 2746.9,301.5 2747.1,295.7 2748.0,298.0 2748.4,297.7 2748.8,297.2 2749.0,294.6 2750.8,292.2 2751.3,300.7 2752.1,291.7 2751.2,292.6 2751.6,296.1 2752.0,293.3 2751.5,285.6 2751.6,288.0 2751.1,286.3 2751.7,290.1 2752.1,286.4 2751.3,280.0 2751.7,285.3 2752.2,276.0 2752.3,279.7 2752.5,278.4 2752.7,276.0 2752.3,277.5 2752.2,274.7 2752.1,271.7 2751.8,275.1 2752.3,270.0 2753.3,271.2 2753.1,266.3 2752.4,263.3 2752.7,265.3 2752.6,259.7 2753.3,266.4 2752.9,263.1 2752.8,260.8 2752.6,262.8 2753.0,259.1 2752.8,252.5 2752.6,261.8 2751.9,257.4 2752.9,255.7 2753.4,249.1 2752.9,254.8 2752.3,250.5 2752.8,250.0 2753.4,252.8 2753.3,243.5 2753.2,244.3 2753.7,245.5 2753.7,247.4 2753.8,242.9 2753.9,240.9 2753.8,237.2 2753.9,243.2 2754.2,240.4 2753.5,235.0 2754.1,233.0 2754.2,232.8 2753.9,231.6 2753.4,229.6 2753.6,234.3 2753.7,226.6 2753.2,224.0 2753.0,233.5 2754.2,225.3 2754.5,223.8 2754.1,220.4 2754.6,223.0 2754.2,217.8 2754.9,224.3 2754.1,220.5 2754.8,216.4 2753.7,211.2 2754.2,215.5 2754.9,217.1 2754.2,215.4 2753.6,205.3 2754.6,210.3 2754.9,214.7 2754.4,207.7 2753.8,207.7 2755.0,203.9 2754.1,203.6 2755.3,205.8 2754.1,194.6 2754.5,196.3 2754.7,196.8 2755.7,193.3 2754.3,192.0 2754.9,195.8 2755.4,197.5 2755.1,200.3 2755.8,200.7 2756.6,201.7 2755.3,204.7 2756.5,206.0 2756.3,206.9 2756.2,206.2 2756.3,206.1 2757.2,202.9 2756.9,206.1 2757.2,209.3 2758.6,207.0 2758.7,216.1 2757.9,216.1 2758.6,214.4 2759.1,215.8 2758.8,215.1 2759.2,210.1 2758.6,209.1 2760.0,214.1 2759.9,205.9 2759.4,208.3 2760.4,198.3 2760.2,199.8 2760.3,203.8 2761.2,197.1 2760.5,199.5 2760.1,198.6 2762.9,199.8 2762.0,202.1 2763.1,201.0 2762.9,199.5 2763.8,187.3 2763.8,194.4 2764.2,195.8 2764.8,197.0 2764.5,197.3 2764.6,192.7 2764.0,194.1 2764.6,191.8 2764.7,190.8 2765.9,185.6 2765.5,187.6 2765.2,186.0 2764.8,187.3 2764.9,183.6 2765.4,179.7 2765.8,181.5 2765.8,179.1 2766.0,176.3 2766.0,177.2 2765.4,170.9 2766.0,177.2 2765.6,182.5 2766.4,172.6 2766.9,170.2 2766.9,174.1 2766.8,168.2 2767.1,170.9 2766.9,169.3 2768.7,162.1 2768.0,158.0 2766.5,161.0 2767.6,160.2 2767.5,160.5 2767.9,154.1 2767.4,159.0 2767.9,156.7 2768.1,164.8 2767.9,157.8 2767.9,162.4 2767.9,169.1 2768.2,165.7 2767.6,165.6 2768.5,162.0 2768.3,169.0 2769.1,166.8 2769.6,168.4 2769.7,166.6 2769.8,173.3 2770.6,178.6 2769.8,173.5 2770.3,169.8 2769.7,175.6 2770.1,175.7 2770.5,179.2 2770.4,176.7 2771.5,178.1 2771.2,183.5 2771.1,178.6 2771.3,183.0 2771.5,191.2 2771.4,187.3 2772.0,186.0 2772.9,188.8 2772.3,188.3 2772.5,197.8 2772.7,197.8 2772.8,194.6 2772.7,197.2 2773.5,195.8 2773.2,188.9 2773.8,196.9 2774.1,197.8 2774.2,211.8 2774.0,202.1 2773.3,204.0 2774.7,199.0 2774.2,210.8 2774.5,201.9 2774.8,206.8 2774.9,208.7 2774.7,215.9 2774.6,212.4 2775.1,207.2 2774.3,220.6 2775.5,214.0 2775.7,215.4 2775.1,215.2 2775.5,213.7 2775.5,225.2 2775.9,219.3 2776.3,220.8 2774.7,225.2 2775.7,223.4 2775.5,228.5 2776.1,227.3 2775.9,227.8 2777.3,232.1 2776.6,233.0 2776.6,231.0 2778.1,229.5 2776.6,234.0 2776.6,239.7 2777.2,236.7 2777.5,234.4 2778.2,231.7 2777.8,236.1 2777.1,230.7 2778.1,230.3 2778.2,229.5 2778.5,233.2 2779.2,228.2 2779.9,227.3 2778.6,228.1 2779.9,227.4 2779.5,216.1 2780.1,222.5 2780.3,223.0 2780.1,221.2 2780.1,214.0 2780.4,219.2 2780.2,224.0 2780.9,214.4 2780.9,223.3 2782.1,221.8 2781.6,220.9 2782.6,222.9 2781.3,220.8 2782.5,220.3 2782.1,222.7 2782.4,223.0 2782.9,218.0 2782.8,226.4 2783.7,229.5 2783.4,225.0 2784.0,229.3 2783.3,231.8 2783.4,228.1 2783.5,232.5 2784.3,237.1 2785.2,238.3 2784.7,236.7 2784.6,243.7 2785.9,234.2 2785.2,234.4 2786.8,234.1 2787.2,234.5 2786.6,225.5 2787.4,230.2 2788.4,229.3 2789.1,229.2 2788.5,235.4 2789.8,233.5 2788.9,233.4 2789.2,232.8 2790.0,230.4 2790.4,237.8 2790.0,237.2 2790.0,240.1 2790.6,247.7 2790.9,240.4 2790.6,240.0 2791.3,246.7 2790.4,246.3 2791.0,251.6 2791.8,244.6 2792.0,248.0 2792.3,243.3 2792.1,251.6 2792.3,251.2 2792.0,253.2 2792.0,253.8 2792.0,259.4 2791.8,255.2 2792.3,256.1 2792.6,265.1 2792.5,264.5 2791.7,263.4 2792.1,267.2 2792.9,263.9 2792.9,264.6 2792.9,268.8 2792.6,278.8 2792.7,266.3 2792.1,275.6 2792.5,271.4 2792.8,270.8 2793.0,270.9 2793.0,275.6 2793.4,278.6 2792.4,279.2 2793.3,281.6 2794.3,284.4 2793.6,279.6 2793.6,278.4 2793.8,285.5 2793.5,286.5 2793.2,286.6 2793.2,287.5 2792.6,285.6 2794.1,293.0 2793.4,288.5 2794.2,288.9 2793.9,302.2 2794.2,294.9 2794.0,296.3 2794.9,296.3 2794.9,302.0 2795.4,300.6 2795.2,300.6 2794.7,302.0 2795.1,297.8 2794.9,302.7 2795.5,302.3 2796.5,304.5 2796.5,317.5 2796.9,311.7 2797.2,318.2 2797.1,314.7 2798.1,313.2 2797.5,312.8 2797.7,314.9 2797.6,321.6 2798.2,311.7 2797.7,317.1 2798.1,321.7 2799.2,313.1 2798.7,324.0 2798.2,320.3 2798.8,327.3 2799.1,323.4 2799.3,330.2 2798.6,324.5 2798.5,333.8 2798.4,334.6 2799.5,333.9 2799.5,335.0 2799.5,327.0 2799.0,328.4 2799.3,340.4 2800.2,333.1 2799.5,337.4 2799.5,340.8 2800.0,340.9 2800.4,340.9 2799.1,347.3 2800.8,340.3 2799.9,344.1 2800.6,346.0 2801.0,352.2 2800.7,348.5 2801.3,346.8 2801.8,358.1 2800.9,350.1 2801.9,351.7 2801.4,355.8 2802.3,353.0 2802.0,351.9 2801.5,353.4 2801.3,345.9 2801.3,353.3 2801.8,350.8 2801.7,351.7 2801.6,346.9 2802.3,346.3 2801.5,341.4 2802.8,346.4 2802.5,345.1 2801.3,336.0 2801.4,340.9 2802.3,335.9 2802.1,332.5 2802.3,340.8 2802.1,330.8 2802.4,334.6 2802.7,335.2 2801.4,326.3 2802.5,330.6 2802.0,331.0 2802.5,327.3 2803.0,322.6 2803.3,323.6 2803.1,327.3 2802.6,316.5 2802.2,324.9 2802.9,316.0 2803.3,318.1 2803.1,315.7 2802.7,317.6 2803.1,307.9 2803.6,316.0 2803.0,312.0 2803.0,313.6 2802.1,313.4 2803.4,311.8 2803.3,307.4 2802.7,305.8 2803.5,302.0 2804.4,299.2 2803.6,298.8 2803.6,298.6 2803.7,302.5 2804.3,301.2 2802.7,296.2 2803.3,295.1 2803.1,293.9 2803.6,293.9 2804.7,293.6 2803.3,289.1 2804.3,285.8 2803.6,289.5 2803.7,288.9 2803.2,288.7 2803.3,274.5 2804.3,285.5 2803.7,283.0 2804.1,284.6 2803.9,279.9 2803.7,282.5 2804.3,277.7 2804.5,282.0 2803.7,273.6 2803.8,275.5 2804.6,274.7 2803.9,270.3 2804.7,270.1 2804.9,271.3 2804.4,272.9 2804.5,270.1 2804.8,269.5 2804.6,271.4 2803.8,268.0 2804.9,262.7 2804.5,264.3 2805.1,258.8 2804.2,272.7 2805.1,256.8 2805.1,259.6 2805.3,254.3 2806.0,252.1 2805.3,258.9 2804.9,251.7 2805.1,251.6 2804.9,245.3 2804.6,254.1 2805.7,251.7 2805.8,248.3 2805.6,247.6 2804.6,243.0 2806.1,242.8 2805.0,238.8 2805.8,242.5 2805.6,246.9 2805.7,241.1 2806.6,235.1 2806.5,238.2 2805.8,235.5 2806.3,238.7 2806.9,229.6 2806.5,233.7 2806.1,232.5 2807.3,225.1 2806.8,228.9 2806.1,226.6 2807.0,225.6 2806.4,222.6 2808.0,229.7 2806.3,231.3 2807.9,231.1 2807.5,233.2 2809.2,230.3 2808.7,231.7 2810.0,239.9 2810.1,239.6 2810.2,237.8 2810.5,237.7 2810.7,240.5 2811.5,239.9 2811.9,233.5 2811.8,237.2 2812.1,239.0 2812.9,231.6 2813.1,235.9 2814.4,236.2 2814.4,233.0 2815.2,228.7 2814.9,228.6 2815.7,227.6 2815.4,228.6 2815.8,227.8 2816.9,225.9 2817.1,225.1 2818.8,217.6 2818.1,221.9 2818.9,224.0 2818.1,221.3 2819.8,224.3 2820.4,218.2 2820.7,224.7 2822.4,225.6 2821.5,222.7 2821.9,225.6 2821.8,225.0 2822.1,227.0 2822.3,223.4 2822.5,220.1 2822.3,211.0 2821.8,220.4 2822.8,220.1 2822.9,221.8 2821.7,205.9 2823.5,217.5 2822.8,214.5 2823.3,215.8 2822.2,210.6 2822.8,212.2 2823.9,207.2 2823.9,204.5 2823.5,205.3 2822.9,200.9 2823.2,207.1 2823.4,203.9 2823.6,199.1 2823.3,199.3 2823.9,197.2 2823.1,194.8 2825.1,190.8 2824.6,195.2 2824.6,195.2 2824.5,192.8 2824.7,191.5 2824.7,192.1 2824.3,189.1 2825.0,183.0 2824.8,189.3 2824.2,189.2 2825.1,181.5 2824.8,183.1 2825.9,179.0 2826.1,179.3 2825.2,177.6 2825.6,177.2 2826.2,175.6 2826.1,167.8 2826.3,170.6 2826.5,172.2 2826.6,174.7 2826.9,171.9 2827.1,167.9 2827.3,170.9 2827.8,165.1 2827.8,164.9 2827.0,163.4 2827.8,162.8 2826.6,163.3 2827.3,154.0 2828.9,153.5 2828.3,161.0 2828.2,156.7 2828.8,158.6 2828.2,159.4 2827.9,158.4 2828.2,165.5 2828.9,165.4 2827.9,166.1 2829.3,161.8 2829.1,170.6 2828.8,174.1 2828.6,166.4 2829.5,171.2 2828.5,171.8 2828.6,169.0 2829.5,173.2 2829.0,176.7 2829.5,173.3 2829.3,177.2 2829.0,178.4 2829.0,178.4 2830.1,181.8 2830.3,182.9 2829.5,185.1 2830.0,189.2 2830.6,186.2 2830.4,183.8 2829.9,189.0 2830.4,182.3 2830.4,193.2 2830.7,196.1 2831.2,197.0 2830.8,195.3 2831.3,196.3 2831.1,192.3 2831.0,192.5 2831.9,200.0 2832.0,198.4 2832.4,196.1 2831.5,206.2 2831.1,203.4 2832.7,201.9 2832.2,204.2 2831.7,211.9 2831.9,205.0 2833.1,211.9 2832.7,213.8 2833.2,212.6 2833.9,218.7 2833.0,214.4 2832.7,217.6 2832.9,212.5 2833.3,220.3 2832.9,226.0 2834.2,223.9 2832.9,225.1 2833.5,224.2 2832.3,220.1 2833.5,226.5 2833.7,227.3 2833.2,224.6 2832.8,224.3 2833.4,231.4 2833.4,230.4 2833.9,235.5 2833.9,230.0 2834.0,237.2 2833.9,240.6 2834.7,238.0 2834.6,239.8 2834.0,238.1 2834.3,237.8 2835.0,236.5 2834.6,244.3 2833.6,244.9 2835.2,247.3 2834.1,249.7 2834.6,250.7 2834.2,252.7 2834.5,252.3 2834.9,251.6 2834.7,253.8 2835.4,254.2 2834.6,251.5 2836.4,249.4 2833.9,242.0 2835.1,248.6 2835.2,243.8 2834.9,243.2 2834.4,240.6 2836.4,242.6 2835.4,236.4 2835.8,233.6 2835.7,242.3 2835.7,236.7 2834.9,229.5 2835.6,230.5 2835.6,233.3 2835.1,230.7 2835.6,230.9 2835.9,227.7 2834.9,224.3 2835.9,228.8 2835.9,221.6 2836.0,217.8 2836.1,225.7 2836.0,220.2 2835.5,225.5 2836.0,218.0 2835.8,223.8 2835.9,216.7 2836.1,214.2 2836.4,212.7 2835.8,213.2 2836.4,211.2 2835.5,213.7 2835.4,207.3 2836.2,209.0 2836.0,209.4 2836.1,202.0 2837.0,200.9 2836.5,208.9 2835.5,205.6 2835.8,193.3 2836.7,198.8 2835.8,194.0 2836.5,197.0 2836.3,197.2 2836.4,197.6 2836.0,192.6 2836.8,197.1 2837.3,190.8 2836.7,189.6 2836.1,179.4 2836.8,184.0 2836.9,186.3 2836.4,184.6 2836.9,186.3 2836.8,181.4 2836.7,180.9 2836.6,180.1 2837.6,188.7 2837.5,179.6 2838.6,184.7 2837.9,183.7 2839.2,183.3 2838.7,195.2 2838.7,188.9 2838.9,194.9 2838.9,197.7 2838.8,194.0 2839.3,194.2 2839.8,204.1 2838.9,199.6 2838.9,194.2 2839.9,199.1 2838.9,199.6 2839.9,200.1 2840.0,202.7 2839.8,204.3 2839.8,205.7 2839.8,199.4 2840.8,207.4 2841.0,211.4 2840.9,205.5 2840.4,209.0 2840.5,204.6 2840.6,217.0 2840.5,214.4 2840.1,209.2 2841.2,214.2 2842.2,212.9 2843.0,213.2 2841.6,207.8 2842.3,207.0 2842.6,209.6 2842.6,209.5 2843.4,207.0 2842.7,211.8 2842.8,209.3 2842.2,209.7 2842.4,217.1 2843.4,213.6 2842.8,214.5 2843.2,219.9 2842.6,222.1 2843.4,219.0 2842.3,221.1 2842.4,220.8 2842.6,214.7 2844.1,227.8 2843.4,224.4 2842.9,226.2 2844.0,231.3 2843.1,237.0 2843.1,234.5 2843.7,236.9 2843.2,236.9 2843.9,232.4 2844.0,232.2 2843.2,241.4 2845.1,236.5 2844.3,242.5 2843.9,244.0 2844.7,237.7 2844.2,244.2 2843.9,243.9 2844.4,248.9 2844.5,250.3 2844.2,248.6 2844.5,246.2 2845.4,254.0 2844.1,247.1 2844.2,254.7 2845.3,252.8 2843.8,253.9 2844.9,259.7 2844.4,255.5 2844.4,262.4 2845.4,260.8 2845.2,261.9 2845.7,270.5 2844.9,265.9 2845.2,260.8 2846.1,268.0 2845.6,272.6 2845.0,267.9 2845.7,270.8 2845.3,271.3 2845.8,270.5 2844.8,275.1 2844.6,272.8 2844.6,279.3 2845.6,273.9 2846.2,281.7 2845.5,280.7 2846.0,283.3 2845.9,281.5 2845.5,288.9 2845.6,283.9 2845.9,282.2 2845.2,285.9 2846.0,288.8 2847.2,283.1 2847.4,284.7 2847.1,298.4 2846.6,297.3 2847.0,294.2 2847.9,296.3 2848.1,293.0 2848.3,295.6 2849.3,301.4 2849.3,300.7 2850.0,305.4 2850.5,301.3 2851.2,302.3 2851.6,303.7 2852.1,306.2 2852.1,303.1 2852.5,308.3 2852.0,309.6 2852.3,311.1 2852.3,312.5 2852.7,307.5 2852.5,312.2 2852.0,314.3 2853.3,318.6 2854.4,309.4 2853.5,318.6 2854.1,317.6 2853.6,319.4 2853.1,314.4 2854.3,321.9 2853.2,322.3 2854.3,325.4 2854.4,324.6 2853.8,324.4 2854.3,334.9 2853.4,332.2 2854.2,334.1 2854.6,332.6 2854.6,330.1 2854.7,340.2 2854.0,337.3 2853.9,335.8 2854.3,344.2 2854.3,343.5 2854.8,338.0 2854.8,340.8 2854.3,348.4 2854.0,347.2 2854.5,344.9 2855.3,347.6 2854.8,348.5 2855.5,348.1 2855.4,349.0 2855.2,356.8 2855.2,355.5 2854.9,355.4 2855.3,355.8 2855.4,363.0 2856.1,356.1 2855.8,359.9 2857.1,358.9 2855.2,360.7 2857.4,368.8 2856.7,361.3 2857.0,366.1 2857.1,369.8 2856.5,373.9 2857.8,371.2 2857.2,370.7 2857.1,365.6 2857.8,368.4 2856.9,371.5 2858.1,361.0 2858.2,359.0 2858.4,363.7 2858.9,363.3 2858.7,363.6 2858.5,358.2 2858.7,361.2 2858.3,358.1 2859.0,353.3 2859.0,359.9 2858.6,354.2 2859.4,350.2 2858.6,354.8 2859.9,347.1 2859.1,347.6 2858.9,349.0 2859.9,352.4 2860.0,346.1 2859.0,343.1 2860.4,337.4 2860.0,338.5 2860.2,337.8 2861.4,333.9 2860.8,337.8 2861.5,339.7 2860.7,335.6 2859.9,333.8 2860.9,333.5 2860.5,338.7 2861.0,329.4 2861.1,338.6 2861.5,344.0 2861.8,340.1 2861.8,342.3 2862.4,346.8 2862.1,348.4 2862.5,343.3 2863.0,347.6 2861.7,345.6 2863.0,348.1 2863.2,352.5 2863.0,346.6 2861.7,352.2 2863.4,351.0 2863.1,352.0 2863.2,364.0 2863.4,355.0 2864.6,360.6 2864.1,365.0 2864.2,356.5 2865.4,360.5 2865.0,361.2 2864.7,363.3 2864.5,360.1 2864.7,358.0 2864.8,362.8 2865.2,360.7 2865.3,350.5 2866.1,354.8 2865.7,357.6 2864.5,354.2 2864.8,355.4 2864.4,354.2 2864.9,355.0 2865.2,348.4 2865.5,346.5 2865.1,342.2 2865.7,348.6 2864.7,345.5 2865.5,338.0 2866.1,338.0 2865.6,342.7 2866.2,342.8 2865.6,338.6 2866.2,333.9 2866.2,336.8 2866.1,332.6 2866.3,328.4 2866.1,332.2 2866.5,329.8 2866.5,329.8 2867.1,331.1 2866.3,334.9 2866.0,329.8 2867.7,334.7 2867.9,339.7 2867.0,339.9 2868.0,337.6 2867.2,333.3 2867.8,341.0 2867.4,338.1 2867.8,348.6 2868.7,347.5 2868.6,351.0 2869.2,346.3 2870.0,342.9 2868.6,348.0 2869.0,348.7 2870.1,348.7 2869.9,354.6 2870.1,355.4 2871.1,353.4 2870.2,355.8 2870.5,354.1 2872.0,353.1 2871.0,357.1 2872.8,354.2 2872.2,354.9 2872.8,349.6 2873.4,347.7 2874.0,348.4 2874.1,353.6 2874.9,349.5 2874.4,351.6 2875.5,356.3 2875.0,349.2 2875.7,356.6 2875.4,355.5 2876.9,358.4 2876.9,355.4 2877.1,355.4 2877.5,361.8 2877.7,363.3 2877.9,359.3 2877.6,362.1 2878.9,358.5 2878.2,359.1 2877.7,365.2 2877.9,355.9 2878.7,352.4 2879.2,351.8 2877.7,352.8 2879.5,353.9 2878.2,353.9 2879.1,351.3 2879.5,350.7 2878.7,344.7 2879.2,339.4 2879.5,344.7 2879.3,341.7 2880.4,345.1 2880.5,340.1 2881.4,339.1 2882.1,342.1 2882.4,343.3 2882.9,342.0 2883.3,340.9 2882.9,341.2 2883.5,342.2 2884.1,344.6 2884.9,342.9 2884.4,347.5 2885.3,351.9 2885.4,349.4 2886.3,356.8 2886.4,355.0 2886.8,356.7 2886.6,357.2 2887.0,355.8 2887.4,354.6 2887.9,359.2 2886.7,359.0 2886.5,359.2 2887.0,363.0 2887.5,366.3 2887.1,363.5 2888.0,364.7 2886.9,365.0 2887.3,361.1 2887.8,370.0 2888.2,369.9 2886.7,373.5 2888.1,365.9 2887.7,370.8 2887.4,374.4 2887.5,376.3 2887.0,377.8 2887.2,379.6 2887.4,381.6 2887.7,381.2 2887.7,376.3 2887.8,374.9 2887.9,381.1 2888.6,383.8 2887.9,389.1 2887.4,389.3 2887.0,388.4 2887.1,396.2 2887.5,384.8 2887.4,392.0 2887.5,394.4 2888.0,397.5 2887.7,392.0 2888.2,396.9 2888.1,399.8 2887.3,402.6 2888.3,393.7 2887.7,403.9 2888.2,401.5 2887.5,410.7 2888.0,402.5 2888.6,402.9 2888.1,407.7 2888.1,408.0 2888.2,419.0 2888.2,417.6 2888.2,417.4 2887.8,414.7 2887.4,416.5 2888.2,410.2 2887.8,414.4 2888.2,420.7 2888.5,418.7 2888.3,422.4 2888.2,422.8 2888.3,427.4 2887.6,428.0 2888.3,426.4 2888.3,430.6 2888.3,427.0 2888.8,430.0 2888.6,432.6 2888.1,430.0 2889.1,432.5 2888.9,435.0 2889.3,436.4 2889.5,432.6 2889.1,430.1 2889.5,436.4 2889.0,440.8 2889.5,441.1 2888.9,445.1 2888.9,441.7 2889.1,449.1 2889.4,447.9 2889.8,450.8 2889.3,448.8 2889.2,454.3 2889.1,447.9 2890.5,452.9 2889.1,456.0 2889.6,457.9 2889.5,459.1 2889.1,466.1 2890.2,458.4 2890.4,460.6 2890.6,456.2 2890.7,460.1 2890.4,466.5 2890.6,466.5 2890.6,465.1 2892.0,462.4 2891.0,470.4 2891.0,471.8 2890.8,468.9 2891.2,471.2 2891.1,463.5 2891.8,464.0 2891.1,467.2 2891.1,462.6 2891.6,466.5 2890.9,465.0 2891.4,461.8 2891.4,457.6 2891.9,460.4 2892.3,457.4 2891.5,460.5 2891.8,459.5 2891.7,455.0 2891.9,456.8 2891.8,453.7 2892.0,450.1 2892.6,446.8 2892.0,453.0 2891.8,445.2 2892.3,443.5 2892.1,446.2 2891.6,445.0 2892.5,439.9 2892.5,446.3 2892.6,442.7 2892.2,436.9 2892.6,438.6 2893.1,434.3 2892.8,438.9 2892.2,438.2 2892.5,432.4 2892.4,432.8 2892.8,431.0 2893.0,430.2 2893.0,430.5 2893.2,433.9 2894.2,434.4 2893.8,432.7 2894.7,434.6 2893.9,436.3 2894.6,438.2 2894.5,441.0 2894.9,441.4 2894.9,437.8 2895.0,444.5 2894.8,445.7 2895.2,447.3 2895.6,447.8 2896.0,442.8 2895.4,450.8 2895.9,453.1 2896.5,453.3 2895.5,451.8 2896.3,451.2 2896.2,453.4 2895.9,457.7 2896.6,465.9 2896.4,456.8 2896.7,460.0 2897.1,462.1 2897.2,463.2 2898.1,465.5 2898.3,468.3 2898.5,468.9 2898.6,467.4 2898.2,466.9 2899.6,473.4 2899.9,469.6 2899.3,475.6 2900.3,472.4 2900.4,470.5 2900.7,474.5 2900.3,475.9 2901.9,474.8 2901.4,479.3 2902.3,485.8 2902.3,482.3 2902.7,479.1 2903.0,486.9 2903.7,485.0 2904.0,485.3 2905.1,490.6 2905.0,491.5 2905.3,490.9 2905.6,486.0 2906.0,493.5 2906.7,495.4 2906.7,489.2 2908.0,492.7 2907.2,493.3 2908.0,494.7 2909.6,496.6 2909.0,496.0 2909.8,497.2 2910.3,497.5 2910.2,495.8 2911.1,491.9 2911.8,494.4 2911.9,497.8 2913.0,494.2 2913.4,496.2 2913.5,493.5 2912.9,494.3 2913.6,489.2 2913.7,488.6 2914.5,488.7 2914.8,489.3 2914.9,487.9 2914.8,486.1 2914.9,483.7 2914.7,483.0 2915.4,484.6 2914.3,480.6 2915.9,478.4 2915.4,480.6 2915.5,480.4 2916.0,473.1 2916.5,471.2 2916.6,469.3 2916.6,468.4 2916.9,472.7 2916.5,470.3 2916.5,466.3 2917.2,467.4 2916.9,468.7 2917.4,472.6 2917.1,473.4 2917.6,473.7 2917.6,469.7 2917.9,475.4 2917.8,474.6 2917.7,481.5 2917.5,477.0 2918.3,476.3 2917.7,481.5 2917.9,479.1 2918.2,482.9 2918.0,479.5 2918.2,486.1 2918.8,489.4 2918.5,491.4 2919.2,485.6 2918.9,490.9 2918.2,486.2 2918.9,493.2 2919.1,493.5 2918.5,498.8 2919.1,494.6 2919.2,495.3 2919.1,500.3 2919.6,503.8 2918.9,501.2 2919.4,502.9 2918.8,500.2 2919.5,506.5 2919.4,504.8 2919.4,503.0 2919.6,507.5 2919.1,509.1 2919.2,508.2 2919.8,512.4 2919.6,515.7 2919.3,513.9 2919.9,513.0 2918.9,518.2 2920.0,516.4 2919.6,517.9 2919.5,516.4 2919.9,518.0 2920.1,520.3 2920.0,525.4 2920.4,526.2 2920.0,526.1 2920.1,530.1 2919.9,527.0 2920.2,527.6 2920.4,529.7 2919.7,533.5 2920.2,529.5 2920.0,532.7 2920.0,536.0 2920.6,533.9 2920.6,539.3 2920.3,539.6 2920.8,543.0 2921.3,535.0 2921.3,538.3 2922.3,532.2 2921.3,535.6 2921.5,531.3 2922.9,530.2 2922.3,529.7 2921.8,529.0 2923.1,531.5 2923.5,536.6 2922.9,529.2 2923.8,537.8 2923.6,535.3 2923.7,539.2 2924.2,539.6 2924.1,541.7 2924.6,538.8 2924.3,548.7 2924.4,544.3 2924.1,546.7 2925.2,549.0 2924.8,547.9 2925.3,549.5 2925.4,547.0 2925.3,554.7 2926.3,551.7 2926.1,554.6 2925.3,558.2 2925.6,558.2 2925.9,562.0 2926.5,558.7 2926.9,559.2 2926.3,559.0 2926.2,563.7 2927.1,560.1 2926.6,564.5 2926.7,564.2 2926.7,567.8 2926.9,565.0 2927.5,570.5 2927.4,570.8 2927.2,573.2 2927.1,572.9 2927.8,576.2 2927.7,579.3 2927.7,578.8 2928.4,577.4 2928.8,581.3 2928.2,581.1 2928.7,576.5 2928.4,581.5 2928.2,580.9 2928.5,576.6 2928.1,574.4 2928.4,573.5 2929.0,569.8 2928.9,568.8 2929.1,575.5 2928.9,567.3 2928.8,566.9 2929.3,567.6 2929.6,568.7 2929.0,564.2 2928.9,569.2 2929.0,556.1 2928.8,556.0 2928.6,563.4 2930.4,557.6 2929.2,558.6 2929.7,558.3 2929.5,555.1 2929.2,552.0 2929.1,556.5 2930.2,557.0 2929.8,550.9 2930.2,546.8 2930.2,547.5 2930.6,549.8 2930.4,544.7 2931.8,543.5 2932.0,545.8 2932.2,541.5 2932.5,549.5 2933.4,541.5 2932.6,545.5 2932.4,543.4 2932.3,546.7 2932.9,554.3 2932.4,554.4 2933.5,554.6 2932.7,553.1 2932.8,560.4 2932.9,557.0 2932.8,562.2 2933.3,552.8 2933.3,561.2 2933.2,559.0 2933.6,558.2 2933.4,566.0 2934.0,559.1 2934.3,565.9 2933.5,559.4 2933.7,565.2 2933.9,564.7 2932.8,568.3 2933.2,575.7 2934.3,570.7 2934.4,566.0 2934.8,572.8 2934.2,575.2 2934.8,577.2 2934.2,573.3 2935.1,572.5 2934.4,569.8 2934.6,562.1 2934.8,567.9 2934.5,567.4 2934.0,565.3 2934.2,564.1 2935.3,561.7 2935.1,561.8 2935.7,566.2 2934.8,559.2 2934.7,556.1 2935.4,559.9 2935.6,551.6 2935.0,554.3 2935.6,552.4 2935.8,553.0 2935.9,552.0 2935.6,552.6 2936.0,546.2 2935.4,548.7 2935.3,547.3 2936.0,543.6 2935.8,543.2 2935.7,539.8 2935.8,543.1 2935.7,540.0 2936.2,539.6 2935.8,539.4 2936.1,540.7 2937.5,543.8 2937.0,544.9 2936.9,548.0 2936.6,551.0 2937.3,550.8 2936.7,550.9 2936.6,551.6 2937.5,550.4 2937.1,552.9 2937.9,552.2 2936.9,555.8 2937.5,556.4 2937.4,559.4 2937.7,556.6 2937.8,563.6 2937.4,564.2 2939.0,562.2 2938.2,560.7 2938.1,565.3 2938.6,563.7 2938.5,556.9 2937.9,560.0 2939.1,557.6 2938.6,555.3 2938.6,556.3 2938.4,559.2 2938.9,554.3 2938.3,555.0 2939.2,556.7 2939.1,543.9 2939.0,549.7 2940.1,550.0 2939.7,547.9 2939.9,546.5 2940.2,547.8 2939.6,545.1 2939.9,545.7 2940.6,540.3 2940.1,541.5 2940.8,538.5 2941.0,537.2 2942.1,536.1 2942.1,539.6 2942.3,541.3 2942.4,539.8 2943.0,543.7 2942.7,541.8 2941.9,546.7 2942.1,545.6 2942.3,547.2 2943.0,550.1 2942.9,553.9 2942.6,555.4 2942.8,558.1 2942.7,553.8 2942.8,554.2 2942.9,556.6 2943.5,560.7 2943.2,561.8 2943.6,557.9 2943.4,562.8 2943.7,558.7 2943.8,564.0 2943.8,564.0 2943.8,563.2 2944.2,565.5 2944.6,570.9 2944.1,569.2 2944.0,568.3 2944.2,572.2 2944.1,570.2 2944.6,573.9 2945.1,583.1 2945.0,573.7 2944.4,578.2 2944.0,578.1 2945.1,576.6 2944.7,587.6 2944.8,580.5 2944.8,586.4 2945.4,586.5 2944.3,583.6 2945.0,587.1 2946.0,589.1 2945.3,587.1 2945.0,595.5 2945.1,589.1 2945.4,591.9 2945.1,595.0 2946.4,591.4 2945.7,595.4 2946.3,599.1 2946.3,597.3 2945.6,598.2 2946.0,601.8 2946.2,602.3 2946.8,606.0 2946.8,599.2 2947.0,605.7 2947.0,608.3 2946.9,610.6 2948.1,612.8 2946.9,611.5 2946.5,616.8 2947.6,614.8 2947.5,616.5 2947.7,613.7 2948.2,620.6 2948.1,618.5 2949.3,618.7 2948.2,615.7 2948.7,616.1 2949.9,613.4 2950.3,610.1 2949.8,609.6 2951.2,608.9 2950.5,611.2 2951.3,608.0 2951.5,608.3 2952.1,609.1 2952.1,603.4 2952.0,605.7 2951.2,598.6 2951.9,600.0 2952.4,595.6 2951.9,601.6 2952.6,598.9 2952.1,595.5 2951.6,589.4 2952.5,592.3 2952.6,592.8 2952.9,593.2 2953.0,590.9 2952.9,586.9 2952.9,583.4 2953.2,583.8 2952.6,587.8 2952.8,588.3 2953.5,580.4 2953.0,583.2 2953.7,580.4 2953.4,578.7 2954.1,578.7 2953.2,584.0 2953.3,584.0 2953.3,581.6 2953.0,584.2 2953.7,585.9 2954.6,589.0 2954.2,589.7 2954.9,587.9 2953.8,587.5 2954.2,589.3 2954.7,599.9 2954.6,596.8 2955.1,593.1 2954.5,598.1 2955.2,593.9 2955.0,595.5 2954.9,597.6 2955.6,602.3 2955.5,604.4 2955.5,603.8 2955.6,604.1 2957.1,603.8 2956.6,603.9 2957.1,602.5 2957.8,607.1 2958.1,604.3 2958.6,603.8 2958.8,603.9 2958.8,604.9 2958.6,602.5 2958.9,609.6 2959.0,608.2 2958.7,610.0 2958.5,611.8 2959.5,611.8 2958.6,614.9 2959.4,612.5 2958.0,613.3 2959.2,618.2 2959.6,621.3 2959.4,626.9 2959.3,618.4 2959.6,618.2 2959.4,626.0 2959.6,625.3 2960.4,620.5 2960.2,632.2 2959.4,628.5 2959.9,629.2 2960.4,633.3 2960.2,633.7 2960.3,632.0 2960.2,638.2 2959.6,634.4 2959.9,639.1 2959.9,635.8 2961.0,640.2 2960.5,641.0 2961.3,639.4 2960.7,643.0 2960.3,643.9 2960.7,645.8 2961.3,646.2 2960.4,642.9 2960.7,644.1 2961.0,641.7 2961.0,643.1 2960.9,641.6 2961.1,640.7 2961.2,633.5 2960.5,636.0 2961.3,639.3 2961.7,626.1 2960.8,629.8 2961.4,630.6 2961.6,627.2 2960.9,626.9 2961.3,624.9 2961.9,626.3 2961.9,627.5 2961.7,619.1 2962.3,621.5 2961.9,621.0 2962.1,620.2 2962.3,615.7 2962.1,614.7 2962.4,616.7 2962.2,612.7 2962.4,615.9 2962.1,611.3 2962.3,609.2 2961.6,608.5 2962.5,605.2 2962.8,607.5 2962.5,606.6 2963.4,604.2 2962.6,596.4 2962.1,599.7 2962.7,602.6 2962.8,599.6 2963.7,603.3 2964.4,598.8 2963.8,601.2 2965.3,601.7 2965.2,606.3 2965.7,604.5 2965.9,603.8 2966.6,604.4 2967.2,602.1 2967.3,612.8 2966.5,609.4 2967.4,611.1 2967.7,608.5 2968.1,608.3 2968.7,614.3 2969.1,616.3 2969.1,616.4 2969.9,616.6 2969.9,613.4 2968.6,612.1 2969.5,610.6 2968.9,610.3 2969.1,610.0 2969.9,606.2 2969.5,603.1 2968.9,605.8 2969.5,603.7 2969.7,607.2 2969.6,597.6 2970.1,598.0 2969.9,600.7 2970.1,598.2 2969.1,597.3 2969.6,600.0 2969.5,594.7 2970.0,589.3 2970.3,595.0 2970.1,593.3 2969.9,589.1 2970.2,583.0 2970.1,589.3 2970.2,584.4 2970.2,585.0 2970.7,584.2 2970.1,583.9 2970.8,584.1 2971.0,580.1 2971.1,577.1 2970.6,578.9 2970.6,577.0 2970.7,575.0 2970.4,580.0 2971.1,570.9 2971.1,574.3 2971.8,574.5 2971.7,565.2 2971.4,568.4 2971.4,566.9 2971.2,566.1 2971.6,562.9 2971.6,565.2 2972.3,560.3 2972.0,560.0 2972.7,558.5 2973.5,557.0 2972.5,558.1 2973.9,556.7 2973.4,554.2 2974.1,558.4 2974.5,562.3 2974.2,559.5 2974.3,562.3 2974.1,561.8 2974.8,564.6 2974.4,567.0 2974.4,564.9 2974.7,566.1 2974.7,571.1 2974.2,572.3 2974.8,570.6 2975.0,575.5 2975.1,570.6 2975.1,576.3 2975.1,576.5 2975.1,581.5 2975.2,582.2 2975.4,577.4 2975.1,580.4 2975.2,584.3 2975.3,581.0 2976.0,581.4 2975.8,587.5 2975.9,588.9 2975.2,592.4 2975.3,588.8 2976.1,595.7 2975.3,594.0 2976.2,598.2 2975.9,594.3 2975.9,593.8 2976.5,596.1 2975.6,601.2 2976.2,602.2 2975.1,598.2 2976.9,600.6 2976.4,603.8 2977.0,600.7 2977.1,606.8 2977.1,599.1 2977.8,602.2 2978.3,595.2 2978.4,597.1 2978.8,596.2 2978.9,593.4 2980.1,595.8 2979.6,591.3 2978.8,593.4 2980.2,588.3 2979.3,589.2 2979.4,590.1 2980.4,585.9 2980.0,587.4 2980.5,582.9 2981.0,584.4 2980.9,581.1 2980.8,579.3 2981.6,573.2 2981.3,573.0 2981.7,574.8 2981.3,572.7 2982.5,573.6 2982.3,570.7 2981.6,572.7 2982.2,570.2 2982.1,565.9 2982.5,568.8 2982.7,566.1 2982.8,569.6 2984.0,562.4 2984.3,565.6 2984.4,565.9 2984.4,572.8 2984.9,568.2 2985.8,568.2 2985.7,566.8 2986.1,574.1 2985.9,568.2 2986.1,578.8 2986.4,574.4 2986.9,572.6 2986.5,574.9 2987.3,578.3 2987.1,577.9 2986.8,580.8 2987.4,582.0 2987.3,583.1 2987.6,582.9 2987.4,586.3 2987.9,582.4 2987.9,587.1 2987.3,591.6 2988.4,587.2 2988.3,591.7 2988.5,590.5 2989.0,593.1 2989.1,594.3 2988.6,594.3 2988.6,595.5 2988.0,601.5 2989.5,601.6 2989.3,605.1 2989.4,601.8 2989.0,601.4 2988.8,603.8 2989.5,604.2 2989.4,601.7 2990.1,606.4 2989.6,609.8 2990.0,607.7 2990.2,606.9 2990.1,614.3 2990.6,612.2 2990.7,616.7 2989.7,614.0 2990.5,613.7 2990.9,616.0 2991.0,616.8 2991.2,620.0 2991.3,625.9 2991.1,622.7 2990.8,618.9 2991.1,621.6 2991.6,622.4 2990.5,620.1 2991.5,615.2 2991.9,615.2 2991.7,618.1 2991.6,611.1 2991.8,611.8 2992.5,610.2 2992.2,609.6 2992.2,610.4 2992.9,604.1 2992.4,608.4 2992.6,606.3 2992.1,601.7 2992.0,602.1 2993.4,604.2 2992.9,601.4 2992.8,600.0 2993.5,602.3 2992.8,598.3 2994.0,593.0 2993.1,591.4 2993.5,591.6 2993.5,594.4 2993.4,591.3 2993.6,590.1 2993.6,590.2 2993.6,589.4 2993.4,582.8 2994.5,583.6 2994.2,582.9 2993.3,577.3 2994.2,580.8 2994.3,584.0 2994.2,582.8 2994.7,581.8 2994.5,589.1 2994.7,585.2 2994.7,589.2 2994.4,592.6 2995.3,591.8 2995.3,588.5 2995.3,594.0 2995.4,592.8 2995.7,595.0 2996.1,592.8 2995.8,600.4 2996.0,596.8 2995.9,594.9 2996.5,602.4 2996.3,602.2 2996.3,603.8 2996.1,604.9 2997.0,604.3 2996.8,600.5 2996.7,599.3 2996.9,597.7 2996.8,594.7 2997.6,595.0 2997.2,591.7 2997.9,594.1 2997.9,590.4 2998.1,589.7 2998.4,589.2 2998.5,589.6 2998.5,586.7 2998.2,584.2 2998.9,587.3 2999.7,585.7 2999.5,580.3 2999.7,579.6 2999.8,577.1 2999.9,579.8 3000.8,578.4 2999.9,577.5 2999.9,578.1 2999.9,571.4 3000.5,572.4 3000.7,569.6 3000.5,569.1 3000.1,569.4 3001.4,564.3 3001.3,571.3 3000.9,563.5 3001.1,566.5 3001.1,561.9 3000.8,558.6 3002.0,562.5 3001.1,557.4 3001.9,562.3 3001.7,552.3 3001.5,555.4 3002.3,557.7 3001.7,556.0 3002.3,555.9 3001.7,548.5 3001.5,548.5 3001.6,547.3 3002.2,548.9 3002.3,547.7 3002.1,543.2 3002.3,542.9 3003.1,543.9 3002.6,541.0 3003.5,537.6 3002.8,539.4 3004.3,544.8 3004.4,541.6 3004.7,543.1 3004.3,539.7 3005.6,541.5 3005.1,534.7 3005.0,538.6 3004.9,537.3 3004.0,535.7 3005.0,533.7 3005.3,533.2 3005.1,533.6 3005.3,533.7 3005.3,526.3 3004.8,530.0 3005.4,525.8 3005.5,531.1 3006.8,529.9 3005.8,524.2 3006.2,520.2 3005.6,522.4 3006.4,523.0 3007.0,519.5 3006.5,517.5 3007.1,518.3 3007.3,515.2 3007.3,518.9 3007.5,514.3 3008.3,515.5 3008.1,513.7 3008.3,506.9 3008.4,513.5 3008.3,509.9 3008.9,504.5 3009.2,508.6 3008.9,504.0 3009.5,502.8 3009.2,504.3 3009.3,501.7 3009.6,502.5 3010.6,497.8 3010.2,497.0 3010.2,499.7 3010.5,502.6 3010.6,504.0 3011.2,498.0 3012.0,499.9 3012.1,502.8 3012.8,503.7 3013.5,505.2 3013.2,517.1 3013.6,505.0 3013.9,512.4 3014.0,512.0 3014.7,509.6 3013.9,516.0 3015.5,518.2 3014.9,519.6 3015.5,516.9 3016.4,520.2 3016.8,520.5 3017.9,520.8 3017.7,523.0 3018.2,523.5 3019.3,522.4 3018.3,521.3 3020.2,519.0 3020.2,521.5 3020.8,521.8 3021.4,518.6 3021.4,519.5 3021.7,518.1 3021.8,522.7 3021.7,525.2 3021.6,528.5 3022.0,524.2 3021.7,524.3 3022.0,528.5 3021.6,531.6 3022.7,527.5 3022.3,534.9 3021.8,526.7 3022.4,535.8 3021.5,534.7 3022.6,537.0 3022.8,540.6 3022.7,540.1 3023.0,540.0 3023.3,537.0 3022.8,541.7 3022.7,542.1 3023.1,544.9 3023.2,543.7 3023.6,549.4 3022.7,545.9 3023.5,548.0 3023.5,552.8 3023.8,553.8 3023.4,554.2 3024.2,553.9 3024.8,555.9 3025.2,558.2 3024.9,560.1 3024.6,564.4 3024.3,563.6 3024.6,562.0 3023.8,561.2 3024.3,566.1 3024.6,568.6 3024.0,568.0 3024.7,569.0 3024.1,571.8 3025.2,570.0 3024.9,570.3 3025.0,569.2 3025.1,579.1 3025.3,575.2 3024.8,580.9 3025.0,581.4 3025.2,577.5 3024.9,579.7 3025.3,583.0 3025.1,582.8 3025.7,581.6 3025.6,582.8 3026.1,585.7 3025.7,587.8 3025.4,589.8 3025.0,588.0 3026.6,590.1 3024.8,587.7 3024.4,590.9 3025.4,598.6 3025.5,596.3 3025.9,598.8 3025.4,596.0 3025.7,599.6 3026.1,600.4 3026.8,595.5 3027.0,597.7 3027.6,598.5 3028.1,599.2 3027.8,601.8 3028.8,595.5 3029.3,591.3 3029.1,597.4 3029.5,597.9 3028.9,602.0 3029.7,600.8 3029.4,607.0 3029.4,603.0 3029.7,606.2 3029.8,602.4 3029.8,605.1 3030.1,608.5 3029.9,609.6 3030.5,611.4 3031.3,611.7 3030.8,614.2 3030.9,614.3 3030.9,614.0 3031.5,620.9 3031.8,621.2 3031.8,620.7 3032.0,620.9 3031.4,621.8 3032.0,622.7" fill="none" stroke="#1f5fb4" stroke-width="4.80" stroke-linejoin="round" stroke-linecap="square" clip-path="url(#axclip)"/>
<rect x="164.0" y="107.9" width="3004.80" height="1057.90" fill="none" stroke="#000" stroke-width="2.44" stroke-linejoin="miter"/>
<text x="142.3" y="1165.00" font-size="30.56" text-anchor="end" fill="#000">0</text>
<text x="142.3" y="988.25" font-size="30.56" text-anchor="end" fill="#000">1000</text>
<text x="142.3" y="811.50" font-size="30.56" text-anchor="end" fill="#000">2000</text>
<text x="142.3" y="634.75" font-size="30.56" text-anchor="end" fill="#000">3000</text>
<text x="142.3" y="458.00" font-size="30.56" text-anchor="end" fill="#000">4000</text>
<text x="142.3" y="281.25" font-size="30.56" text-anchor="end" fill="#000">5000</text>
<text transform="translate(186.10 1207.20) rotate(-30)" font-size="30.56" text-anchor="end" fill="#000">2000</text>
<text transform="translate(405.70 1207.20) rotate(-30)" font-size="30.56" text-anchor="end" fill="#000">2002</text>
<text transform="translate(625.00 1207.20) rotate(-30)" font-size="30.56" text-anchor="end" fill="#000">2004</text>
<text transform="translate(844.60 1207.20) rotate(-30)" font-size="30.56" text-anchor="end" fill="#000">2006</text>
<text transform="translate(1063.90 1207.20) rotate(-30)" font-size="30.56" text-anchor="end" fill="#000">2008</text>
<text transform="translate(1283.50 1207.20) rotate(-30)" font-size="30.56" text-anchor="end" fill="#000">2010</text>
<text transform="translate(1502.80 1207.20) rotate(-30)" font-size="30.56" text-anchor="end" fill="#000">2012</text>
<text transform="translate(1722.40 1207.20) rotate(-30)" font-size="30.56" text-anchor="end" fill="#000">2014</text>
<text transform="translate(1941.70 1207.20) rotate(-30)" font-size="30.56" text-anchor="end" fill="#000">2016</text>
<text transform="translate(2161.30 1207.20) rotate(-30)" font-size="30.56" text-anchor="end" fill="#000">2018</text>
<text transform="translate(2380.60 1207.20) rotate(-30)" font-size="30.56" text-anchor="end" fill="#000">2020</text>
<text transform="translate(2600.20 1207.20) rotate(-30)" font-size="30.56" text-anchor="end" fill="#000">2022</text>
<text transform="translate(2819.50 1207.20) rotate(-30)" font-size="30.56" text-anchor="end" fill="#000">2024</text>
<text transform="translate(3039.10 1207.20) rotate(-30)" font-size="30.56" text-anchor="end" fill="#000">2026</text>
<text x="1666.40" y="1282.5" font-size="30.56" text-anchor="middle" fill="#000">日付</text>
<text transform="translate(57.1 637.5) rotate(-90)" font-size="30.56" text-anchor="middle" fill="#000">株価（円）</text>
<text y="69.8" font-size="48.89" fill="#000"><tspan x="778.80">オリエンタルランド</tspan><tspan x="1230.44">株価推移（期間：</tspan><tspan x="1621.94">2001</tspan><tspan x="1731.05">-</tspan><tspan x="1751.06">01</tspan><tspan x="1806.15">-</tspan><tspan x="1826.36">01</tspan><tspan x="1895.85">〜</tspan><tspan x="1958.24">2025</tspan><tspan x="2067.75">-</tspan><tspan x="2087.80">11</tspan><tspan x="2142.85">-</tspan><tspan x="2164.04">26</tspan><tspan x="2215.62">（約</tspan><tspan x="2316.14">24.9</tspan><tspan x="2410.05">年））</tspan></text>
<rect x="350.99" y="1037.30" width="935.50" height="41.00" rx="6.11" fill="#fff" fill-opacity="0.7"/>
<text class="ann" x="357.10" y="1066.50" font-size="30.56" fill="#333" stroke="#fff" stroke-width="9.17" stroke-linejoin="round" paint-order="stroke">★2001年：東京ディズニーシー開業。景気後退で株価反応は限定的</text>
<rect x="514.59" y="917.30" width="599.49" height="41.00" rx="6.11" fill="#fff" fill-opacity="0.7"/>
<text class="ann" x="520.70" y="946.50" font-size="30.56" fill="#333" stroke="#fff" stroke-width="9.17" stroke-linejoin="round" paint-order="stroke">★2003年：景気持ち直しも株価は横ばい圏</text>
<path d="M520.70 937.80L521.10 1078.80M514.95 1066.60L521.10 1078.80L527.18 1066.56" fill="none" stroke="#464646" stroke-width="3.67" stroke-linecap="round" stroke-linejoin="round"/>
<rect x="1169.59" y="913.10" width="477.30" height="41.00" rx="6.11" fill="#fff" fill-opacity="0.7"/>
<text class="ann" x="1175.70" y="942.30" font-size="30.56" fill="#333" stroke="#fff" stroke-width="9.17" stroke-linejoin="round" paint-order="stroke">★2008年：リーマン危機で下押し</text>
<path d="M1175.70 933.60L1175.90 1074.60M1169.77 1062.39L1175.90 1074.60L1181.99 1062.37" fill="none" stroke="#464646" stroke-width="3.67" stroke-linecap="round" stroke-linejoin="round"/>
<rect x="1485.29" y="1043.70" width="660.58" height="41.00" rx="6.11" fill="#fff" fill-opacity="0.7"/>
<text class="ann" x="1491.40" y="1072.90" font-size="30.56" fill="#333" stroke="#fff" stroke-width="9.17" stroke-linejoin="round" paint-order="stroke">★2011年：東日本大震災で一時休園・来園者減</text>
<rect x="1705.79" y="784.70" width="905.00" height="41.00" rx="6.11" fill="#fff" fill-opacity="0.7"/>
<text class="ann" x="1711.90" y="813.90" font-size="30.56" fill="#333" stroke="#fff" stroke-width="9.17" stroke-linejoin="round" paint-order="stroke">★2013年：アベノミクスと円安、TDL30周年で上昇トレンド入り</text>
<path d="M1711.90 805.20L1685.00 992.60M1680.69 979.63L1685.00 992.60L1692.79 981.37" fill="none" stroke="#464646" stroke-width="3.67" stroke-linecap="round" stroke-linejoin="round"/>
<rect x="1854.89" y="640.50" width="660.58" height="41.00" rx="6.11" fill="#fff" fill-opacity="0.7"/>
<text class="ann" x="1861.00" y="669.70" font-size="30.56" fill="#333" stroke="#fff" stroke-width="9.17" stroke-linejoin="round" paint-order="stroke">★2015年：インバウンド拡大続くが一服し調整</text>
<path d="M1861.00 661.00L1861.70 802.40M1855.53 790.21L1861.70 802.40L1867.75 790.15" fill="none" stroke="#464646" stroke-width="3.67" stroke-linecap="round" stroke-linejoin="round"/>
<rect x="1958.69" y="926.20" width="782.77" height="41.00" rx="6.11" fill="#fff" fill-opacity="0.7"/>
<text class="ann" x="1964.80" y="955.40" font-size="30.56" fill="#333" stroke="#fff" stroke-width="9.17" stroke-linejoin="round" paint-order="stroke">★2016年：大規模拡張計画発表で中期成長期待が再評価</text>
<path d="M1964.80 946.70L1964.00 893.00M1970.29 905.13L1964.00 893.00L1958.07 905.31" fill="none" stroke="#464646" stroke-width="3.67" stroke-linecap="round" stroke-linejoin="round"/>
<rect x="2255.29" y="497.20" width="767.57" height="41.00" rx="6.11" fill="#fff" fill-opacity="0.7"/>
<text class="ann" x="2261.40" y="526.40" font-size="30.56" fill="#333" stroke="#fff" stroke-width="9.17" stroke-linejoin="round" paint-order="stroke">★2018年：来園者数が過去最高圏。株価は2,000円台へ</text>
<path d="M2261.40 517.70L2234.50 705.60M2230.18 692.64L2234.50 705.60L2242.28 694.37" fill="none" stroke="#464646" stroke-width="3.67" stroke-linecap="round" stroke-linejoin="round"/>
<rect x="2481.49" y="376.60" width="568.94" height="41.00" rx="6.11" fill="#fff" fill-opacity="0.7"/>
<text class="ann" x="2487.60" y="405.80" font-size="30.56" fill="#333" stroke="#fff" stroke-width="9.17" stroke-linejoin="round" paint-order="stroke">★2020年：新型コロナで長期休園・急落</text>
<path d="M2487.60 397.10L2488.00 491.90M2481.84 479.70L2488.00 491.90L2494.06 479.65" fill="none" stroke="#464646" stroke-width="3.67" stroke-linecap="round" stroke-linejoin="round"/>
<rect x="2593.19" y="257.00" width="650.41" height="41.00" rx="6.11" fill="#fff" fill-opacity="0.7"/>
<text class="ann" x="2599.30" y="286.20" font-size="30.56" fill="#333" stroke="#fff" stroke-width="9.17" stroke-linejoin="round" paint-order="stroke">★2021年：段階的再開とコスト管理でV字回復</text>
<path d="M2599.30 277.50L2599.30 418.70M2593.19 406.48L2599.30 418.70L2605.41 406.48" fill="none" stroke="#464646" stroke-width="3.67" stroke-linecap="round" stroke-linejoin="round"/>
<rect x="2622.29" y="117.60" width="691.13" height="41.00" rx="6.11" fill="#fff" fill-opacity="0.7"/>
<text class="ann" x="2628.40" y="146.80" font-size="30.56" fill="#333" stroke="#fff" stroke-width="9.17" stroke-linejoin="round" paint-order="stroke">★2022年：円安と客足回復で過去最高値圏に到達</text>
<path d="M2628.40 138.10L2628.80 279.10M2622.65 266.90L2628.80 279.10L2634.88 266.86" fill="none" stroke="#464646" stroke-width="3.67" stroke-linecap="round" stroke-linejoin="round"/>
<rect x="2823.39" y="627.50" width="721.68" height="41.00" rx="6.11" fill="#fff" fill-opacity="0.7"/>
<text class="ann" x="2829.50" y="656.70" font-size="30.56" fill="#333" stroke="#fff" stroke-width="9.17" stroke-linejoin="round" paint-order="stroke">★2023年：回復継続。新エリア期待で高値揉み合い</text>
<path d="M2829.50 648.00L2771.30 175.30M2778.86 186.68L2771.30 175.30L2766.73 188.18" fill="none" stroke="#464646" stroke-width="3.67" stroke-linecap="round" stroke-linejoin="round"/>
<rect x="2912.19" y="769.00" width="1027.14" height="41.00" rx="6.11" fill="#fff" fill-opacity="0.7"/>
<text class="ann" x="2918.30" y="798.20" font-size="30.56" fill="#333" stroke="#fff" stroke-width="9.17" stroke-linejoin="round" paint-order="stroke">★2024年：『ファンタジースプリングス』開業。材料出尽くし感から調整</text>
<path d="M2918.30 789.50L2830.20 176.30M2837.99 187.53L2830.20 176.30L2825.89 189.27" fill="none" stroke="#464646" stroke-width="3.67" stroke-linecap="round" stroke-linejoin="round"/>
<rect x="3064.89" y="876.90" width="630.03" height="41.00" rx="6.11" fill="#fff" fill-opacity="0.7"/>
<text class="ann" x="3071.00" y="906.10" font-size="30.56" fill="#333" stroke="#fff" stroke-width="9.17" stroke-linejoin="round" paint-order="stroke">★2025年：高値圏での持ち合い・横ばい推移</text>
<path d="M3071.00 897.40L3014.00 517.70M3021.86 528.88L3014.00 517.70L3009.77 530.69" fill="none" stroke="#464646" stroke-width="3.67" stroke-linecap="round" stroke-linejoin="round"/>
<g opacity="0.8"><rect x="179.5" y="123.3" width="384.80" height="52.60" rx="6.11" fill="#fff" stroke="#cccccc" stroke-width="3.06"/></g>
<path d="M189.2 148.5H254.9" stroke="#1f5fb4" stroke-width="4.80" fill="none"/>
<text x="277.6" y="159.3" font-size="30.56" fill="#000">オリエンタルランド</text>
</svg></body></html>
